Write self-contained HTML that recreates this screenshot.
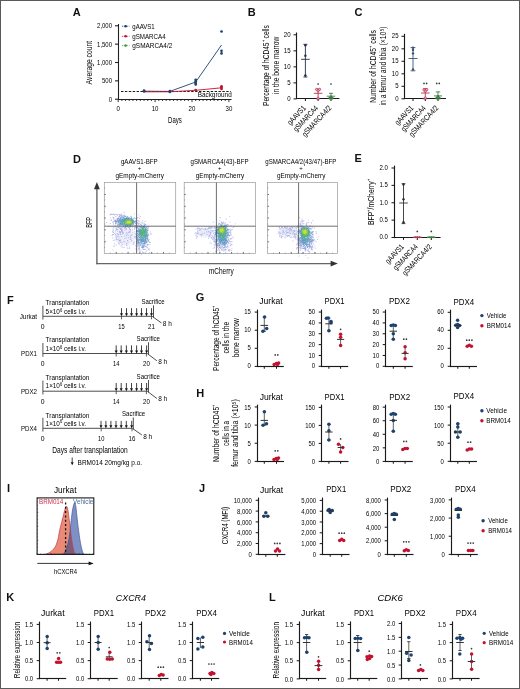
<!DOCTYPE html><html><head><meta charset="utf-8"><style>html,body{margin:0;padding:0;background:#fff;}svg{display:block;will-change:transform;}text{font-family:"Liberation Sans",sans-serif;}</style></head><body>
<svg width="520" height="689" viewBox="0 0 520 689">
<rect x="0" y="0" width="520" height="689" fill="#fff"/>
<text x="72.80" y="15.80" font-size="11" font-weight="bold" fill="#111">A</text>
<line x1="118.50" y1="24.00" x2="118.50" y2="100.00" stroke="#222" stroke-width="1.1"/>
<line x1="118.00" y1="99.50" x2="231.50" y2="99.50" stroke="#222" stroke-width="1.15"/>
<line x1="115.00" y1="25.80" x2="118.50" y2="25.80" stroke="#222" stroke-width="1.1"/>
<text x="112.00" y="28.32" font-size="7.2" text-anchor="end" textLength="14.90" lengthAdjust="spacingAndGlyphs">2,000</text>
<line x1="115.00" y1="44.15" x2="118.50" y2="44.15" stroke="#222" stroke-width="1.1"/>
<text x="112.00" y="46.67" font-size="7.2" text-anchor="end" textLength="14.90" lengthAdjust="spacingAndGlyphs">1,500</text>
<line x1="115.00" y1="62.50" x2="118.50" y2="62.50" stroke="#222" stroke-width="1.1"/>
<text x="112.00" y="65.02" font-size="7.2" text-anchor="end" textLength="14.90" lengthAdjust="spacingAndGlyphs">1,000</text>
<line x1="115.00" y1="80.85" x2="118.50" y2="80.85" stroke="#222" stroke-width="1.1"/>
<text x="112.00" y="83.37" font-size="7.2" text-anchor="end" textLength="10.05" lengthAdjust="spacingAndGlyphs">500</text>
<line x1="115.00" y1="99.20" x2="118.50" y2="99.20" stroke="#222" stroke-width="1.1"/>
<text x="112.00" y="101.72" font-size="7.2" text-anchor="end" textLength="3.35" lengthAdjust="spacingAndGlyphs">0</text>
<line x1="118.20" y1="99.50" x2="118.20" y2="102.10" stroke="#222" stroke-width="0.9"/>
<line x1="121.89" y1="99.50" x2="121.89" y2="101.00" stroke="#222" stroke-width="0.9"/>
<line x1="125.58" y1="99.50" x2="125.58" y2="101.00" stroke="#222" stroke-width="0.9"/>
<line x1="129.27" y1="99.50" x2="129.27" y2="101.00" stroke="#222" stroke-width="0.9"/>
<line x1="132.96" y1="99.50" x2="132.96" y2="101.00" stroke="#222" stroke-width="0.9"/>
<line x1="136.65" y1="99.50" x2="136.65" y2="101.00" stroke="#222" stroke-width="0.9"/>
<line x1="140.34" y1="99.50" x2="140.34" y2="101.00" stroke="#222" stroke-width="0.9"/>
<line x1="144.03" y1="99.50" x2="144.03" y2="101.00" stroke="#222" stroke-width="0.9"/>
<line x1="147.72" y1="99.50" x2="147.72" y2="101.00" stroke="#222" stroke-width="0.9"/>
<line x1="151.41" y1="99.50" x2="151.41" y2="101.00" stroke="#222" stroke-width="0.9"/>
<line x1="155.10" y1="99.50" x2="155.10" y2="102.10" stroke="#222" stroke-width="0.9"/>
<line x1="158.79" y1="99.50" x2="158.79" y2="101.00" stroke="#222" stroke-width="0.9"/>
<line x1="162.48" y1="99.50" x2="162.48" y2="101.00" stroke="#222" stroke-width="0.9"/>
<line x1="166.17" y1="99.50" x2="166.17" y2="101.00" stroke="#222" stroke-width="0.9"/>
<line x1="169.86" y1="99.50" x2="169.86" y2="101.00" stroke="#222" stroke-width="0.9"/>
<line x1="173.55" y1="99.50" x2="173.55" y2="101.00" stroke="#222" stroke-width="0.9"/>
<line x1="177.24" y1="99.50" x2="177.24" y2="101.00" stroke="#222" stroke-width="0.9"/>
<line x1="180.93" y1="99.50" x2="180.93" y2="101.00" stroke="#222" stroke-width="0.9"/>
<line x1="184.62" y1="99.50" x2="184.62" y2="101.00" stroke="#222" stroke-width="0.9"/>
<line x1="188.31" y1="99.50" x2="188.31" y2="101.00" stroke="#222" stroke-width="0.9"/>
<line x1="192.00" y1="99.50" x2="192.00" y2="102.10" stroke="#222" stroke-width="0.9"/>
<line x1="195.69" y1="99.50" x2="195.69" y2="101.00" stroke="#222" stroke-width="0.9"/>
<line x1="199.38" y1="99.50" x2="199.38" y2="101.00" stroke="#222" stroke-width="0.9"/>
<line x1="203.07" y1="99.50" x2="203.07" y2="101.00" stroke="#222" stroke-width="0.9"/>
<line x1="206.76" y1="99.50" x2="206.76" y2="101.00" stroke="#222" stroke-width="0.9"/>
<line x1="210.45" y1="99.50" x2="210.45" y2="101.00" stroke="#222" stroke-width="0.9"/>
<line x1="214.14" y1="99.50" x2="214.14" y2="101.00" stroke="#222" stroke-width="0.9"/>
<line x1="217.83" y1="99.50" x2="217.83" y2="101.00" stroke="#222" stroke-width="0.9"/>
<line x1="221.52" y1="99.50" x2="221.52" y2="101.00" stroke="#222" stroke-width="0.9"/>
<line x1="225.21" y1="99.50" x2="225.21" y2="101.00" stroke="#222" stroke-width="0.9"/>
<line x1="228.90" y1="99.50" x2="228.90" y2="102.10" stroke="#222" stroke-width="0.9"/>
<text x="118.20" y="111.19" font-size="7.2" text-anchor="middle" textLength="3.40" lengthAdjust="spacingAndGlyphs">0</text>
<text x="155.10" y="111.19" font-size="7.2" text-anchor="middle" textLength="6.80" lengthAdjust="spacingAndGlyphs">10</text>
<text x="192.00" y="111.19" font-size="7.2" text-anchor="middle" textLength="6.80" lengthAdjust="spacingAndGlyphs">20</text>
<text x="228.90" y="111.19" font-size="7.2" text-anchor="middle" textLength="6.80" lengthAdjust="spacingAndGlyphs">30</text>
<text x="174.90" y="122.66" font-size="8.2" text-anchor="middle" textLength="13.70" lengthAdjust="spacingAndGlyphs">Days</text>
<text x="91.80" y="62.60" font-size="8.4" text-anchor="middle" textLength="43.60" lengthAdjust="spacingAndGlyphs" transform="rotate(-90 91.80 62.60)">Average count</text>
<line x1="121.00" y1="91.50" x2="231.00" y2="91.50" stroke="#1a1a1a" stroke-width="1.1" stroke-dasharray="2.4,1.5"/>
<text x="214.70" y="96.76" font-size="7.2" text-anchor="middle" textLength="34.00" lengthAdjust="spacingAndGlyphs">Background</text>
<path d="M144.03 91.2 L169.86 91.4 L195.69 82 L221.51999999999998 45" fill="none" stroke="#1c426f" stroke-width="0.9"/>
<path d="M144.03 91.8 L169.86 91.8 L195.69 90.3 L221.51999999999998 87.8" fill="none" stroke="#c3122f" stroke-width="0.9"/>
<circle cx="144.03" cy="90.60" r="1.35" fill="#1c426f"/>
<circle cx="144.03" cy="91.40" r="1.35" fill="#1c426f"/>
<circle cx="169.86" cy="91.00" r="1.35" fill="#1c426f"/>
<circle cx="169.86" cy="92.00" r="1.35" fill="#1c426f"/>
<circle cx="195.69" cy="79.80" r="1.35" fill="#1c426f"/>
<circle cx="195.69" cy="81.40" r="1.35" fill="#1c426f"/>
<circle cx="195.69" cy="83.00" r="1.35" fill="#1c426f"/>
<circle cx="195.69" cy="84.40" r="1.35" fill="#1c426f"/>
<circle cx="221.52" cy="31.50" r="1.35" fill="#1c426f"/>
<circle cx="221.52" cy="50.80" r="1.35" fill="#1c426f"/>
<circle cx="221.52" cy="53.40" r="1.35" fill="#1c426f"/>
<circle cx="195.69" cy="90.10" r="1.35" fill="#c3122f"/>
<circle cx="221.52" cy="86.30" r="1.35" fill="#c3122f"/>
<circle cx="221.52" cy="87.60" r="1.35" fill="#c3122f"/>
<circle cx="221.52" cy="89.00" r="1.35" fill="#c3122f"/>
<line x1="121.90" y1="26.20" x2="129.40" y2="26.20" stroke="#1c426f" stroke-width="0.8" stroke-dasharray="1.4,0.9"/>
<circle cx="125.60" cy="26.20" r="1.3" fill="#1c426f"/>
<text x="132.30" y="28.64" font-size="7.4" textLength="22.30" lengthAdjust="spacingAndGlyphs">gAAVS1</text>
<line x1="121.90" y1="36.30" x2="129.40" y2="36.30" stroke="#c3122f" stroke-width="0.8" stroke-dasharray="1.4,0.9"/>
<circle cx="125.60" cy="36.30" r="1.3" fill="#c3122f"/>
<text x="132.30" y="38.74" font-size="7.4" textLength="33.30" lengthAdjust="spacingAndGlyphs">gSMARCA4</text>
<line x1="121.90" y1="45.60" x2="129.40" y2="45.60" stroke="#4a9a3a" stroke-width="0.8" stroke-dasharray="1.4,0.9"/>
<circle cx="125.60" cy="45.60" r="1.3" fill="#4a9a3a"/>
<text x="132.30" y="48.04" font-size="7.4" textLength="40.00" lengthAdjust="spacingAndGlyphs">gSMARCA4/2</text>
<text x="247.80" y="15.80" font-size="11" font-weight="bold" fill="#111">B</text>
<line x1="296.50" y1="32.50" x2="296.50" y2="99.08" stroke="#1a1a1a" stroke-width="1.15"/>
<line x1="295.93" y1="98.50" x2="339.40" y2="98.50" stroke="#1a1a1a" stroke-width="1.15"/>
<line x1="293.50" y1="98.90" x2="296.50" y2="98.90" stroke="#1a1a1a" stroke-width="1.035"/>
<text x="290.60" y="100.70" font-size="7.2" text-anchor="end" textLength="3.40" lengthAdjust="spacingAndGlyphs">0</text>
<line x1="293.50" y1="82.88" x2="296.50" y2="82.88" stroke="#1a1a1a" stroke-width="1.035"/>
<text x="290.60" y="84.67" font-size="7.2" text-anchor="end" textLength="3.40" lengthAdjust="spacingAndGlyphs">5</text>
<line x1="293.50" y1="66.85" x2="296.50" y2="66.85" stroke="#1a1a1a" stroke-width="1.035"/>
<text x="290.60" y="68.65" font-size="7.2" text-anchor="end" textLength="6.80" lengthAdjust="spacingAndGlyphs">10</text>
<line x1="293.50" y1="50.83" x2="296.50" y2="50.83" stroke="#1a1a1a" stroke-width="1.035"/>
<text x="290.60" y="52.62" font-size="7.2" text-anchor="end" textLength="6.80" lengthAdjust="spacingAndGlyphs">15</text>
<line x1="293.50" y1="34.80" x2="296.50" y2="34.80" stroke="#1a1a1a" stroke-width="1.035"/>
<text x="290.60" y="36.60" font-size="7.2" text-anchor="end" textLength="6.80" lengthAdjust="spacingAndGlyphs">20</text>
<line x1="305.40" y1="98.50" x2="305.40" y2="100.90" stroke="#1a1a1a" stroke-width="1.035"/>
<line x1="318.10" y1="98.50" x2="318.10" y2="100.90" stroke="#1a1a1a" stroke-width="1.035"/>
<line x1="331.00" y1="98.50" x2="331.00" y2="100.90" stroke="#1a1a1a" stroke-width="1.035"/>
<text x="269.00" y="65.60" font-size="9.0" text-anchor="middle" textLength="80.80" lengthAdjust="spacingAndGlyphs" transform="rotate(-90 269.00 65.60)">Percentage of hCD45⁺ cells</text>
<text x="278.90" y="65.30" font-size="9.0" text-anchor="middle" textLength="57.50" lengthAdjust="spacingAndGlyphs" transform="rotate(-90 278.90 65.30)">in the bone marrow</text>
<line x1="305.40" y1="44.30" x2="305.40" y2="77.00" stroke="#232e45" stroke-width="0.9"/>
<line x1="301.10" y1="59.30" x2="309.70" y2="59.30" stroke="#232e45" stroke-width="0.9"/>
<line x1="303.40" y1="44.30" x2="307.40" y2="44.30" stroke="#232e45" stroke-width="0.9"/>
<line x1="303.40" y1="77.00" x2="307.40" y2="77.00" stroke="#232e45" stroke-width="0.9"/>
<circle cx="305.40" cy="45.20" r="1.2" fill="#232e45"/>
<circle cx="305.40" cy="55.80" r="1.2" fill="#232e45"/>
<circle cx="305.40" cy="75.50" r="1.2" fill="#232e45"/>
<line x1="318.10" y1="89.00" x2="318.10" y2="98.90" stroke="#b8344f" stroke-width="0.9"/>
<line x1="313.80" y1="93.30" x2="322.40" y2="93.30" stroke="#b8344f" stroke-width="0.9"/>
<line x1="316.10" y1="89.00" x2="320.10" y2="89.00" stroke="#b8344f" stroke-width="0.9"/>
<line x1="316.10" y1="98.90" x2="320.10" y2="98.90" stroke="#b8344f" stroke-width="0.9"/>
<circle cx="316.6" cy="89.4" r="1.15" fill="#eeb8c4" stroke="#b8344f" stroke-width="0.7"/>
<circle cx="319.6" cy="89.4" r="1.15" fill="#eeb8c4" stroke="#b8344f" stroke-width="0.7"/>
<circle cx="318.1" cy="90.8" r="1.15" fill="#eeb8c4" stroke="#b8344f" stroke-width="0.7"/>
<circle cx="318.1" cy="98.2" r="1.15" fill="#eeb8c4" stroke="#b8344f" stroke-width="0.7"/>
<line x1="331.00" y1="93.30" x2="331.00" y2="98.90" stroke="#3f7d3f" stroke-width="0.9"/>
<line x1="326.80" y1="96.20" x2="335.20" y2="96.20" stroke="#3f7d3f" stroke-width="0.9"/>
<line x1="329.00" y1="93.30" x2="333.00" y2="93.30" stroke="#3f7d3f" stroke-width="0.9"/>
<line x1="329.00" y1="98.90" x2="333.00" y2="98.90" stroke="#3f7d3f" stroke-width="0.9"/>
<circle cx="331.00" cy="96.70" r="1.2" fill="#3f7d3f"/>
<circle cx="329.60" cy="98.00" r="1.2" fill="#3f7d3f"/>
<circle cx="332.40" cy="98.00" r="1.2" fill="#3f7d3f"/>
<circle cx="318.10" cy="84.00" r="0.85" fill="#383838"/>
<circle cx="331.00" cy="84.00" r="0.85" fill="#383838"/>
<text transform="translate(304.40 106.6) rotate(-47)" text-anchor="end" dy="2.7" font-size="7.8" textLength="23.4" lengthAdjust="spacingAndGlyphs">gAAVS1</text>
<text transform="translate(316.60 106.6) rotate(-47)" text-anchor="end" dy="2.7" font-size="7.8" textLength="32.3" lengthAdjust="spacingAndGlyphs">gSMARCA4</text>
<text transform="translate(330.00 106.6) rotate(-47)" text-anchor="end" dy="2.7" font-size="7.8" textLength="39.3" lengthAdjust="spacingAndGlyphs">gSMARCA4/2</text>
<text x="354.40" y="15.80" font-size="11" font-weight="bold" fill="#111">C</text>
<line x1="404.50" y1="33.80" x2="404.50" y2="99.08" stroke="#1a1a1a" stroke-width="1.15"/>
<line x1="403.93" y1="98.50" x2="446.00" y2="98.50" stroke="#1a1a1a" stroke-width="1.15"/>
<line x1="401.50" y1="98.80" x2="404.50" y2="98.80" stroke="#1a1a1a" stroke-width="1.035"/>
<text x="398.50" y="100.60" font-size="7.2" text-anchor="end" textLength="3.35" lengthAdjust="spacingAndGlyphs">0</text>
<line x1="401.50" y1="86.30" x2="404.50" y2="86.30" stroke="#1a1a1a" stroke-width="1.035"/>
<text x="398.50" y="88.10" font-size="7.2" text-anchor="end" textLength="3.35" lengthAdjust="spacingAndGlyphs">5</text>
<line x1="401.50" y1="73.80" x2="404.50" y2="73.80" stroke="#1a1a1a" stroke-width="1.035"/>
<text x="398.50" y="75.60" font-size="7.2" text-anchor="end" textLength="6.70" lengthAdjust="spacingAndGlyphs">10</text>
<line x1="401.50" y1="61.30" x2="404.50" y2="61.30" stroke="#1a1a1a" stroke-width="1.035"/>
<text x="398.50" y="63.10" font-size="7.2" text-anchor="end" textLength="6.70" lengthAdjust="spacingAndGlyphs">15</text>
<line x1="401.50" y1="48.80" x2="404.50" y2="48.80" stroke="#1a1a1a" stroke-width="1.035"/>
<text x="398.50" y="50.60" font-size="7.2" text-anchor="end" textLength="6.70" lengthAdjust="spacingAndGlyphs">20</text>
<line x1="401.50" y1="36.30" x2="404.50" y2="36.30" stroke="#1a1a1a" stroke-width="1.035"/>
<text x="398.50" y="38.10" font-size="7.2" text-anchor="end" textLength="6.70" lengthAdjust="spacingAndGlyphs">25</text>
<line x1="413.00" y1="98.50" x2="413.00" y2="100.90" stroke="#1a1a1a" stroke-width="1.035"/>
<line x1="425.30" y1="98.50" x2="425.30" y2="100.90" stroke="#1a1a1a" stroke-width="1.035"/>
<line x1="438.00" y1="98.50" x2="438.00" y2="100.90" stroke="#1a1a1a" stroke-width="1.035"/>
<text x="376.00" y="66.45" font-size="9.0" text-anchor="middle" textLength="72.70" lengthAdjust="spacingAndGlyphs" transform="rotate(-90 376.00 66.45)">Number of hCD45⁺ cells</text>
<text x="385.60" y="66.00" font-size="9.0" text-anchor="middle" textLength="79.10" lengthAdjust="spacingAndGlyphs" transform="rotate(-90 385.60 66.00)">in a femur and tibia (×10⁵)</text>
<line x1="413.00" y1="47.60" x2="413.00" y2="70.80" stroke="#3b5578" stroke-width="0.9"/>
<line x1="408.50" y1="58.50" x2="417.50" y2="58.50" stroke="#3b5578" stroke-width="0.9"/>
<line x1="410.60" y1="47.60" x2="415.40" y2="47.60" stroke="#3b5578" stroke-width="0.9"/>
<line x1="410.60" y1="70.80" x2="415.40" y2="70.80" stroke="#3b5578" stroke-width="0.9"/>
<circle cx="413.00" cy="50.00" r="1.2" fill="#3b5578"/>
<circle cx="413.00" cy="53.40" r="1.2" fill="#3b5578"/>
<circle cx="413.00" cy="69.40" r="1.2" fill="#3b5578"/>
<circle cx="413.00" cy="47.80" r="1.2" fill="#3b5578"/>
<line x1="425.30" y1="88.60" x2="425.30" y2="98.80" stroke="#b8344f" stroke-width="0.9"/>
<line x1="421.00" y1="93.00" x2="429.60" y2="93.00" stroke="#b8344f" stroke-width="0.9"/>
<line x1="423.10" y1="88.60" x2="427.50" y2="88.60" stroke="#b8344f" stroke-width="0.9"/>
<line x1="423.10" y1="98.80" x2="427.50" y2="98.80" stroke="#b8344f" stroke-width="0.9"/>
<circle cx="423.9" cy="89.7" r="1.15" fill="#eeb8c4" stroke="#b8344f" stroke-width="0.7"/>
<circle cx="426.7" cy="89.7" r="1.15" fill="#eeb8c4" stroke="#b8344f" stroke-width="0.7"/>
<circle cx="425.3" cy="91.2" r="1.15" fill="#eeb8c4" stroke="#b8344f" stroke-width="0.7"/>
<circle cx="425.3" cy="98.0" r="1.15" fill="#eeb8c4" stroke="#b8344f" stroke-width="0.7"/>
<line x1="438.00" y1="91.90" x2="438.00" y2="98.80" stroke="#3f7d3f" stroke-width="0.9"/>
<line x1="434.00" y1="95.90" x2="442.00" y2="95.90" stroke="#3f7d3f" stroke-width="0.9"/>
<line x1="435.80" y1="91.90" x2="440.20" y2="91.90" stroke="#3f7d3f" stroke-width="0.9"/>
<line x1="435.80" y1="98.80" x2="440.20" y2="98.80" stroke="#3f7d3f" stroke-width="0.9"/>
<circle cx="438.00" cy="96.30" r="1.2" fill="#3f7d3f"/>
<circle cx="436.60" cy="98.00" r="1.2" fill="#3f7d3f"/>
<circle cx="439.40" cy="98.00" r="1.2" fill="#3f7d3f"/>
<circle cx="424.00" cy="83.40" r="0.85" fill="#383838"/>
<circle cx="426.60" cy="83.40" r="0.85" fill="#383838"/>
<circle cx="436.70" cy="83.40" r="0.85" fill="#383838"/>
<circle cx="439.30" cy="83.40" r="0.85" fill="#383838"/>
<text transform="translate(412.00 106.6) rotate(-47)" text-anchor="end" dy="2.7" font-size="7.8" textLength="23.4" lengthAdjust="spacingAndGlyphs">gAAVS1</text>
<text transform="translate(424.30 106.6) rotate(-47)" text-anchor="end" dy="2.7" font-size="7.8" textLength="32.3" lengthAdjust="spacingAndGlyphs">gSMARCA4</text>
<text transform="translate(437.00 106.6) rotate(-47)" text-anchor="end" dy="2.7" font-size="7.8" textLength="39.3" lengthAdjust="spacingAndGlyphs">gSMARCA4/2</text>
<text x="354.60" y="162.40" font-size="11" font-weight="bold" fill="#111">E</text>
<line x1="394.50" y1="165.60" x2="394.50" y2="238.07" stroke="#1a1a1a" stroke-width="1.15"/>
<line x1="393.93" y1="237.50" x2="440.60" y2="237.50" stroke="#1a1a1a" stroke-width="1.15"/>
<line x1="391.50" y1="237.50" x2="394.50" y2="237.50" stroke="#1a1a1a" stroke-width="1.035"/>
<text x="387.80" y="239.30" font-size="7.2" text-anchor="end" textLength="8.40" lengthAdjust="spacingAndGlyphs">0.0</text>
<line x1="391.50" y1="220.12" x2="394.50" y2="220.12" stroke="#1a1a1a" stroke-width="1.035"/>
<text x="387.80" y="221.93" font-size="7.2" text-anchor="end" textLength="8.40" lengthAdjust="spacingAndGlyphs">0.5</text>
<line x1="391.50" y1="202.75" x2="394.50" y2="202.75" stroke="#1a1a1a" stroke-width="1.035"/>
<text x="387.80" y="204.55" font-size="7.2" text-anchor="end" textLength="8.40" lengthAdjust="spacingAndGlyphs">1.0</text>
<line x1="391.50" y1="185.38" x2="394.50" y2="185.38" stroke="#1a1a1a" stroke-width="1.035"/>
<text x="387.80" y="187.18" font-size="7.2" text-anchor="end" textLength="8.40" lengthAdjust="spacingAndGlyphs">1.5</text>
<line x1="391.50" y1="168.00" x2="394.50" y2="168.00" stroke="#1a1a1a" stroke-width="1.035"/>
<text x="387.80" y="169.80" font-size="7.2" text-anchor="end" textLength="8.40" lengthAdjust="spacingAndGlyphs">2.0</text>
<line x1="403.50" y1="237.50" x2="403.50" y2="239.90" stroke="#1a1a1a" stroke-width="1.035"/>
<line x1="417.30" y1="237.50" x2="417.30" y2="239.90" stroke="#1a1a1a" stroke-width="1.035"/>
<line x1="431.30" y1="237.50" x2="431.30" y2="239.90" stroke="#1a1a1a" stroke-width="1.035"/>
<text x="373.80" y="202.00" font-size="8.8" text-anchor="middle" textLength="45.90" lengthAdjust="spacingAndGlyphs" transform="rotate(-90 373.80 202.00)">BFP⁺/mCherry⁺</text>
<line x1="403.50" y1="183.70" x2="403.50" y2="223.60" stroke="#333" stroke-width="0.9"/>
<line x1="399.20" y1="203.00" x2="407.80" y2="203.00" stroke="#333" stroke-width="0.9"/>
<line x1="401.60" y1="183.70" x2="405.40" y2="183.70" stroke="#333" stroke-width="0.9"/>
<line x1="401.60" y1="223.60" x2="405.40" y2="223.60" stroke="#333" stroke-width="0.9"/>
<circle cx="403.50" cy="199.30" r="1.2" fill="#2e2e2e"/>
<circle cx="403.50" cy="222.30" r="1.2" fill="#2e2e2e"/>
<circle cx="403.50" cy="184.50" r="1.2" fill="#2e2e2e"/>
<line x1="413.00" y1="237.30" x2="421.50" y2="237.30" stroke="#b8344f" stroke-width="1.4"/>
<line x1="427.00" y1="237.30" x2="435.50" y2="237.30" stroke="#3f7d3f" stroke-width="1.4"/>
<circle cx="415.50" cy="237.30" r="1.0" fill="#b8344f"/>
<circle cx="417.30" cy="237.30" r="1.0" fill="#b8344f"/>
<circle cx="419.30" cy="237.30" r="1.0" fill="#b8344f"/>
<circle cx="429.50" cy="237.30" r="1.0" fill="#3f7d3f"/>
<circle cx="431.30" cy="237.30" r="1.0" fill="#3f7d3f"/>
<circle cx="433.30" cy="237.30" r="1.0" fill="#3f7d3f"/>
<circle cx="417.30" cy="231.40" r="0.85" fill="#383838"/>
<circle cx="431.30" cy="231.40" r="0.85" fill="#383838"/>
<text transform="translate(402.50 245.3) rotate(-47)" text-anchor="end" dy="2.7" font-size="7.8" textLength="23.4" lengthAdjust="spacingAndGlyphs">gAAVS1</text>
<text transform="translate(416.30 245.3) rotate(-47)" text-anchor="end" dy="2.7" font-size="7.8" textLength="32.3" lengthAdjust="spacingAndGlyphs">gSMARCA4</text>
<text transform="translate(430.30 245.3) rotate(-47)" text-anchor="end" dy="2.7" font-size="7.8" textLength="39.3" lengthAdjust="spacingAndGlyphs">gSMARCA4/2</text>
<text x="72.90" y="162.50" font-size="11" font-weight="bold" fill="#111">D</text>
<defs><filter id="bl" x="-50%" y="-50%" width="200%" height="200%"><feGaussianBlur stdDeviation="1.1"/></filter><filter id="bl2" x="-50%" y="-50%" width="200%" height="200%"><feGaussianBlur stdDeviation="0.6"/></filter><marker id="ah" viewBox="0 0 10 10" refX="9" refY="5" markerWidth="6" markerHeight="6" orient="auto"><path d="M0 0 L10 5 L0 10 z" fill="#111"/></marker></defs>
<line x1="96.90" y1="189.00" x2="96.90" y2="264.30" stroke="#666" stroke-width="1.4"/>
<path d="M96.9 182.0 L94.0 189.2 L99.8 189.2 Z" fill="#333"/>
<line x1="96.20" y1="263.60" x2="331.00" y2="263.60" stroke="#666" stroke-width="1.4"/>
<path d="M337.8 263.6 L330.6 260.8 L330.6 266.4 Z" fill="#333"/>
<text x="91.90" y="222.40" font-size="8.4" text-anchor="middle" textLength="10.90" lengthAdjust="spacingAndGlyphs" transform="rotate(-90 91.90 222.40)">BFP</text>
<text x="221.30" y="273.70" font-size="8.4" text-anchor="middle" textLength="24.80" lengthAdjust="spacingAndGlyphs">mCherry</text>
<text x="139.30" y="163.50" font-size="7.2" text-anchor="middle" textLength="36.80" lengthAdjust="spacingAndGlyphs">gAAVS1-BFP</text>
<text x="139.60" y="170.00" font-size="6.0" text-anchor="middle">+</text>
<text x="139.70" y="178.00" font-size="7.2" text-anchor="middle" textLength="48.50" lengthAdjust="spacingAndGlyphs">gEmpty-mCherry</text>
<rect x="104.3" y="182.6" width="71.39999999999999" height="70.9" fill="none" stroke="#9a9a9a" stroke-width="0.7"/>
<line x1="104.30" y1="194.50" x2="105.90" y2="194.50" stroke="#444" stroke-width="0.7"/>
<line x1="104.30" y1="206.30" x2="105.90" y2="206.30" stroke="#444" stroke-width="0.7"/>
<line x1="104.30" y1="218.00" x2="105.90" y2="218.00" stroke="#444" stroke-width="0.7"/>
<line x1="104.30" y1="229.80" x2="105.90" y2="229.80" stroke="#444" stroke-width="0.7"/>
<line x1="104.30" y1="241.80" x2="105.90" y2="241.80" stroke="#444" stroke-width="0.7"/>
<line x1="104.30" y1="188.00" x2="105.20" y2="188.00" stroke="#666" stroke-width="0.5"/>
<line x1="104.30" y1="200.00" x2="105.20" y2="200.00" stroke="#666" stroke-width="0.5"/>
<line x1="104.30" y1="212.00" x2="105.20" y2="212.00" stroke="#666" stroke-width="0.5"/>
<line x1="104.30" y1="224.00" x2="105.20" y2="224.00" stroke="#666" stroke-width="0.5"/>
<line x1="104.30" y1="235.50" x2="105.20" y2="235.50" stroke="#666" stroke-width="0.5"/>
<line x1="104.30" y1="247.50" x2="105.20" y2="247.50" stroke="#666" stroke-width="0.5"/>
<line x1="116.30" y1="253.50" x2="116.30" y2="251.90" stroke="#444" stroke-width="0.7"/>
<line x1="128.10" y1="253.50" x2="128.10" y2="251.90" stroke="#444" stroke-width="0.7"/>
<line x1="139.90" y1="253.50" x2="139.90" y2="251.90" stroke="#444" stroke-width="0.7"/>
<line x1="151.70" y1="253.50" x2="151.70" y2="251.90" stroke="#444" stroke-width="0.7"/>
<line x1="163.50" y1="253.50" x2="163.50" y2="251.90" stroke="#444" stroke-width="0.7"/>
<line x1="110.30" y1="253.50" x2="110.30" y2="252.60" stroke="#666" stroke-width="0.5"/>
<line x1="116.20" y1="253.50" x2="116.20" y2="252.60" stroke="#666" stroke-width="0.5"/>
<line x1="122.10" y1="253.50" x2="122.10" y2="252.60" stroke="#666" stroke-width="0.5"/>
<line x1="128.00" y1="253.50" x2="128.00" y2="252.60" stroke="#666" stroke-width="0.5"/>
<line x1="133.90" y1="253.50" x2="133.90" y2="252.60" stroke="#666" stroke-width="0.5"/>
<line x1="139.80" y1="253.50" x2="139.80" y2="252.60" stroke="#666" stroke-width="0.5"/>
<line x1="145.70" y1="253.50" x2="145.70" y2="252.60" stroke="#666" stroke-width="0.5"/>
<line x1="151.60" y1="253.50" x2="151.60" y2="252.60" stroke="#666" stroke-width="0.5"/>
<line x1="157.50" y1="253.50" x2="157.50" y2="252.60" stroke="#666" stroke-width="0.5"/>
<line x1="163.40" y1="253.50" x2="163.40" y2="252.60" stroke="#666" stroke-width="0.5"/>
<line x1="169.30" y1="253.50" x2="169.30" y2="252.60" stroke="#666" stroke-width="0.5"/>
<text x="219.50" y="163.50" font-size="7.2" text-anchor="middle" textLength="58.00" lengthAdjust="spacingAndGlyphs">gSMARCA4(43)-BFP</text>
<text x="219.80" y="170.00" font-size="6.0" text-anchor="middle">+</text>
<text x="219.90" y="178.00" font-size="7.2" text-anchor="middle" textLength="48.50" lengthAdjust="spacingAndGlyphs">gEmpty-mCherry</text>
<rect x="184.2" y="182.6" width="71.30000000000001" height="70.9" fill="none" stroke="#9a9a9a" stroke-width="0.7"/>
<line x1="184.20" y1="194.50" x2="185.80" y2="194.50" stroke="#444" stroke-width="0.7"/>
<line x1="184.20" y1="206.30" x2="185.80" y2="206.30" stroke="#444" stroke-width="0.7"/>
<line x1="184.20" y1="218.00" x2="185.80" y2="218.00" stroke="#444" stroke-width="0.7"/>
<line x1="184.20" y1="229.80" x2="185.80" y2="229.80" stroke="#444" stroke-width="0.7"/>
<line x1="184.20" y1="241.80" x2="185.80" y2="241.80" stroke="#444" stroke-width="0.7"/>
<line x1="184.20" y1="188.00" x2="185.10" y2="188.00" stroke="#666" stroke-width="0.5"/>
<line x1="184.20" y1="200.00" x2="185.10" y2="200.00" stroke="#666" stroke-width="0.5"/>
<line x1="184.20" y1="212.00" x2="185.10" y2="212.00" stroke="#666" stroke-width="0.5"/>
<line x1="184.20" y1="224.00" x2="185.10" y2="224.00" stroke="#666" stroke-width="0.5"/>
<line x1="184.20" y1="235.50" x2="185.10" y2="235.50" stroke="#666" stroke-width="0.5"/>
<line x1="184.20" y1="247.50" x2="185.10" y2="247.50" stroke="#666" stroke-width="0.5"/>
<line x1="196.20" y1="253.50" x2="196.20" y2="251.90" stroke="#444" stroke-width="0.7"/>
<line x1="208.00" y1="253.50" x2="208.00" y2="251.90" stroke="#444" stroke-width="0.7"/>
<line x1="219.80" y1="253.50" x2="219.80" y2="251.90" stroke="#444" stroke-width="0.7"/>
<line x1="231.60" y1="253.50" x2="231.60" y2="251.90" stroke="#444" stroke-width="0.7"/>
<line x1="243.40" y1="253.50" x2="243.40" y2="251.90" stroke="#444" stroke-width="0.7"/>
<line x1="190.20" y1="253.50" x2="190.20" y2="252.60" stroke="#666" stroke-width="0.5"/>
<line x1="196.10" y1="253.50" x2="196.10" y2="252.60" stroke="#666" stroke-width="0.5"/>
<line x1="202.00" y1="253.50" x2="202.00" y2="252.60" stroke="#666" stroke-width="0.5"/>
<line x1="207.90" y1="253.50" x2="207.90" y2="252.60" stroke="#666" stroke-width="0.5"/>
<line x1="213.80" y1="253.50" x2="213.80" y2="252.60" stroke="#666" stroke-width="0.5"/>
<line x1="219.70" y1="253.50" x2="219.70" y2="252.60" stroke="#666" stroke-width="0.5"/>
<line x1="225.60" y1="253.50" x2="225.60" y2="252.60" stroke="#666" stroke-width="0.5"/>
<line x1="231.50" y1="253.50" x2="231.50" y2="252.60" stroke="#666" stroke-width="0.5"/>
<line x1="237.40" y1="253.50" x2="237.40" y2="252.60" stroke="#666" stroke-width="0.5"/>
<line x1="243.30" y1="253.50" x2="243.30" y2="252.60" stroke="#666" stroke-width="0.5"/>
<line x1="249.20" y1="253.50" x2="249.20" y2="252.60" stroke="#666" stroke-width="0.5"/>
<text x="300.80" y="163.50" font-size="7.2" text-anchor="middle" textLength="71.00" lengthAdjust="spacingAndGlyphs">gSMARCA4/2(43/47)-BFP</text>
<text x="301.10" y="170.00" font-size="6.0" text-anchor="middle">+</text>
<text x="301.20" y="178.00" font-size="7.2" text-anchor="middle" textLength="48.50" lengthAdjust="spacingAndGlyphs">gEmpty-mCherry</text>
<rect x="267.5" y="182.6" width="70.10000000000002" height="70.9" fill="none" stroke="#9a9a9a" stroke-width="0.7"/>
<line x1="267.50" y1="194.50" x2="269.10" y2="194.50" stroke="#444" stroke-width="0.7"/>
<line x1="267.50" y1="206.30" x2="269.10" y2="206.30" stroke="#444" stroke-width="0.7"/>
<line x1="267.50" y1="218.00" x2="269.10" y2="218.00" stroke="#444" stroke-width="0.7"/>
<line x1="267.50" y1="229.80" x2="269.10" y2="229.80" stroke="#444" stroke-width="0.7"/>
<line x1="267.50" y1="241.80" x2="269.10" y2="241.80" stroke="#444" stroke-width="0.7"/>
<line x1="267.50" y1="188.00" x2="268.40" y2="188.00" stroke="#666" stroke-width="0.5"/>
<line x1="267.50" y1="200.00" x2="268.40" y2="200.00" stroke="#666" stroke-width="0.5"/>
<line x1="267.50" y1="212.00" x2="268.40" y2="212.00" stroke="#666" stroke-width="0.5"/>
<line x1="267.50" y1="224.00" x2="268.40" y2="224.00" stroke="#666" stroke-width="0.5"/>
<line x1="267.50" y1="235.50" x2="268.40" y2="235.50" stroke="#666" stroke-width="0.5"/>
<line x1="267.50" y1="247.50" x2="268.40" y2="247.50" stroke="#666" stroke-width="0.5"/>
<line x1="279.50" y1="253.50" x2="279.50" y2="251.90" stroke="#444" stroke-width="0.7"/>
<line x1="291.30" y1="253.50" x2="291.30" y2="251.90" stroke="#444" stroke-width="0.7"/>
<line x1="303.10" y1="253.50" x2="303.10" y2="251.90" stroke="#444" stroke-width="0.7"/>
<line x1="314.90" y1="253.50" x2="314.90" y2="251.90" stroke="#444" stroke-width="0.7"/>
<line x1="326.70" y1="253.50" x2="326.70" y2="251.90" stroke="#444" stroke-width="0.7"/>
<line x1="273.50" y1="253.50" x2="273.50" y2="252.60" stroke="#666" stroke-width="0.5"/>
<line x1="279.40" y1="253.50" x2="279.40" y2="252.60" stroke="#666" stroke-width="0.5"/>
<line x1="285.30" y1="253.50" x2="285.30" y2="252.60" stroke="#666" stroke-width="0.5"/>
<line x1="291.20" y1="253.50" x2="291.20" y2="252.60" stroke="#666" stroke-width="0.5"/>
<line x1="297.10" y1="253.50" x2="297.10" y2="252.60" stroke="#666" stroke-width="0.5"/>
<line x1="303.00" y1="253.50" x2="303.00" y2="252.60" stroke="#666" stroke-width="0.5"/>
<line x1="308.90" y1="253.50" x2="308.90" y2="252.60" stroke="#666" stroke-width="0.5"/>
<line x1="314.80" y1="253.50" x2="314.80" y2="252.60" stroke="#666" stroke-width="0.5"/>
<line x1="320.70" y1="253.50" x2="320.70" y2="252.60" stroke="#666" stroke-width="0.5"/>
<line x1="326.60" y1="253.50" x2="326.60" y2="252.60" stroke="#666" stroke-width="0.5"/>
<line x1="332.50" y1="253.50" x2="332.50" y2="252.60" stroke="#666" stroke-width="0.5"/>
<ellipse cx="126.5" cy="221.5" rx="9.0" ry="4.0" fill="#8a9ad6" fill-opacity="0.3" filter="url(#bl)"/>
<ellipse cx="142.8" cy="236.0" rx="5.0" ry="8.5" fill="#7c94d0" fill-opacity="0.3" filter="url(#bl)"/>
<ellipse cx="125.0" cy="237.0" rx="10.0" ry="9.0" fill="#b0b8e8" fill-opacity="0.25" filter="url(#bl)"/>
<path d="M137.3 221.9h.9v.9h-.9zM135.1 225.0h.9v.9h-.9zM124.6 227.9h.9v.9h-.9zM135.9 221.4h.9v.9h-.9zM123.9 215.7h.9v.9h-.9zM119.3 227.4h.9v.9h-.9zM128.7 231.7h.9v.9h-.9zM119.3 215.1h.9v.9h-.9zM134.0 213.4h.9v.9h-.9zM137.8 224.0h.9v.9h-.9zM121.2 215.6h.9v.9h-.9zM121.3 215.4h.9v.9h-.9zM123.9 227.7h.9v.9h-.9zM134.1 217.4h.9v.9h-.9zM126.1 228.3h.9v.9h-.9zM124.5 227.7h.9v.9h-.9zM137.4 223.1h.9v.9h-.9zM115.0 225.2h.9v.9h-.9zM138.5 220.6h.9v.9h-.9zM135.8 224.1h.9v.9h-.9zM111.0 220.1h.9v.9h-.9zM138.9 221.0h.9v.9h-.9zM133.8 225.3h.9v.9h-.9zM124.7 229.5h.9v.9h-.9zM134.8 218.0h.9v.9h-.9zM124.2 215.4h.9v.9h-.9zM114.6 213.7h.9v.9h-.9zM124.2 214.4h.9v.9h-.9zM134.3 224.7h.9v.9h-.9zM136.5 217.7h.9v.9h-.9zM135.8 218.6h.9v.9h-.9zM123.5 214.7h.9v.9h-.9zM130.7 215.7h.9v.9h-.9zM123.6 212.0h.9v.9h-.9zM120.5 228.8h.9v.9h-.9zM113.6 217.8h.9v.9h-.9zM123.8 227.4h.9v.9h-.9zM110.6 218.9h.9v.9h-.9zM138.0 223.4h.9v.9h-.9zM121.8 230.2h.9v.9h-.9zM112.6 214.0h.9v.9h-.9zM130.7 216.6h.9v.9h-.9zM109.8 223.0h.9v.9h-.9zM142.4 221.8h.9v.9h-.9zM125.7 215.6h.9v.9h-.9zM122.2 215.6h.9v.9h-.9zM129.1 228.0h.9v.9h-.9zM118.2 227.2h.9v.9h-.9zM135.7 226.8h.9v.9h-.9zM132.8 226.0h.9v.9h-.9zM139.8 216.1h.9v.9h-.9zM121.6 227.4h.9v.9h-.9zM138.2 220.6h.9v.9h-.9zM105.9 222.0h.9v.9h-.9zM130.6 216.1h.9v.9h-.9zM113.0 218.5h.9v.9h-.9zM113.1 223.8h.9v.9h-.9zM122.6 214.8h.9v.9h-.9zM137.4 217.0h.9v.9h-.9zM118.7 216.0h.9v.9h-.9zM115.3 223.7h.9v.9h-.9zM113.1 218.5h.9v.9h-.9zM136.7 222.4h.9v.9h-.9zM139.2 217.8h.9v.9h-.9zM120.9 227.7h.9v.9h-.9zM138.4 214.4h.9v.9h-.9zM128.8 226.9h.9v.9h-.9zM134.0 217.6h.9v.9h-.9zM120.0 214.5h.9v.9h-.9zM138.5 225.7h.9v.9h-.9zM129.4 227.0h.9v.9h-.9zM114.6 225.7h.9v.9h-.9zM113.3 220.9h.9v.9h-.9zM117.7 233.9h.9v.9h-.9zM117.3 236.2h.9v.9h-.9zM124.5 226.7h.9v.9h-.9zM127.1 240.0h.9v.9h-.9zM126.4 245.1h.9v.9h-.9zM116.2 227.7h.9v.9h-.9zM112.0 234.0h.9v.9h-.9zM122.9 232.8h.9v.9h-.9zM118.4 242.6h.9v.9h-.9zM113.4 246.2h.9v.9h-.9zM126.3 235.2h.9v.9h-.9zM132.1 228.9h.9v.9h-.9zM115.4 230.1h.9v.9h-.9zM112.7 230.2h.9v.9h-.9zM127.7 234.8h.9v.9h-.9zM118.4 236.4h.9v.9h-.9zM113.9 243.3h.9v.9h-.9zM116.0 229.1h.9v.9h-.9zM115.7 239.3h.9v.9h-.9zM133.2 242.2h.9v.9h-.9zM113.1 232.1h.9v.9h-.9zM121.0 228.5h.9v.9h-.9zM136.8 226.7h.9v.9h-.9zM124.3 241.4h.9v.9h-.9zM137.2 227.6h.9v.9h-.9zM123.4 240.9h.9v.9h-.9zM112.6 228.9h.9v.9h-.9zM134.7 227.6h.9v.9h-.9zM121.8 229.9h.9v.9h-.9zM122.6 226.9h.9v.9h-.9zM112.4 249.4h.9v.9h-.9zM131.4 240.6h.9v.9h-.9zM117.5 229.1h.9v.9h-.9zM125.9 228.9h.9v.9h-.9zM123.6 247.1h.9v.9h-.9zM121.0 230.6h.9v.9h-.9zM137.1 237.0h.9v.9h-.9zM112.6 231.9h.9v.9h-.9zM128.4 226.8h.9v.9h-.9zM120.5 239.4h.9v.9h-.9zM134.0 236.5h.9v.9h-.9zM134.6 233.2h.9v.9h-.9zM121.8 244.1h.9v.9h-.9zM121.5 242.0h.9v.9h-.9zM117.2 230.8h.9v.9h-.9zM116.3 235.4h.9v.9h-.9zM115.8 228.4h.9v.9h-.9zM117.1 233.4h.9v.9h-.9zM119.6 232.9h.9v.9h-.9zM137.4 238.9h.9v.9h-.9zM134.0 228.4h.9v.9h-.9zM121.5 226.9h.9v.9h-.9zM129.5 231.1h.9v.9h-.9zM118.7 226.6h.9v.9h-.9zM116.3 229.3h.9v.9h-.9zM121.8 246.8h.9v.9h-.9zM130.1 229.4h.9v.9h-.9zM120.9 227.7h.9v.9h-.9zM135.9 231.0h.9v.9h-.9zM131.5 240.3h.9v.9h-.9zM135.1 226.6h.9v.9h-.9zM119.9 231.5h.9v.9h-.9zM113.7 245.4h.9v.9h-.9zM120.0 241.7h.9v.9h-.9zM125.1 226.8h.9v.9h-.9zM121.8 228.9h.9v.9h-.9zM112.6 227.7h.9v.9h-.9zM127.0 226.6h.9v.9h-.9zM119.7 232.4h.9v.9h-.9zM125.7 227.5h.9v.9h-.9zM129.9 229.2h.9v.9h-.9zM130.4 238.6h.9v.9h-.9zM115.4 228.4h.9v.9h-.9zM118.8 239.9h.9v.9h-.9zM122.1 231.6h.9v.9h-.9zM134.1 228.7h.9v.9h-.9zM119.1 230.7h.9v.9h-.9zM117.2 226.7h.9v.9h-.9zM112.2 237.5h.9v.9h-.9zM126.3 242.9h.9v.9h-.9zM136.9 229.9h.9v.9h-.9zM129.0 246.6h.9v.9h-.9zM117.2 239.2h.9v.9h-.9zM128.9 247.9h.9v.9h-.9zM134.1 228.8h.9v.9h-.9zM128.0 227.0h.9v.9h-.9zM122.7 231.7h.9v.9h-.9zM113.1 231.5h.9v.9h-.9zM120.1 234.1h.9v.9h-.9zM118.8 227.8h.9v.9h-.9zM122.0 233.5h.9v.9h-.9zM115.9 238.5h.9v.9h-.9zM117.8 227.1h.9v.9h-.9zM120.4 232.3h.9v.9h-.9zM115.5 236.2h.9v.9h-.9zM129.8 235.5h.9v.9h-.9zM129.8 226.6h.9v.9h-.9zM121.7 231.1h.9v.9h-.9zM113.2 232.0h.9v.9h-.9zM113.0 234.0h.9v.9h-.9zM126.8 233.4h.9v.9h-.9zM120.0 229.1h.9v.9h-.9zM112.2 230.8h.9v.9h-.9zM134.7 235.8h.9v.9h-.9zM118.4 238.6h.9v.9h-.9zM116.4 233.4h.9v.9h-.9zM127.5 247.9h.9v.9h-.9zM121.0 236.1h.9v.9h-.9zM136.1 241.7h.9v.9h-.9zM127.9 237.3h.9v.9h-.9zM122.2 232.2h.9v.9h-.9zM118.7 243.6h.9v.9h-.9zM134.4 231.5h.9v.9h-.9zM135.2 226.7h.9v.9h-.9zM115.1 234.3h.9v.9h-.9zM119.6 231.0h.9v.9h-.9zM137.0 227.7h.9v.9h-.9zM116.6 228.7h.9v.9h-.9zM129.2 228.8h.9v.9h-.9zM111.6 235.2h.9v.9h-.9zM121.8 228.9h.9v.9h-.9zM124.4 238.1h.9v.9h-.9zM125.8 237.4h.9v.9h-.9zM126.1 243.7h.9v.9h-.9zM136.7 230.5h.9v.9h-.9zM120.6 245.5h.9v.9h-.9zM119.7 240.0h.9v.9h-.9zM129.6 239.2h.9v.9h-.9zM136.6 243.4h.9v.9h-.9zM115.7 237.3h.9v.9h-.9zM124.3 235.7h.9v.9h-.9zM121.2 229.6h.9v.9h-.9zM131.0 235.0h.9v.9h-.9zM117.7 229.0h.9v.9h-.9zM120.0 228.0h.9v.9h-.9zM124.9 227.4h.9v.9h-.9zM113.2 226.9h.9v.9h-.9zM114.2 239.7h.9v.9h-.9zM114.5 233.0h.9v.9h-.9zM131.6 233.7h.9v.9h-.9zM115.8 244.8h.9v.9h-.9zM134.2 226.8h.9v.9h-.9zM118.2 234.3h.9v.9h-.9zM132.3 231.7h.9v.9h-.9zM130.2 229.1h.9v.9h-.9zM130.2 230.4h.9v.9h-.9zM120.2 241.4h.9v.9h-.9zM133.5 243.6h.9v.9h-.9zM126.3 232.3h.9v.9h-.9zM129.9 237.3h.9v.9h-.9zM133.2 242.7h.9v.9h-.9zM114.8 231.4h.9v.9h-.9zM129.0 228.8h.9v.9h-.9zM116.4 226.6h.9v.9h-.9zM126.8 247.4h.9v.9h-.9zM136.8 227.5h.9v.9h-.9zM129.4 232.3h.9v.9h-.9zM128.0 231.8h.9v.9h-.9zM135.8 249.1h.9v.9h-.9zM112.8 239.9h.9v.9h-.9zM114.6 226.7h.9v.9h-.9zM119.0 240.5h.9v.9h-.9zM137.4 227.3h.9v.9h-.9zM120.1 226.6h.9v.9h-.9zM125.7 233.7h.9v.9h-.9zM121.3 230.1h.9v.9h-.9zM132.4 243.9h.9v.9h-.9zM118.9 231.7h.9v.9h-.9zM127.6 241.5h.9v.9h-.9zM137.1 231.6h.9v.9h-.9zM117.9 217.3h.9v.9h-.9zM119.2 214.0h.9v.9h-.9zM111.7 213.8h.9v.9h-.9zM120.8 214.6h.9v.9h-.9zM115.4 213.9h.9v.9h-.9zM113.4 213.6h.9v.9h-.9zM116.3 214.0h.9v.9h-.9zM117.1 214.8h.9v.9h-.9zM112.3 216.7h.9v.9h-.9zM113.9 214.7h.9v.9h-.9zM110.2 213.7h.9v.9h-.9zM120.3 215.1h.9v.9h-.9zM110.5 214.2h.9v.9h-.9zM115.4 223.5h.9v.9h-.9zM112.0 221.5h.9v.9h-.9zM115.4 216.0h.9v.9h-.9zM119.2 215.8h.9v.9h-.9zM110.2 217.4h.9v.9h-.9zM117.4 218.2h.9v.9h-.9zM112.9 222.6h.9v.9h-.9zM119.9 223.5h.9v.9h-.9zM114.9 221.0h.9v.9h-.9zM118.2 214.2h.9v.9h-.9zM109.9 214.1h.9v.9h-.9zM111.0 213.7h.9v.9h-.9zM113.9 219.9h.9v.9h-.9zM113.3 217.0h.9v.9h-.9zM109.7 214.4h.9v.9h-.9zM121.1 213.6h.9v.9h-.9zM115.9 220.7h.9v.9h-.9z" fill="#7d86d2" fill-opacity="0.6"/>
<path d="M135.4 221.5h.9v.9h-.9zM130.8 225.9h.9v.9h-.9zM135.2 223.0h.9v.9h-.9zM134.4 222.4h.9v.9h-.9zM134.1 221.8h.9v.9h-.9zM130.7 218.4h.9v.9h-.9zM131.1 217.9h.9v.9h-.9zM130.0 225.5h.9v.9h-.9zM126.3 225.3h.9v.9h-.9zM131.9 218.9h.9v.9h-.9zM134.4 220.9h.9v.9h-.9zM120.0 218.3h.9v.9h-.9zM129.3 217.8h.9v.9h-.9zM125.2 226.0h.9v.9h-.9zM117.3 223.8h.9v.9h-.9zM114.8 221.0h.9v.9h-.9zM115.7 221.1h.9v.9h-.9zM117.9 220.0h.9v.9h-.9zM115.0 222.4h.9v.9h-.9zM121.5 224.1h.9v.9h-.9zM132.7 217.8h.9v.9h-.9zM119.0 219.1h.9v.9h-.9zM135.0 220.6h.9v.9h-.9zM124.2 215.9h.9v.9h-.9zM121.2 216.3h.9v.9h-.9zM121.0 224.0h.9v.9h-.9zM119.3 217.9h.9v.9h-.9zM120.5 217.9h.9v.9h-.9zM121.6 216.3h.9v.9h-.9zM117.4 217.9h.9v.9h-.9zM118.0 220.0h.9v.9h-.9zM116.5 218.2h.9v.9h-.9zM116.8 220.5h.9v.9h-.9zM120.4 218.0h.9v.9h-.9zM122.6 225.8h.9v.9h-.9zM129.9 225.3h.9v.9h-.9zM118.6 222.6h.9v.9h-.9zM123.4 217.8h.9v.9h-.9zM135.1 220.4h.9v.9h-.9zM120.0 218.8h.9v.9h-.9zM116.5 222.7h.9v.9h-.9zM125.8 217.5h.9v.9h-.9zM126.3 217.0h.9v.9h-.9zM121.6 217.6h.9v.9h-.9zM117.7 218.8h.9v.9h-.9zM116.8 219.8h.9v.9h-.9zM119.9 223.6h.9v.9h-.9zM127.5 217.2h.9v.9h-.9zM121.2 224.5h.9v.9h-.9zM118.4 219.8h.9v.9h-.9zM126.5 225.5h.9v.9h-.9zM123.2 216.6h.9v.9h-.9zM118.7 224.9h.9v.9h-.9zM122.6 217.4h.9v.9h-.9zM126.7 217.6h.9v.9h-.9zM128.4 217.8h.9v.9h-.9zM128.9 225.7h.9v.9h-.9zM117.3 220.1h.9v.9h-.9zM114.8 219.6h.9v.9h-.9zM126.4 226.2h.9v.9h-.9zM114.8 220.5h.9v.9h-.9zM117.4 221.3h.9v.9h-.9zM122.9 216.5h.9v.9h-.9zM128.5 217.2h.9v.9h-.9zM130.9 216.8h.9v.9h-.9zM115.5 220.4h.9v.9h-.9zM125.4 225.9h.9v.9h-.9zM129.1 225.6h.9v.9h-.9zM121.8 224.7h.9v.9h-.9zM117.7 220.5h.9v.9h-.9zM117.4 225.0h.9v.9h-.9zM122.7 217.2h.9v.9h-.9zM123.8 224.8h.9v.9h-.9zM130.4 225.3h.9v.9h-.9zM135.3 221.2h.9v.9h-.9zM118.1 221.6h.9v.9h-.9zM117.7 220.2h.9v.9h-.9zM130.6 225.9h.9v.9h-.9zM115.6 222.1h.9v.9h-.9zM118.9 224.7h.9v.9h-.9zM128.6 217.3h.9v.9h-.9zM118.6 219.8h.9v.9h-.9zM119.4 223.8h.9v.9h-.9zM117.9 223.9h.9v.9h-.9zM120.6 216.9h.9v.9h-.9zM128.6 217.7h.9v.9h-.9zM116.2 220.8h.9v.9h-.9zM117.2 223.9h.9v.9h-.9zM134.7 220.6h.9v.9h-.9zM120.3 217.7h.9v.9h-.9zM119.9 224.8h.9v.9h-.9zM114.3 220.8h.9v.9h-.9zM128.2 217.5h.9v.9h-.9zM129.9 225.4h.9v.9h-.9zM120.4 224.0h.9v.9h-.9zM116.6 219.0h.9v.9h-.9zM120.4 223.7h.9v.9h-.9zM117.4 220.1h.9v.9h-.9zM127.8 217.4h.9v.9h-.9zM132.3 225.0h.9v.9h-.9zM125.0 225.1h.9v.9h-.9zM120.0 216.8h.9v.9h-.9zM118.8 223.9h.9v.9h-.9zM118.2 217.9h.9v.9h-.9zM125.0 216.1h.9v.9h-.9zM117.6 220.6h.9v.9h-.9zM123.7 217.1h.9v.9h-.9zM126.2 226.0h.9v.9h-.9zM132.9 224.2h.9v.9h-.9zM133.0 217.8h.9v.9h-.9zM122.1 224.4h.9v.9h-.9zM119.3 216.6h.9v.9h-.9zM118.6 224.3h.9v.9h-.9zM132.3 219.2h.9v.9h-.9zM123.2 225.4h.9v.9h-.9zM117.9 222.5h.9v.9h-.9zM124.5 226.6h.9v.9h-.9zM123.2 224.9h.9v.9h-.9zM115.2 222.3h.9v.9h-.9zM116.7 219.7h.9v.9h-.9zM119.1 224.5h.9v.9h-.9zM126.0 217.6h.9v.9h-.9zM121.7 217.8h.9v.9h-.9zM115.3 223.0h.9v.9h-.9zM126.9 216.0h.9v.9h-.9z" fill="#5a7fc8" fill-opacity="0.7"/>
<path d="M132.7 223.6h.9v.9h-.9zM133.6 221.1h.9v.9h-.9zM133.0 221.3h.9v.9h-.9zM130.3 224.5h.9v.9h-.9zM133.4 221.4h.9v.9h-.9zM126.9 225.3h.9v.9h-.9zM132.8 220.2h.9v.9h-.9zM128.3 217.9h.9v.9h-.9zM129.0 224.6h.9v.9h-.9zM128.5 225.1h.9v.9h-.9zM130.6 224.4h.9v.9h-.9zM125.2 224.7h.9v.9h-.9zM126.7 217.8h.9v.9h-.9zM128.3 218.3h.9v.9h-.9zM130.3 218.3h.9v.9h-.9zM133.0 219.9h.9v.9h-.9zM132.5 223.4h.9v.9h-.9zM124.3 219.4h.9v.9h-.9zM123.6 223.2h.9v.9h-.9zM131.4 219.1h.9v.9h-.9zM127.2 217.9h.9v.9h-.9zM126.8 224.9h.9v.9h-.9zM127.1 224.8h.9v.9h-.9zM132.5 220.8h.9v.9h-.9zM124.7 219.3h.9v.9h-.9zM132.1 219.9h.9v.9h-.9zM127.9 218.9h.9v.9h-.9zM126.4 224.5h.9v.9h-.9zM127.7 224.6h.9v.9h-.9zM130.1 225.2h.9v.9h-.9zM131.0 218.6h.9v.9h-.9zM132.1 223.6h.9v.9h-.9zM127.5 218.4h.9v.9h-.9zM121.6 220.4h.9v.9h-.9zM118.4 220.8h.9v.9h-.9zM124.2 218.1h.9v.9h-.9zM120.5 218.9h.9v.9h-.9zM126.9 218.3h.9v.9h-.9zM125.1 218.1h.9v.9h-.9zM121.9 218.8h.9v.9h-.9zM118.9 220.5h.9v.9h-.9zM132.9 221.1h.9v.9h-.9zM124.3 224.2h.9v.9h-.9zM122.7 222.1h.9v.9h-.9zM132.8 221.0h.9v.9h-.9zM123.0 220.5h.9v.9h-.9zM121.4 223.0h.9v.9h-.9zM122.3 220.3h.9v.9h-.9zM121.6 220.9h.9v.9h-.9zM120.2 221.8h.9v.9h-.9zM119.3 219.6h.9v.9h-.9zM124.1 218.9h.9v.9h-.9zM121.6 223.0h.9v.9h-.9zM124.6 219.2h.9v.9h-.9zM123.7 224.3h.9v.9h-.9zM122.6 220.2h.9v.9h-.9zM122.4 220.8h.9v.9h-.9zM132.0 223.5h.9v.9h-.9zM125.0 219.1h.9v.9h-.9zM120.6 222.2h.9v.9h-.9zM126.6 218.5h.9v.9h-.9zM119.5 222.4h.9v.9h-.9zM122.6 218.8h.9v.9h-.9zM122.6 222.3h.9v.9h-.9zM126.2 218.7h.9v.9h-.9zM122.1 223.9h.9v.9h-.9zM124.6 224.0h.9v.9h-.9zM120.9 223.3h.9v.9h-.9zM120.0 223.0h.9v.9h-.9zM127.1 224.8h.9v.9h-.9zM132.8 220.2h.9v.9h-.9zM130.5 225.1h.9v.9h-.9zM122.0 219.3h.9v.9h-.9zM120.4 222.8h.9v.9h-.9zM133.0 220.3h.9v.9h-.9zM132.6 220.0h.9v.9h-.9zM126.5 218.2h.9v.9h-.9zM121.7 222.0h.9v.9h-.9zM122.1 222.4h.9v.9h-.9zM125.1 219.3h.9v.9h-.9zM121.1 220.0h.9v.9h-.9zM127.3 218.0h.9v.9h-.9zM120.5 221.4h.9v.9h-.9zM126.4 218.3h.9v.9h-.9zM122.2 219.3h.9v.9h-.9zM122.6 223.2h.9v.9h-.9zM129.3 218.5h.9v.9h-.9zM132.0 220.0h.9v.9h-.9zM126.0 218.1h.9v.9h-.9zM122.7 223.5h.9v.9h-.9zM123.5 219.0h.9v.9h-.9zM121.0 219.5h.9v.9h-.9zM123.0 223.7h.9v.9h-.9zM123.9 218.5h.9v.9h-.9zM131.6 219.8h.9v.9h-.9zM123.7 218.5h.9v.9h-.9zM122.7 221.8h.9v.9h-.9zM120.6 222.9h.9v.9h-.9zM130.5 219.0h.9v.9h-.9zM130.3 224.8h.9v.9h-.9zM121.9 219.7h.9v.9h-.9zM120.3 220.3h.9v.9h-.9zM122.3 220.8h.9v.9h-.9zM121.8 219.0h.9v.9h-.9zM121.3 220.4h.9v.9h-.9zM120.0 220.9h.9v.9h-.9zM119.8 220.0h.9v.9h-.9zM123.0 219.7h.9v.9h-.9zM132.1 220.1h.9v.9h-.9zM118.7 221.7h.9v.9h-.9zM119.3 222.9h.9v.9h-.9zM124.6 218.6h.9v.9h-.9zM122.7 220.5h.9v.9h-.9zM118.7 221.1h.9v.9h-.9zM133.0 222.6h.9v.9h-.9zM120.3 220.8h.9v.9h-.9zM122.5 224.0h.9v.9h-.9zM120.2 222.8h.9v.9h-.9zM120.7 221.5h.9v.9h-.9zM127.4 218.8h.9v.9h-.9zM121.0 221.5h.9v.9h-.9zM127.0 225.2h.9v.9h-.9zM123.8 218.6h.9v.9h-.9zM123.8 219.6h.9v.9h-.9zM122.3 221.6h.9v.9h-.9zM123.6 219.2h.9v.9h-.9zM130.3 218.5h.9v.9h-.9zM120.7 219.7h.9v.9h-.9zM124.7 218.9h.9v.9h-.9zM120.9 221.2h.9v.9h-.9zM121.2 219.8h.9v.9h-.9z" fill="#3f93b0" fill-opacity="0.8"/>
<path d="M131.3 221.1h.9v.9h-.9zM130.0 223.8h.9v.9h-.9zM125.6 219.8h.9v.9h-.9zM126.7 220.0h.9v.9h-.9zM131.6 222.3h.9v.9h-.9zM124.1 223.1h.9v.9h-.9zM124.9 222.0h.9v.9h-.9zM130.9 219.7h.9v.9h-.9zM131.2 220.9h.9v.9h-.9zM132.0 223.0h.9v.9h-.9zM131.3 223.7h.9v.9h-.9zM130.8 223.1h.9v.9h-.9zM131.0 220.0h.9v.9h-.9zM131.7 223.2h.9v.9h-.9zM128.9 224.3h.9v.9h-.9zM131.6 221.5h.9v.9h-.9zM124.1 220.4h.9v.9h-.9zM131.4 220.4h.9v.9h-.9zM124.0 220.7h.9v.9h-.9zM132.5 221.6h.9v.9h-.9zM127.5 219.8h.9v.9h-.9zM132.4 222.3h.9v.9h-.9zM124.6 222.3h.9v.9h-.9zM131.7 222.9h.9v.9h-.9zM128.4 219.3h.9v.9h-.9zM126.4 224.0h.9v.9h-.9zM124.8 223.4h.9v.9h-.9zM131.0 220.3h.9v.9h-.9zM132.0 223.1h.9v.9h-.9zM128.4 219.7h.9v.9h-.9zM124.1 223.1h.9v.9h-.9zM132.2 222.4h.9v.9h-.9zM127.5 224.4h.9v.9h-.9zM131.9 220.6h.9v.9h-.9zM127.0 224.2h.9v.9h-.9zM129.6 223.7h.9v.9h-.9zM130.7 223.5h.9v.9h-.9zM131.6 221.7h.9v.9h-.9zM127.9 219.8h.9v.9h-.9zM126.2 220.1h.9v.9h-.9zM131.7 222.1h.9v.9h-.9zM125.5 220.1h.9v.9h-.9zM125.1 223.8h.9v.9h-.9zM130.7 223.3h.9v.9h-.9zM126.3 223.5h.9v.9h-.9zM131.5 221.3h.9v.9h-.9zM126.1 219.8h.9v.9h-.9zM124.3 221.3h.9v.9h-.9zM131.2 222.9h.9v.9h-.9zM124.5 221.0h.9v.9h-.9zM124.6 221.7h.9v.9h-.9zM130.9 219.8h.9v.9h-.9zM131.6 221.3h.9v.9h-.9zM129.3 224.0h.9v.9h-.9zM130.6 220.1h.9v.9h-.9zM131.9 221.5h.9v.9h-.9zM131.8 221.6h.9v.9h-.9zM125.0 223.7h.9v.9h-.9zM128.4 223.9h.9v.9h-.9zM130.7 223.2h.9v.9h-.9zM130.0 224.2h.9v.9h-.9zM126.5 223.8h.9v.9h-.9zM131.0 223.4h.9v.9h-.9zM129.8 224.3h.9v.9h-.9zM127.2 219.4h.9v.9h-.9zM128.7 219.6h.9v.9h-.9zM124.4 222.5h.9v.9h-.9zM125.3 219.6h.9v.9h-.9zM123.8 220.9h.9v.9h-.9zM127.2 224.1h.9v.9h-.9zM123.5 221.1h.9v.9h-.9zM124.2 220.0h.9v.9h-.9zM131.9 220.4h.9v.9h-.9zM125.4 220.0h.9v.9h-.9zM128.1 224.0h.9v.9h-.9zM127.9 224.2h.9v.9h-.9zM130.3 220.1h.9v.9h-.9zM124.3 221.6h.9v.9h-.9zM124.6 222.0h.9v.9h-.9zM124.5 220.2h.9v.9h-.9zM125.9 223.8h.9v.9h-.9zM124.9 220.0h.9v.9h-.9zM123.9 222.8h.9v.9h-.9zM129.9 219.5h.9v.9h-.9zM128.0 219.5h.9v.9h-.9zM131.5 221.7h.9v.9h-.9zM125.3 220.1h.9v.9h-.9zM131.6 223.3h.9v.9h-.9zM129.7 219.6h.9v.9h-.9zM126.3 224.2h.9v.9h-.9zM130.8 224.0h.9v.9h-.9zM129.1 219.7h.9v.9h-.9zM124.0 219.8h.9v.9h-.9zM127.6 219.2h.9v.9h-.9zM126.4 219.3h.9v.9h-.9zM125.8 219.2h.9v.9h-.9zM124.4 223.2h.9v.9h-.9zM125.7 220.0h.9v.9h-.9zM127.1 223.9h.9v.9h-.9zM129.9 219.6h.9v.9h-.9zM123.7 221.4h.9v.9h-.9zM131.5 220.9h.9v.9h-.9zM126.4 219.5h.9v.9h-.9zM124.9 220.6h.9v.9h-.9zM126.6 224.4h.9v.9h-.9zM123.5 220.5h.9v.9h-.9zM123.7 222.1h.9v.9h-.9zM124.7 222.3h.9v.9h-.9zM129.7 223.8h.9v.9h-.9zM124.7 221.1h.9v.9h-.9zM124.7 223.7h.9v.9h-.9zM123.6 222.1h.9v.9h-.9zM123.0 220.7h.9v.9h-.9zM125.4 223.7h.9v.9h-.9zM125.2 223.7h.9v.9h-.9zM122.8 221.0h.9v.9h-.9zM125.2 219.4h.9v.9h-.9z" fill="#45a86e" fill-opacity="0.85"/>
<path d="M125.6 222.6h.9v.9h-.9zM125.3 221.8h.9v.9h-.9zM130.6 222.8h.9v.9h-.9zM129.5 223.1h.9v.9h-.9zM125.1 221.7h.9v.9h-.9zM126.7 222.3h.9v.9h-.9zM128.0 223.1h.9v.9h-.9zM129.0 220.2h.9v.9h-.9zM130.2 220.6h.9v.9h-.9zM130.5 222.0h.9v.9h-.9zM131.3 221.7h.9v.9h-.9zM129.1 220.6h.9v.9h-.9zM130.7 222.7h.9v.9h-.9zM130.2 222.8h.9v.9h-.9zM126.1 221.3h.9v.9h-.9zM129.2 223.3h.9v.9h-.9zM129.4 223.6h.9v.9h-.9zM129.2 223.2h.9v.9h-.9zM129.1 220.4h.9v.9h-.9zM126.8 223.3h.9v.9h-.9zM129.4 222.8h.9v.9h-.9zM128.8 223.1h.9v.9h-.9zM127.0 221.1h.9v.9h-.9zM130.5 222.5h.9v.9h-.9zM130.3 221.4h.9v.9h-.9zM130.8 222.1h.9v.9h-.9zM129.9 223.4h.9v.9h-.9zM126.9 220.8h.9v.9h-.9zM125.7 220.8h.9v.9h-.9zM128.4 220.3h.9v.9h-.9zM127.8 220.1h.9v.9h-.9zM129.2 222.9h.9v.9h-.9zM130.6 220.8h.9v.9h-.9zM126.8 221.2h.9v.9h-.9zM128.5 223.0h.9v.9h-.9zM126.8 222.4h.9v.9h-.9zM129.4 223.7h.9v.9h-.9zM126.6 220.5h.9v.9h-.9zM130.1 222.1h.9v.9h-.9zM129.7 220.9h.9v.9h-.9zM126.8 220.6h.9v.9h-.9zM128.4 223.5h.9v.9h-.9zM127.7 220.0h.9v.9h-.9zM130.2 220.7h.9v.9h-.9zM129.7 222.7h.9v.9h-.9zM126.7 220.4h.9v.9h-.9zM127.8 223.5h.9v.9h-.9zM125.8 221.5h.9v.9h-.9zM126.0 221.2h.9v.9h-.9zM126.1 221.5h.9v.9h-.9zM126.5 222.2h.9v.9h-.9zM129.4 223.1h.9v.9h-.9zM127.9 220.6h.9v.9h-.9zM128.7 223.1h.9v.9h-.9zM126.0 221.6h.9v.9h-.9zM126.8 223.2h.9v.9h-.9zM126.9 220.1h.9v.9h-.9zM127.4 220.9h.9v.9h-.9zM125.4 222.2h.9v.9h-.9zM125.8 221.7h.9v.9h-.9zM126.1 223.0h.9v.9h-.9zM126.9 220.6h.9v.9h-.9zM125.7 222.8h.9v.9h-.9zM130.0 221.3h.9v.9h-.9zM125.8 221.1h.9v.9h-.9zM128.8 220.8h.9v.9h-.9zM125.1 222.1h.9v.9h-.9zM126.5 221.4h.9v.9h-.9zM126.6 221.8h.9v.9h-.9zM130.5 222.4h.9v.9h-.9zM126.2 223.1h.9v.9h-.9zM126.4 223.4h.9v.9h-.9zM131.1 221.4h.9v.9h-.9zM126.4 222.6h.9v.9h-.9zM126.7 220.5h.9v.9h-.9zM129.1 223.0h.9v.9h-.9zM130.2 221.4h.9v.9h-.9zM126.2 222.2h.9v.9h-.9zM126.2 222.4h.9v.9h-.9zM129.0 223.0h.9v.9h-.9zM128.1 223.5h.9v.9h-.9zM129.0 223.5h.9v.9h-.9zM127.6 220.0h.9v.9h-.9zM126.3 223.1h.9v.9h-.9zM126.1 221.1h.9v.9h-.9zM128.0 220.6h.9v.9h-.9z" fill="#8cc63c" fill-opacity="0.9"/>
<path d="M128.5 221.5h.9v.9h-.9zM129.0 222.2h.9v.9h-.9zM127.9 221.8h.9v.9h-.9zM128.5 222.6h.9v.9h-.9zM129.5 222.3h.9v.9h-.9zM129.2 220.9h.9v.9h-.9zM128.5 222.6h.9v.9h-.9zM127.7 222.3h.9v.9h-.9zM127.2 221.0h.9v.9h-.9zM127.9 222.2h.9v.9h-.9zM127.5 221.6h.9v.9h-.9zM129.2 222.3h.9v.9h-.9zM126.9 222.1h.9v.9h-.9zM128.7 222.2h.9v.9h-.9zM129.3 222.1h.9v.9h-.9zM129.3 221.6h.9v.9h-.9zM128.2 222.1h.9v.9h-.9zM129.3 222.4h.9v.9h-.9zM128.1 220.9h.9v.9h-.9zM127.1 222.1h.9v.9h-.9zM128.4 220.9h.9v.9h-.9zM129.7 221.5h.9v.9h-.9zM127.7 221.0h.9v.9h-.9zM128.1 222.0h.9v.9h-.9zM129.1 221.4h.9v.9h-.9zM129.2 221.0h.9v.9h-.9zM129.8 221.7h.9v.9h-.9zM127.2 221.4h.9v.9h-.9zM128.3 221.7h.9v.9h-.9zM128.4 221.4h.9v.9h-.9zM130.0 221.5h.9v.9h-.9zM128.9 221.6h.9v.9h-.9zM127.2 221.8h.9v.9h-.9zM128.4 221.4h.9v.9h-.9zM128.2 221.8h.9v.9h-.9zM127.2 221.8h.9v.9h-.9zM126.7 221.7h.9v.9h-.9zM128.8 222.4h.9v.9h-.9zM129.2 222.1h.9v.9h-.9zM127.3 221.5h.9v.9h-.9zM128.5 222.3h.9v.9h-.9zM128.9 222.3h.9v.9h-.9zM128.1 222.3h.9v.9h-.9zM129.7 221.5h.9v.9h-.9zM128.3 222.3h.9v.9h-.9zM128.1 221.5h.9v.9h-.9zM127.2 221.6h.9v.9h-.9zM128.6 222.4h.9v.9h-.9z" fill="#c8e03a" fill-opacity="1.0"/>
<path d="M140.7 221.8h.9v.9h-.9zM147.6 226.6h.9v.9h-.9zM148.4 226.0h.9v.9h-.9zM141.7 223.2h.9v.9h-.9zM137.8 225.4h.9v.9h-.9zM145.4 224.2h.9v.9h-.9zM135.1 233.8h.9v.9h-.9zM149.8 231.5h.9v.9h-.9zM131.9 226.9h.9v.9h-.9zM147.4 245.2h.9v.9h-.9zM139.2 248.6h.9v.9h-.9zM137.6 245.1h.9v.9h-.9zM145.3 248.8h.9v.9h-.9zM139.0 247.7h.9v.9h-.9zM138.4 222.7h.9v.9h-.9zM135.6 247.8h.9v.9h-.9zM136.0 241.5h.9v.9h-.9zM149.8 233.6h.9v.9h-.9zM135.2 225.3h.9v.9h-.9zM134.9 237.7h.9v.9h-.9zM150.1 242.2h.9v.9h-.9zM149.1 242.1h.9v.9h-.9zM137.1 226.4h.9v.9h-.9zM142.0 248.6h.9v.9h-.9zM137.3 220.1h.9v.9h-.9zM138.7 223.0h.9v.9h-.9zM149.7 244.2h.9v.9h-.9zM135.2 245.3h.9v.9h-.9zM142.4 220.2h.9v.9h-.9zM143.8 223.2h.9v.9h-.9zM137.8 248.7h.9v.9h-.9zM134.2 241.6h.9v.9h-.9zM144.6 221.0h.9v.9h-.9zM135.0 237.3h.9v.9h-.9zM150.9 233.5h.9v.9h-.9zM141.1 254.3h.9v.9h-.9zM148.6 247.9h.9v.9h-.9zM137.1 225.3h.9v.9h-.9zM139.9 239.6h.9v.9h-.9zM144.9 246.2h.9v.9h-.9zM139.5 251.0h.9v.9h-.9zM144.8 240.6h.9v.9h-.9zM148.8 249.6h.9v.9h-.9zM140.6 249.9h.9v.9h-.9zM138.2 242.0h.9v.9h-.9zM142.0 251.6h.9v.9h-.9zM140.4 242.4h.9v.9h-.9zM139.2 249.0h.9v.9h-.9zM138.9 249.5h.9v.9h-.9zM141.0 244.5h.9v.9h-.9zM147.9 241.1h.9v.9h-.9zM143.4 245.9h.9v.9h-.9zM144.1 242.6h.9v.9h-.9zM144.9 241.6h.9v.9h-.9zM138.6 239.6h.9v.9h-.9zM144.4 244.9h.9v.9h-.9zM146.9 240.2h.9v.9h-.9zM145.3 243.2h.9v.9h-.9zM143.4 249.2h.9v.9h-.9zM143.3 243.0h.9v.9h-.9zM144.9 240.2h.9v.9h-.9zM147.9 244.1h.9v.9h-.9zM137.1 243.6h.9v.9h-.9zM148.8 252.1h.9v.9h-.9zM142.1 241.1h.9v.9h-.9zM148.7 241.3h.9v.9h-.9zM136.8 240.9h.9v.9h-.9zM142.7 246.5h.9v.9h-.9zM137.4 241.8h.9v.9h-.9zM146.0 241.9h.9v.9h-.9zM138.8 247.1h.9v.9h-.9zM142.2 246.8h.9v.9h-.9zM142.8 248.9h.9v.9h-.9zM143.2 252.0h.9v.9h-.9zM147.1 247.3h.9v.9h-.9zM142.9 245.4h.9v.9h-.9zM141.4 239.8h.9v.9h-.9zM148.1 248.8h.9v.9h-.9zM146.5 249.7h.9v.9h-.9zM143.7 252.4h.9v.9h-.9zM142.7 252.2h.9v.9h-.9zM137.6 242.3h.9v.9h-.9zM144.0 249.0h.9v.9h-.9zM143.3 248.5h.9v.9h-.9zM141.4 246.5h.9v.9h-.9zM146.9 245.3h.9v.9h-.9zM136.8 246.2h.9v.9h-.9zM136.6 241.5h.9v.9h-.9zM138.0 248.0h.9v.9h-.9zM138.7 247.2h.9v.9h-.9zM137.5 240.6h.9v.9h-.9zM145.6 251.0h.9v.9h-.9zM137.5 245.5h.9v.9h-.9zM141.7 245.6h.9v.9h-.9zM137.6 239.6h.9v.9h-.9zM137.6 250.4h.9v.9h-.9zM142.9 245.5h.9v.9h-.9zM138.3 246.7h.9v.9h-.9z" fill="#7d86d2" fill-opacity="0.6"/>
<path d="M147.8 229.8h.9v.9h-.9zM147.2 228.1h.9v.9h-.9zM135.8 236.0h.9v.9h-.9zM144.8 226.5h.9v.9h-.9zM139.8 224.2h.9v.9h-.9zM139.2 226.4h.9v.9h-.9zM136.9 235.3h.9v.9h-.9zM141.1 225.1h.9v.9h-.9zM143.0 225.8h.9v.9h-.9zM145.8 227.7h.9v.9h-.9zM139.8 225.9h.9v.9h-.9zM147.4 235.8h.9v.9h-.9zM137.1 232.9h.9v.9h-.9zM143.6 225.7h.9v.9h-.9zM144.0 225.6h.9v.9h-.9zM147.2 228.2h.9v.9h-.9zM147.2 234.2h.9v.9h-.9zM145.8 246.5h.9v.9h-.9zM144.9 224.3h.9v.9h-.9zM143.6 223.8h.9v.9h-.9zM139.5 243.2h.9v.9h-.9zM146.7 236.5h.9v.9h-.9zM144.2 243.3h.9v.9h-.9zM138.4 240.2h.9v.9h-.9zM147.3 238.0h.9v.9h-.9zM138.0 240.5h.9v.9h-.9zM148.5 239.0h.9v.9h-.9zM137.1 231.0h.9v.9h-.9zM141.7 225.6h.9v.9h-.9zM138.0 244.7h.9v.9h-.9zM138.7 242.0h.9v.9h-.9zM146.5 226.2h.9v.9h-.9zM137.0 236.7h.9v.9h-.9zM143.4 245.5h.9v.9h-.9zM139.8 244.0h.9v.9h-.9zM138.6 239.0h.9v.9h-.9zM138.4 238.5h.9v.9h-.9zM143.3 247.0h.9v.9h-.9zM147.2 237.6h.9v.9h-.9zM145.7 240.2h.9v.9h-.9zM145.4 245.8h.9v.9h-.9zM137.7 228.4h.9v.9h-.9zM137.6 242.2h.9v.9h-.9zM143.9 245.5h.9v.9h-.9zM142.6 244.7h.9v.9h-.9zM136.8 231.4h.9v.9h-.9zM137.4 235.4h.9v.9h-.9zM138.6 244.8h.9v.9h-.9zM148.1 234.3h.9v.9h-.9zM137.7 243.5h.9v.9h-.9zM146.2 242.3h.9v.9h-.9zM137.7 240.7h.9v.9h-.9zM143.6 243.2h.9v.9h-.9zM137.0 230.2h.9v.9h-.9zM141.7 247.2h.9v.9h-.9zM144.1 224.8h.9v.9h-.9zM147.3 229.6h.9v.9h-.9zM147.2 234.9h.9v.9h-.9zM137.8 240.3h.9v.9h-.9zM136.8 239.4h.9v.9h-.9zM147.0 239.1h.9v.9h-.9zM145.5 241.2h.9v.9h-.9zM138.1 242.6h.9v.9h-.9zM140.4 225.7h.9v.9h-.9zM140.4 225.5h.9v.9h-.9zM138.1 228.4h.9v.9h-.9zM141.3 246.9h.9v.9h-.9zM146.2 227.1h.9v.9h-.9zM137.6 243.0h.9v.9h-.9zM137.3 238.8h.9v.9h-.9zM147.8 227.5h.9v.9h-.9zM147.0 241.4h.9v.9h-.9zM144.5 243.1h.9v.9h-.9zM146.8 244.0h.9v.9h-.9zM137.1 240.2h.9v.9h-.9zM139.8 242.5h.9v.9h-.9zM145.5 241.5h.9v.9h-.9zM136.6 238.3h.9v.9h-.9zM136.8 234.4h.9v.9h-.9zM141.9 245.5h.9v.9h-.9zM137.2 234.4h.9v.9h-.9zM148.2 234.6h.9v.9h-.9zM137.8 241.0h.9v.9h-.9zM136.2 230.0h.9v.9h-.9zM139.3 245.8h.9v.9h-.9zM143.2 246.7h.9v.9h-.9zM144.5 243.7h.9v.9h-.9zM144.1 243.9h.9v.9h-.9zM139.6 244.0h.9v.9h-.9zM143.5 243.5h.9v.9h-.9zM138.7 242.5h.9v.9h-.9zM136.6 233.3h.9v.9h-.9zM139.8 242.0h.9v.9h-.9zM138.4 241.8h.9v.9h-.9zM146.9 229.4h.9v.9h-.9zM138.2 241.1h.9v.9h-.9zM148.0 240.1h.9v.9h-.9zM138.5 244.6h.9v.9h-.9zM138.5 225.3h.9v.9h-.9zM142.0 247.0h.9v.9h-.9zM145.1 242.4h.9v.9h-.9zM146.1 240.9h.9v.9h-.9zM137.4 237.8h.9v.9h-.9zM146.5 237.7h.9v.9h-.9zM140.2 245.2h.9v.9h-.9zM140.5 223.8h.9v.9h-.9zM136.4 235.0h.9v.9h-.9zM136.5 238.2h.9v.9h-.9zM142.3 243.5h.9v.9h-.9zM137.9 227.8h.9v.9h-.9zM142.5 245.4h.9v.9h-.9zM137.5 237.8h.9v.9h-.9zM144.5 242.9h.9v.9h-.9z" fill="#5a7fc8" fill-opacity="0.7"/>
<path d="M140.4 228.5h.9v.9h-.9zM143.5 227.7h.9v.9h-.9zM146.6 231.0h.9v.9h-.9zM144.9 228.1h.9v.9h-.9zM145.1 235.6h.9v.9h-.9zM146.6 235.9h.9v.9h-.9zM139.2 232.2h.9v.9h-.9zM142.5 226.0h.9v.9h-.9zM138.7 228.7h.9v.9h-.9zM139.3 231.1h.9v.9h-.9zM138.2 229.5h.9v.9h-.9zM138.9 229.6h.9v.9h-.9zM138.9 236.6h.9v.9h-.9zM146.7 233.3h.9v.9h-.9zM140.8 226.9h.9v.9h-.9zM145.7 230.1h.9v.9h-.9zM144.6 228.7h.9v.9h-.9zM146.6 233.3h.9v.9h-.9zM142.8 227.6h.9v.9h-.9zM142.3 227.6h.9v.9h-.9zM142.3 238.6h.9v.9h-.9zM138.2 230.3h.9v.9h-.9zM144.9 228.3h.9v.9h-.9zM139.3 232.8h.9v.9h-.9zM145.8 231.6h.9v.9h-.9zM145.7 235.7h.9v.9h-.9zM139.4 234.3h.9v.9h-.9zM145.2 231.2h.9v.9h-.9zM146.4 233.0h.9v.9h-.9zM139.1 231.0h.9v.9h-.9zM139.9 228.9h.9v.9h-.9zM139.1 230.4h.9v.9h-.9zM146.7 233.2h.9v.9h-.9zM138.9 239.7h.9v.9h-.9zM146.6 233.5h.9v.9h-.9zM142.5 227.8h.9v.9h-.9zM140.6 228.5h.9v.9h-.9zM144.1 226.7h.9v.9h-.9zM138.2 231.3h.9v.9h-.9zM139.3 227.4h.9v.9h-.9zM141.1 226.7h.9v.9h-.9zM142.5 237.7h.9v.9h-.9zM139.6 233.8h.9v.9h-.9zM140.3 237.9h.9v.9h-.9zM142.2 227.7h.9v.9h-.9zM142.2 236.8h.9v.9h-.9zM144.6 234.8h.9v.9h-.9zM145.1 229.8h.9v.9h-.9zM139.0 232.7h.9v.9h-.9zM144.8 238.1h.9v.9h-.9zM147.0 232.2h.9v.9h-.9zM146.1 229.2h.9v.9h-.9zM145.4 231.5h.9v.9h-.9zM145.8 232.1h.9v.9h-.9zM145.6 231.2h.9v.9h-.9zM145.8 231.5h.9v.9h-.9zM142.3 226.0h.9v.9h-.9zM143.8 227.3h.9v.9h-.9zM140.2 228.7h.9v.9h-.9zM145.3 231.9h.9v.9h-.9zM140.8 227.1h.9v.9h-.9zM145.3 229.5h.9v.9h-.9zM139.0 233.6h.9v.9h-.9zM141.9 227.4h.9v.9h-.9zM146.6 233.7h.9v.9h-.9zM141.6 227.7h.9v.9h-.9zM145.7 235.4h.9v.9h-.9zM137.9 230.3h.9v.9h-.9zM146.2 233.4h.9v.9h-.9zM143.2 226.8h.9v.9h-.9zM145.4 239.6h.9v.9h-.9zM142.9 237.6h.9v.9h-.9zM142.7 239.3h.9v.9h-.9zM146.1 233.3h.9v.9h-.9zM145.6 232.1h.9v.9h-.9zM144.2 239.7h.9v.9h-.9zM143.1 226.6h.9v.9h-.9zM139.4 239.0h.9v.9h-.9zM139.7 236.9h.9v.9h-.9zM138.7 235.0h.9v.9h-.9zM141.9 226.9h.9v.9h-.9zM145.7 236.3h.9v.9h-.9zM142.1 236.9h.9v.9h-.9zM143.1 240.6h.9v.9h-.9zM141.2 236.8h.9v.9h-.9zM138.6 236.6h.9v.9h-.9zM138.1 231.2h.9v.9h-.9zM146.1 229.1h.9v.9h-.9zM140.5 239.8h.9v.9h-.9zM143.6 226.1h.9v.9h-.9zM144.9 239.0h.9v.9h-.9zM142.8 240.6h.9v.9h-.9zM140.8 239.4h.9v.9h-.9zM143.1 238.2h.9v.9h-.9zM145.5 235.2h.9v.9h-.9zM139.2 230.1h.9v.9h-.9zM140.3 240.7h.9v.9h-.9zM142.5 228.0h.9v.9h-.9zM140.0 237.7h.9v.9h-.9zM138.5 232.4h.9v.9h-.9zM140.9 241.3h.9v.9h-.9zM142.6 238.4h.9v.9h-.9zM143.1 239.7h.9v.9h-.9zM142.6 239.4h.9v.9h-.9zM140.7 235.9h.9v.9h-.9zM141.0 235.9h.9v.9h-.9zM144.2 238.9h.9v.9h-.9zM145.2 236.8h.9v.9h-.9zM146.3 238.1h.9v.9h-.9zM146.9 230.1h.9v.9h-.9zM143.9 241.2h.9v.9h-.9zM139.8 229.0h.9v.9h-.9zM145.0 238.2h.9v.9h-.9zM144.9 239.4h.9v.9h-.9zM143.9 226.9h.9v.9h-.9zM144.1 240.7h.9v.9h-.9zM140.0 238.1h.9v.9h-.9zM139.3 234.6h.9v.9h-.9zM141.3 241.6h.9v.9h-.9zM140.3 238.4h.9v.9h-.9zM144.7 237.4h.9v.9h-.9zM140.4 240.0h.9v.9h-.9zM139.8 227.2h.9v.9h-.9zM145.4 236.4h.9v.9h-.9zM144.0 241.8h.9v.9h-.9zM138.1 230.1h.9v.9h-.9zM146.3 235.6h.9v.9h-.9zM141.9 239.6h.9v.9h-.9zM141.0 238.7h.9v.9h-.9zM143.8 236.6h.9v.9h-.9zM141.3 242.8h.9v.9h-.9zM144.7 240.2h.9v.9h-.9zM144.9 236.0h.9v.9h-.9zM144.4 240.7h.9v.9h-.9zM145.3 234.4h.9v.9h-.9zM145.5 236.7h.9v.9h-.9zM143.9 241.3h.9v.9h-.9zM142.5 237.9h.9v.9h-.9zM138.5 233.2h.9v.9h-.9zM145.0 234.3h.9v.9h-.9zM142.3 240.7h.9v.9h-.9zM145.8 228.7h.9v.9h-.9zM141.1 241.2h.9v.9h-.9zM143.8 236.5h.9v.9h-.9zM141.7 239.6h.9v.9h-.9zM139.2 230.2h.9v.9h-.9zM145.9 235.1h.9v.9h-.9zM139.5 234.0h.9v.9h-.9zM143.5 241.2h.9v.9h-.9zM144.2 241.8h.9v.9h-.9zM141.3 240.9h.9v.9h-.9zM143.7 237.3h.9v.9h-.9zM143.1 240.8h.9v.9h-.9zM140.8 240.7h.9v.9h-.9zM144.9 229.0h.9v.9h-.9zM138.2 229.9h.9v.9h-.9zM146.5 235.5h.9v.9h-.9zM139.8 235.6h.9v.9h-.9zM139.4 229.9h.9v.9h-.9zM144.5 239.9h.9v.9h-.9zM144.6 235.7h.9v.9h-.9zM138.0 236.0h.9v.9h-.9zM142.6 242.9h.9v.9h-.9zM145.2 237.0h.9v.9h-.9zM140.7 239.3h.9v.9h-.9zM146.7 233.0h.9v.9h-.9zM145.4 238.6h.9v.9h-.9zM140.2 240.4h.9v.9h-.9zM141.3 237.5h.9v.9h-.9zM142.6 240.4h.9v.9h-.9zM141.4 227.7h.9v.9h-.9zM145.3 230.3h.9v.9h-.9zM144.0 241.8h.9v.9h-.9zM144.3 237.5h.9v.9h-.9zM143.1 239.2h.9v.9h-.9zM141.5 239.1h.9v.9h-.9zM140.9 236.9h.9v.9h-.9zM139.8 235.9h.9v.9h-.9zM141.7 239.1h.9v.9h-.9zM144.7 227.3h.9v.9h-.9zM139.7 237.4h.9v.9h-.9zM144.6 239.1h.9v.9h-.9zM146.0 234.3h.9v.9h-.9zM141.2 240.3h.9v.9h-.9zM139.5 231.2h.9v.9h-.9zM146.3 235.0h.9v.9h-.9zM138.8 236.8h.9v.9h-.9zM142.7 241.3h.9v.9h-.9zM142.9 240.1h.9v.9h-.9zM138.6 231.8h.9v.9h-.9zM144.8 234.4h.9v.9h-.9zM146.9 232.2h.9v.9h-.9zM139.0 237.1h.9v.9h-.9zM140.5 241.3h.9v.9h-.9zM138.1 234.0h.9v.9h-.9zM144.9 237.6h.9v.9h-.9zM145.0 235.9h.9v.9h-.9zM140.3 226.7h.9v.9h-.9zM142.8 240.0h.9v.9h-.9zM139.7 237.1h.9v.9h-.9z" fill="#3f93b0" fill-opacity="0.8"/>
<path d="M144.4 235.0h.9v.9h-.9zM143.3 236.3h.9v.9h-.9zM140.4 231.0h.9v.9h-.9zM144.9 231.1h.9v.9h-.9zM141.5 230.5h.9v.9h-.9zM142.9 229.0h.9v.9h-.9zM142.4 231.9h.9v.9h-.9zM144.6 231.6h.9v.9h-.9zM141.1 231.1h.9v.9h-.9zM144.7 230.2h.9v.9h-.9zM140.7 233.9h.9v.9h-.9zM142.6 231.8h.9v.9h-.9zM143.6 229.4h.9v.9h-.9zM142.7 229.0h.9v.9h-.9zM144.5 233.4h.9v.9h-.9zM143.2 229.3h.9v.9h-.9zM140.3 232.6h.9v.9h-.9zM139.9 231.9h.9v.9h-.9zM144.9 231.0h.9v.9h-.9zM143.5 231.3h.9v.9h-.9zM143.0 235.1h.9v.9h-.9zM143.0 232.7h.9v.9h-.9zM140.3 234.4h.9v.9h-.9zM141.9 232.4h.9v.9h-.9zM142.8 228.2h.9v.9h-.9zM141.0 232.6h.9v.9h-.9zM143.5 229.8h.9v.9h-.9zM142.8 230.2h.9v.9h-.9zM142.2 233.5h.9v.9h-.9zM141.0 231.9h.9v.9h-.9zM144.5 232.2h.9v.9h-.9zM144.1 231.4h.9v.9h-.9zM143.7 229.0h.9v.9h-.9zM140.3 230.5h.9v.9h-.9zM142.4 230.6h.9v.9h-.9zM140.6 229.9h.9v.9h-.9zM143.5 230.2h.9v.9h-.9zM143.3 231.8h.9v.9h-.9zM145.1 231.6h.9v.9h-.9zM141.6 229.8h.9v.9h-.9zM140.1 230.4h.9v.9h-.9zM140.5 231.1h.9v.9h-.9zM143.2 232.7h.9v.9h-.9zM141.6 230.8h.9v.9h-.9zM144.2 235.3h.9v.9h-.9zM142.3 235.7h.9v.9h-.9zM142.1 231.9h.9v.9h-.9zM140.6 232.7h.9v.9h-.9zM144.1 229.6h.9v.9h-.9zM143.5 230.6h.9v.9h-.9zM140.9 235.4h.9v.9h-.9zM144.8 230.6h.9v.9h-.9zM143.2 231.8h.9v.9h-.9zM142.0 230.6h.9v.9h-.9zM139.8 230.7h.9v.9h-.9zM140.8 232.3h.9v.9h-.9zM145.0 232.0h.9v.9h-.9zM142.4 235.7h.9v.9h-.9zM140.5 231.7h.9v.9h-.9zM140.1 233.3h.9v.9h-.9zM144.9 232.8h.9v.9h-.9zM142.6 231.0h.9v.9h-.9zM141.5 233.4h.9v.9h-.9zM141.2 232.1h.9v.9h-.9zM141.4 230.6h.9v.9h-.9zM141.8 229.1h.9v.9h-.9zM140.4 234.7h.9v.9h-.9zM141.5 228.9h.9v.9h-.9zM144.5 230.3h.9v.9h-.9zM143.4 234.9h.9v.9h-.9zM141.9 233.9h.9v.9h-.9zM142.0 232.9h.9v.9h-.9zM140.8 232.6h.9v.9h-.9zM141.8 228.9h.9v.9h-.9zM144.2 232.5h.9v.9h-.9zM141.4 232.2h.9v.9h-.9zM141.5 230.9h.9v.9h-.9zM143.4 233.9h.9v.9h-.9zM140.6 230.4h.9v.9h-.9zM142.7 232.0h.9v.9h-.9zM143.1 228.5h.9v.9h-.9zM142.0 233.8h.9v.9h-.9zM141.3 235.1h.9v.9h-.9zM143.1 230.3h.9v.9h-.9zM145.2 232.5h.9v.9h-.9zM141.6 229.3h.9v.9h-.9zM142.2 232.1h.9v.9h-.9zM143.0 232.2h.9v.9h-.9zM142.5 231.9h.9v.9h-.9zM140.4 234.0h.9v.9h-.9zM141.2 229.7h.9v.9h-.9zM141.3 232.8h.9v.9h-.9zM142.5 235.7h.9v.9h-.9zM141.1 233.7h.9v.9h-.9zM144.1 233.8h.9v.9h-.9zM144.7 232.7h.9v.9h-.9zM143.6 231.3h.9v.9h-.9zM140.8 232.8h.9v.9h-.9zM140.0 229.8h.9v.9h-.9zM144.4 234.8h.9v.9h-.9zM141.1 234.0h.9v.9h-.9zM143.7 232.4h.9v.9h-.9zM141.2 232.0h.9v.9h-.9zM141.2 230.7h.9v.9h-.9zM142.0 235.5h.9v.9h-.9zM141.6 228.6h.9v.9h-.9zM140.5 234.7h.9v.9h-.9zM143.6 235.5h.9v.9h-.9zM141.6 229.3h.9v.9h-.9zM139.7 231.7h.9v.9h-.9zM144.4 232.5h.9v.9h-.9zM141.1 232.8h.9v.9h-.9zM140.2 231.2h.9v.9h-.9zM142.0 229.2h.9v.9h-.9zM141.0 230.1h.9v.9h-.9zM143.4 233.8h.9v.9h-.9zM144.2 233.4h.9v.9h-.9zM140.4 233.1h.9v.9h-.9zM141.1 229.7h.9v.9h-.9zM141.5 230.5h.9v.9h-.9zM140.3 232.9h.9v.9h-.9zM143.0 233.1h.9v.9h-.9zM140.9 234.0h.9v.9h-.9zM142.5 233.8h.9v.9h-.9zM142.0 232.1h.9v.9h-.9zM142.8 232.8h.9v.9h-.9zM142.2 235.1h.9v.9h-.9zM139.7 232.8h.9v.9h-.9zM142.6 232.3h.9v.9h-.9zM141.2 231.7h.9v.9h-.9zM143.6 235.0h.9v.9h-.9zM141.9 231.9h.9v.9h-.9zM142.4 230.3h.9v.9h-.9zM141.1 232.4h.9v.9h-.9zM141.1 230.6h.9v.9h-.9zM144.8 231.1h.9v.9h-.9zM144.6 230.9h.9v.9h-.9zM144.0 230.5h.9v.9h-.9zM140.1 231.4h.9v.9h-.9zM141.9 230.5h.9v.9h-.9zM141.7 232.0h.9v.9h-.9zM143.4 230.5h.9v.9h-.9zM142.9 230.8h.9v.9h-.9zM144.2 234.4h.9v.9h-.9zM142.5 231.7h.9v.9h-.9zM144.4 234.8h.9v.9h-.9zM142.4 233.2h.9v.9h-.9zM143.5 230.8h.9v.9h-.9zM142.2 234.6h.9v.9h-.9zM142.0 228.8h.9v.9h-.9zM143.6 232.7h.9v.9h-.9zM140.0 234.2h.9v.9h-.9zM141.6 235.2h.9v.9h-.9zM142.2 231.4h.9v.9h-.9zM142.0 233.4h.9v.9h-.9zM140.7 234.5h.9v.9h-.9zM144.3 231.7h.9v.9h-.9zM143.2 231.2h.9v.9h-.9zM144.0 234.9h.9v.9h-.9z" fill="#45a86e" fill-opacity="0.85"/>
<ellipse cx="222.5" cy="235.0" rx="6.0" ry="8.5" fill="#7c94d0" fill-opacity="0.3" filter="url(#bl)"/>
<ellipse cx="205.0" cy="233.0" rx="8.0" ry="4.0" fill="#b0b8e8" fill-opacity="0.3" filter="url(#bl)"/>
<path d="M229.8 228.5h.9v.9h-.9zM225.9 224.3h.9v.9h-.9zM214.2 226.6h.9v.9h-.9zM227.9 224.6h.9v.9h-.9zM230.4 242.4h.9v.9h-.9zM227.0 224.0h.9v.9h-.9zM212.8 221.8h.9v.9h-.9zM218.3 223.8h.9v.9h-.9zM225.5 246.5h.9v.9h-.9zM229.4 221.7h.9v.9h-.9zM209.9 232.0h.9v.9h-.9zM218.0 249.3h.9v.9h-.9zM213.5 241.0h.9v.9h-.9zM230.4 232.2h.9v.9h-.9zM213.2 237.4h.9v.9h-.9zM230.1 234.4h.9v.9h-.9zM216.2 252.6h.9v.9h-.9zM225.4 251.4h.9v.9h-.9zM230.5 243.7h.9v.9h-.9zM222.2 248.4h.9v.9h-.9zM230.2 231.3h.9v.9h-.9zM229.7 238.7h.9v.9h-.9zM214.4 240.7h.9v.9h-.9zM213.3 241.0h.9v.9h-.9zM216.7 249.8h.9v.9h-.9zM221.2 249.1h.9v.9h-.9zM221.6 222.2h.9v.9h-.9zM210.9 242.9h.9v.9h-.9zM213.5 244.4h.9v.9h-.9zM235.1 223.4h.9v.9h-.9zM219.1 222.8h.9v.9h-.9zM223.4 250.5h.9v.9h-.9zM228.4 246.7h.9v.9h-.9zM219.7 217.4h.9v.9h-.9zM219.2 220.2h.9v.9h-.9zM230.5 225.2h.9v.9h-.9zM215.2 251.2h.9v.9h-.9zM232.8 227.0h.9v.9h-.9zM231.6 237.5h.9v.9h-.9zM230.2 245.1h.9v.9h-.9zM225.0 248.6h.9v.9h-.9zM230.4 240.9h.9v.9h-.9zM231.6 241.3h.9v.9h-.9zM223.5 222.9h.9v.9h-.9zM230.2 233.2h.9v.9h-.9zM232.7 236.6h.9v.9h-.9zM225.6 218.5h.9v.9h-.9zM218.8 247.1h.9v.9h-.9zM214.7 244.1h.9v.9h-.9zM227.3 244.8h.9v.9h-.9zM219.5 216.9h.9v.9h-.9zM212.7 227.6h.9v.9h-.9zM220.0 248.2h.9v.9h-.9zM227.2 246.3h.9v.9h-.9zM227.9 250.0h.9v.9h-.9zM223.8 249.2h.9v.9h-.9zM228.4 243.1h.9v.9h-.9zM213.6 232.0h.9v.9h-.9zM219.1 249.7h.9v.9h-.9zM215.5 242.3h.9v.9h-.9zM222.7 221.5h.9v.9h-.9zM230.8 238.3h.9v.9h-.9zM218.3 222.7h.9v.9h-.9zM229.7 229.9h.9v.9h-.9zM225.2 222.5h.9v.9h-.9zM212.7 239.3h.9v.9h-.9zM213.3 247.8h.9v.9h-.9zM214.5 244.9h.9v.9h-.9zM231.0 234.5h.9v.9h-.9zM217.4 247.2h.9v.9h-.9zM214.0 235.6h.9v.9h-.9zM229.3 216.2h.9v.9h-.9zM217.1 245.0h.9v.9h-.9zM221.6 222.0h.9v.9h-.9zM217.6 245.8h.9v.9h-.9zM209.6 242.3h.9v.9h-.9zM230.3 241.0h.9v.9h-.9zM231.3 249.9h.9v.9h-.9zM214.2 239.4h.9v.9h-.9zM213.1 237.6h.9v.9h-.9zM230.2 238.6h.9v.9h-.9zM223.3 253.3h.9v.9h-.9zM230.8 229.4h.9v.9h-.9zM213.7 235.8h.9v.9h-.9zM217.3 245.5h.9v.9h-.9zM222.8 247.8h.9v.9h-.9zM230.2 232.7h.9v.9h-.9zM225.8 249.3h.9v.9h-.9zM213.0 230.7h.9v.9h-.9zM220.9 247.7h.9v.9h-.9zM229.9 238.1h.9v.9h-.9zM215.8 245.1h.9v.9h-.9zM228.7 250.5h.9v.9h-.9zM233.5 226.2h.9v.9h-.9zM220.9 222.6h.9v.9h-.9zM227.5 225.7h.9v.9h-.9zM214.8 243.2h.9v.9h-.9zM231.8 229.0h.9v.9h-.9zM220.9 221.6h.9v.9h-.9zM216.7 245.1h.9v.9h-.9zM230.6 229.9h.9v.9h-.9zM214.3 240.7h.9v.9h-.9zM223.4 222.2h.9v.9h-.9zM209.7 228.1h.9v.9h-.9zM215.0 229.6h.9v.9h-.9zM208.6 230.9h.9v.9h-.9zM209.7 232.8h.9v.9h-.9zM211.2 227.3h.9v.9h-.9zM214.3 237.4h.9v.9h-.9zM208.9 227.6h.9v.9h-.9zM212.0 227.3h.9v.9h-.9zM216.2 230.0h.9v.9h-.9zM208.2 227.5h.9v.9h-.9zM209.5 228.0h.9v.9h-.9zM213.0 237.1h.9v.9h-.9zM211.1 231.5h.9v.9h-.9zM216.2 230.8h.9v.9h-.9zM211.0 237.0h.9v.9h-.9zM213.7 229.7h.9v.9h-.9zM214.9 227.9h.9v.9h-.9zM208.5 227.8h.9v.9h-.9zM210.5 236.7h.9v.9h-.9zM209.8 226.7h.9v.9h-.9zM208.5 235.7h.9v.9h-.9zM212.1 238.5h.9v.9h-.9zM210.6 227.1h.9v.9h-.9zM209.2 234.8h.9v.9h-.9zM212.1 236.4h.9v.9h-.9zM216.1 230.7h.9v.9h-.9zM208.4 236.6h.9v.9h-.9zM215.5 231.9h.9v.9h-.9zM212.3 235.3h.9v.9h-.9zM210.8 226.6h.9v.9h-.9zM216.2 230.4h.9v.9h-.9zM210.6 237.2h.9v.9h-.9zM215.7 230.0h.9v.9h-.9zM214.2 239.5h.9v.9h-.9zM212.2 230.9h.9v.9h-.9zM216.0 227.1h.9v.9h-.9zM213.9 227.6h.9v.9h-.9zM210.5 235.3h.9v.9h-.9zM208.2 237.9h.9v.9h-.9zM214.0 238.1h.9v.9h-.9zM215.2 232.2h.9v.9h-.9zM211.2 226.9h.9v.9h-.9zM215.8 235.3h.9v.9h-.9zM210.4 228.3h.9v.9h-.9zM216.2 228.8h.9v.9h-.9zM209.1 227.8h.9v.9h-.9zM213.9 235.8h.9v.9h-.9zM210.0 233.6h.9v.9h-.9zM212.9 233.3h.9v.9h-.9zM209.0 235.3h.9v.9h-.9zM208.5 226.9h.9v.9h-.9zM213.0 237.6h.9v.9h-.9zM213.8 236.7h.9v.9h-.9zM215.2 233.4h.9v.9h-.9zM215.9 239.0h.9v.9h-.9zM215.1 227.2h.9v.9h-.9zM210.1 230.2h.9v.9h-.9zM212.5 230.4h.9v.9h-.9zM215.6 232.9h.9v.9h-.9zM215.9 239.3h.9v.9h-.9zM207.9 228.3h.9v.9h-.9zM216.4 226.9h.9v.9h-.9zM211.0 227.3h.9v.9h-.9zM213.5 230.3h.9v.9h-.9zM215.4 238.9h.9v.9h-.9zM215.5 228.6h.9v.9h-.9zM213.3 239.4h.9v.9h-.9zM211.4 230.0h.9v.9h-.9zM216.5 231.9h.9v.9h-.9zM207.7 231.7h.9v.9h-.9zM208.7 226.6h.9v.9h-.9zM215.5 234.8h.9v.9h-.9zM211.2 238.2h.9v.9h-.9zM209.5 226.7h.9v.9h-.9zM208.1 230.7h.9v.9h-.9zM209.9 233.3h.9v.9h-.9zM216.3 230.5h.9v.9h-.9zM215.1 227.0h.9v.9h-.9zM214.1 227.6h.9v.9h-.9zM215.3 231.5h.9v.9h-.9zM199.2 229.8h.9v.9h-.9zM197.5 233.5h.9v.9h-.9zM200.9 228.0h.9v.9h-.9zM198.2 229.7h.9v.9h-.9zM198.2 228.1h.9v.9h-.9zM201.7 233.4h.9v.9h-.9zM194.6 233.0h.9v.9h-.9zM197.1 230.8h.9v.9h-.9zM205.1 229.0h.9v.9h-.9zM205.5 227.8h.9v.9h-.9zM198.5 227.6h.9v.9h-.9zM196.6 233.1h.9v.9h-.9zM206.6 234.1h.9v.9h-.9zM197.4 232.0h.9v.9h-.9zM202.8 228.8h.9v.9h-.9zM195.4 235.4h.9v.9h-.9zM206.6 229.3h.9v.9h-.9zM195.9 234.5h.9v.9h-.9zM197.1 227.6h.9v.9h-.9zM207.4 228.3h.9v.9h-.9zM197.7 232.7h.9v.9h-.9zM203.9 232.5h.9v.9h-.9zM196.7 236.0h.9v.9h-.9zM199.3 228.3h.9v.9h-.9zM204.8 228.5h.9v.9h-.9zM200.1 228.7h.9v.9h-.9zM200.7 234.0h.9v.9h-.9zM196.2 237.5h.9v.9h-.9zM201.1 235.3h.9v.9h-.9zM200.4 229.6h.9v.9h-.9zM201.9 227.7h.9v.9h-.9zM197.1 227.9h.9v.9h-.9zM196.9 228.7h.9v.9h-.9zM196.8 236.3h.9v.9h-.9zM195.2 228.7h.9v.9h-.9zM195.4 231.9h.9v.9h-.9zM206.1 231.4h.9v.9h-.9zM199.6 234.3h.9v.9h-.9zM202.3 233.4h.9v.9h-.9zM204.0 228.7h.9v.9h-.9zM214.8 241.3h.9v.9h-.9zM217.3 247.0h.9v.9h-.9zM228.7 239.7h.9v.9h-.9zM224.0 244.0h.9v.9h-.9zM221.6 240.8h.9v.9h-.9zM231.4 247.9h.9v.9h-.9zM227.4 248.4h.9v.9h-.9zM230.2 249.5h.9v.9h-.9zM227.6 245.9h.9v.9h-.9zM214.1 241.5h.9v.9h-.9zM219.5 247.6h.9v.9h-.9zM214.1 246.8h.9v.9h-.9zM221.1 239.9h.9v.9h-.9zM220.3 241.0h.9v.9h-.9zM225.6 240.9h.9v.9h-.9zM217.9 248.1h.9v.9h-.9zM220.7 247.5h.9v.9h-.9zM216.0 242.1h.9v.9h-.9zM216.7 240.8h.9v.9h-.9zM222.6 249.2h.9v.9h-.9zM222.6 249.2h.9v.9h-.9zM219.6 239.7h.9v.9h-.9zM228.6 241.2h.9v.9h-.9zM218.8 246.0h.9v.9h-.9zM231.5 243.9h.9v.9h-.9zM222.8 240.7h.9v.9h-.9zM214.7 241.9h.9v.9h-.9zM217.4 244.0h.9v.9h-.9zM215.9 240.9h.9v.9h-.9zM218.5 239.6h.9v.9h-.9zM227.9 241.9h.9v.9h-.9zM226.3 246.8h.9v.9h-.9zM226.5 243.8h.9v.9h-.9zM217.1 245.0h.9v.9h-.9zM219.6 241.0h.9v.9h-.9zM228.5 249.4h.9v.9h-.9zM228.9 249.8h.9v.9h-.9zM224.5 248.6h.9v.9h-.9zM224.8 249.6h.9v.9h-.9zM217.1 240.3h.9v.9h-.9zM215.2 242.3h.9v.9h-.9zM231.3 244.4h.9v.9h-.9zM218.7 245.4h.9v.9h-.9zM219.3 244.9h.9v.9h-.9zM226.7 246.6h.9v.9h-.9zM224.1 242.4h.9v.9h-.9zM216.8 239.8h.9v.9h-.9zM215.4 241.8h.9v.9h-.9zM228.8 249.1h.9v.9h-.9zM217.1 246.8h.9v.9h-.9zM220.2 242.0h.9v.9h-.9zM229.8 244.7h.9v.9h-.9zM223.5 250.0h.9v.9h-.9zM218.8 241.3h.9v.9h-.9zM215.6 241.2h.9v.9h-.9zM226.4 239.7h.9v.9h-.9zM222.6 240.2h.9v.9h-.9zM222.7 239.7h.9v.9h-.9zM225.4 243.2h.9v.9h-.9zM229.1 240.8h.9v.9h-.9zM216.2 244.6h.9v.9h-.9zM219.2 250.6h.9v.9h-.9zM225.2 249.0h.9v.9h-.9zM224.4 246.3h.9v.9h-.9zM218.1 243.7h.9v.9h-.9zM217.4 245.8h.9v.9h-.9zM221.6 250.1h.9v.9h-.9zM224.3 246.8h.9v.9h-.9zM215.5 251.3h.9v.9h-.9zM227.4 240.9h.9v.9h-.9z" fill="#7d86d2" fill-opacity="0.6"/>
<path d="M226.9 228.9h.9v.9h-.9zM220.2 223.7h.9v.9h-.9zM215.2 230.2h.9v.9h-.9zM215.2 230.0h.9v.9h-.9zM221.1 224.5h.9v.9h-.9zM215.0 231.8h.9v.9h-.9zM226.5 226.6h.9v.9h-.9zM216.8 226.9h.9v.9h-.9zM225.4 226.4h.9v.9h-.9zM216.5 225.6h.9v.9h-.9zM216.5 226.0h.9v.9h-.9zM216.3 233.0h.9v.9h-.9zM228.1 229.7h.9v.9h-.9zM215.0 231.9h.9v.9h-.9zM221.7 243.6h.9v.9h-.9zM226.3 225.0h.9v.9h-.9zM216.7 234.4h.9v.9h-.9zM224.2 225.3h.9v.9h-.9zM214.9 233.8h.9v.9h-.9zM227.1 233.9h.9v.9h-.9zM216.1 231.3h.9v.9h-.9zM222.1 223.4h.9v.9h-.9zM229.4 235.4h.9v.9h-.9zM224.7 243.7h.9v.9h-.9zM227.3 230.7h.9v.9h-.9zM219.5 243.3h.9v.9h-.9zM221.2 243.7h.9v.9h-.9zM220.0 246.6h.9v.9h-.9zM221.5 245.9h.9v.9h-.9zM226.6 242.0h.9v.9h-.9zM224.8 243.2h.9v.9h-.9zM221.7 246.7h.9v.9h-.9zM218.5 223.8h.9v.9h-.9zM216.0 238.9h.9v.9h-.9zM221.8 223.4h.9v.9h-.9zM226.0 242.2h.9v.9h-.9zM224.7 225.8h.9v.9h-.9zM228.4 234.6h.9v.9h-.9zM227.8 233.7h.9v.9h-.9zM224.2 242.4h.9v.9h-.9zM221.3 224.5h.9v.9h-.9zM228.3 234.5h.9v.9h-.9zM228.8 231.4h.9v.9h-.9zM218.8 244.6h.9v.9h-.9zM215.4 233.8h.9v.9h-.9zM224.4 243.8h.9v.9h-.9zM224.6 242.9h.9v.9h-.9zM223.0 244.2h.9v.9h-.9zM224.8 244.4h.9v.9h-.9zM215.7 235.8h.9v.9h-.9zM216.4 238.2h.9v.9h-.9zM216.1 238.1h.9v.9h-.9zM214.9 239.4h.9v.9h-.9zM227.0 241.5h.9v.9h-.9zM216.1 232.0h.9v.9h-.9zM216.2 235.5h.9v.9h-.9zM216.0 234.7h.9v.9h-.9zM225.4 246.3h.9v.9h-.9zM218.2 241.5h.9v.9h-.9zM226.1 243.3h.9v.9h-.9zM223.1 246.9h.9v.9h-.9zM221.9 224.4h.9v.9h-.9zM227.3 229.3h.9v.9h-.9zM225.0 244.3h.9v.9h-.9zM215.9 230.5h.9v.9h-.9zM216.1 235.3h.9v.9h-.9zM224.5 225.6h.9v.9h-.9zM219.4 246.9h.9v.9h-.9zM219.2 242.0h.9v.9h-.9zM226.2 242.4h.9v.9h-.9zM226.7 240.1h.9v.9h-.9zM222.9 243.8h.9v.9h-.9zM216.6 238.6h.9v.9h-.9zM216.7 239.8h.9v.9h-.9zM222.8 243.8h.9v.9h-.9zM226.7 228.0h.9v.9h-.9zM215.5 230.5h.9v.9h-.9zM226.3 239.7h.9v.9h-.9zM217.2 239.4h.9v.9h-.9zM218.6 243.4h.9v.9h-.9zM215.3 234.1h.9v.9h-.9zM214.5 233.7h.9v.9h-.9zM216.6 227.1h.9v.9h-.9zM218.7 245.4h.9v.9h-.9zM216.4 240.9h.9v.9h-.9zM216.9 227.1h.9v.9h-.9zM215.5 240.4h.9v.9h-.9zM216.3 231.8h.9v.9h-.9zM220.4 244.8h.9v.9h-.9zM227.3 234.0h.9v.9h-.9zM220.4 224.4h.9v.9h-.9zM223.2 243.3h.9v.9h-.9zM226.0 242.0h.9v.9h-.9zM215.7 236.8h.9v.9h-.9zM224.3 243.4h.9v.9h-.9zM228.5 235.4h.9v.9h-.9zM219.6 244.1h.9v.9h-.9zM214.2 234.4h.9v.9h-.9zM216.0 227.2h.9v.9h-.9zM227.7 232.9h.9v.9h-.9zM225.4 242.3h.9v.9h-.9zM216.1 240.8h.9v.9h-.9zM224.2 242.6h.9v.9h-.9zM220.0 243.1h.9v.9h-.9zM225.9 242.5h.9v.9h-.9zM226.1 226.9h.9v.9h-.9zM216.0 235.0h.9v.9h-.9zM227.3 235.3h.9v.9h-.9zM223.8 223.7h.9v.9h-.9zM227.6 228.9h.9v.9h-.9zM221.8 246.1h.9v.9h-.9zM216.7 242.9h.9v.9h-.9zM224.6 245.0h.9v.9h-.9zM229.2 235.0h.9v.9h-.9zM215.4 239.4h.9v.9h-.9zM217.5 245.1h.9v.9h-.9zM227.8 238.7h.9v.9h-.9zM218.9 245.2h.9v.9h-.9zM227.9 239.6h.9v.9h-.9zM215.2 233.9h.9v.9h-.9zM227.6 229.8h.9v.9h-.9zM223.3 244.5h.9v.9h-.9zM221.6 244.5h.9v.9h-.9zM227.0 231.9h.9v.9h-.9zM221.7 246.9h.9v.9h-.9zM228.3 235.1h.9v.9h-.9zM219.0 243.4h.9v.9h-.9zM228.6 229.2h.9v.9h-.9zM225.2 225.3h.9v.9h-.9zM225.6 242.1h.9v.9h-.9zM223.8 245.0h.9v.9h-.9zM224.1 245.4h.9v.9h-.9zM216.0 239.3h.9v.9h-.9zM223.4 243.7h.9v.9h-.9zM223.7 243.1h.9v.9h-.9zM225.0 224.5h.9v.9h-.9zM224.2 224.9h.9v.9h-.9zM223.2 244.8h.9v.9h-.9zM224.1 247.2h.9v.9h-.9zM218.0 243.0h.9v.9h-.9zM227.6 232.3h.9v.9h-.9zM222.2 223.0h.9v.9h-.9zM217.1 243.0h.9v.9h-.9zM224.1 243.6h.9v.9h-.9zM228.6 232.1h.9v.9h-.9zM218.3 241.5h.9v.9h-.9zM215.3 232.9h.9v.9h-.9zM223.9 243.4h.9v.9h-.9zM215.1 233.6h.9v.9h-.9zM216.9 226.9h.9v.9h-.9zM227.0 240.9h.9v.9h-.9zM227.5 237.3h.9v.9h-.9zM222.7 244.4h.9v.9h-.9zM228.2 242.4h.9v.9h-.9zM225.4 242.1h.9v.9h-.9zM217.2 243.6h.9v.9h-.9z" fill="#5a7fc8" fill-opacity="0.7"/>
<path d="M225.3 230.8h.9v.9h-.9zM226.1 231.2h.9v.9h-.9zM219.8 226.3h.9v.9h-.9zM225.5 230.1h.9v.9h-.9zM217.5 229.0h.9v.9h-.9zM219.6 226.3h.9v.9h-.9zM224.7 227.1h.9v.9h-.9zM217.0 228.5h.9v.9h-.9zM217.4 229.3h.9v.9h-.9zM217.5 226.7h.9v.9h-.9zM223.9 226.1h.9v.9h-.9zM219.5 226.5h.9v.9h-.9zM217.4 232.2h.9v.9h-.9zM225.5 230.7h.9v.9h-.9zM224.3 226.4h.9v.9h-.9zM224.2 226.2h.9v.9h-.9zM218.0 227.0h.9v.9h-.9zM225.0 228.5h.9v.9h-.9zM225.2 229.0h.9v.9h-.9zM218.3 227.4h.9v.9h-.9zM217.3 229.7h.9v.9h-.9zM223.0 226.1h.9v.9h-.9zM224.9 228.3h.9v.9h-.9zM220.3 225.8h.9v.9h-.9zM224.4 226.9h.9v.9h-.9zM218.5 240.7h.9v.9h-.9zM223.9 239.3h.9v.9h-.9zM226.7 232.2h.9v.9h-.9zM220.2 238.7h.9v.9h-.9zM226.9 236.6h.9v.9h-.9zM219.4 240.6h.9v.9h-.9zM217.0 233.0h.9v.9h-.9zM222.9 242.1h.9v.9h-.9zM221.7 238.2h.9v.9h-.9zM224.3 235.0h.9v.9h-.9zM222.8 242.1h.9v.9h-.9zM226.1 239.8h.9v.9h-.9zM218.8 238.5h.9v.9h-.9zM217.3 232.3h.9v.9h-.9zM225.0 232.5h.9v.9h-.9zM218.6 226.9h.9v.9h-.9zM222.7 238.7h.9v.9h-.9zM224.1 241.7h.9v.9h-.9zM224.7 226.7h.9v.9h-.9zM221.5 237.5h.9v.9h-.9zM222.9 239.9h.9v.9h-.9zM223.8 236.7h.9v.9h-.9zM226.6 232.3h.9v.9h-.9zM223.1 225.5h.9v.9h-.9zM224.4 242.0h.9v.9h-.9zM219.7 236.8h.9v.9h-.9zM223.3 241.9h.9v.9h-.9zM218.2 238.2h.9v.9h-.9zM219.6 234.5h.9v.9h-.9zM223.5 239.7h.9v.9h-.9zM217.0 229.2h.9v.9h-.9zM226.9 234.5h.9v.9h-.9zM221.9 238.2h.9v.9h-.9zM223.8 240.0h.9v.9h-.9zM224.0 238.6h.9v.9h-.9zM222.7 237.7h.9v.9h-.9zM221.2 239.8h.9v.9h-.9zM224.3 237.7h.9v.9h-.9zM223.0 237.7h.9v.9h-.9zM224.7 238.8h.9v.9h-.9zM225.7 232.3h.9v.9h-.9zM220.7 240.6h.9v.9h-.9zM219.2 239.1h.9v.9h-.9zM223.1 237.4h.9v.9h-.9zM218.2 237.0h.9v.9h-.9zM220.6 241.1h.9v.9h-.9zM225.5 239.8h.9v.9h-.9zM221.9 237.8h.9v.9h-.9zM222.3 238.6h.9v.9h-.9zM224.5 237.9h.9v.9h-.9zM223.5 237.0h.9v.9h-.9zM219.8 236.0h.9v.9h-.9zM219.6 237.4h.9v.9h-.9zM224.7 241.3h.9v.9h-.9zM223.2 237.1h.9v.9h-.9zM224.3 241.4h.9v.9h-.9zM220.6 236.8h.9v.9h-.9zM225.4 228.7h.9v.9h-.9zM218.0 233.6h.9v.9h-.9zM222.5 243.0h.9v.9h-.9zM224.2 237.2h.9v.9h-.9zM225.3 230.9h.9v.9h-.9zM218.2 239.2h.9v.9h-.9zM217.8 227.8h.9v.9h-.9zM225.5 229.6h.9v.9h-.9zM219.8 234.6h.9v.9h-.9zM225.0 240.0h.9v.9h-.9zM220.1 238.2h.9v.9h-.9zM222.9 240.3h.9v.9h-.9zM224.6 233.5h.9v.9h-.9zM217.4 236.1h.9v.9h-.9zM218.1 232.4h.9v.9h-.9zM225.0 240.0h.9v.9h-.9zM222.6 240.6h.9v.9h-.9zM219.9 235.9h.9v.9h-.9zM225.6 233.6h.9v.9h-.9zM225.2 235.6h.9v.9h-.9zM221.2 239.0h.9v.9h-.9zM225.6 231.1h.9v.9h-.9zM217.1 230.6h.9v.9h-.9zM225.4 228.2h.9v.9h-.9zM225.7 239.9h.9v.9h-.9zM222.6 225.8h.9v.9h-.9zM224.7 239.2h.9v.9h-.9zM219.2 238.9h.9v.9h-.9zM221.5 242.9h.9v.9h-.9zM220.1 241.6h.9v.9h-.9zM225.5 228.5h.9v.9h-.9zM222.0 238.9h.9v.9h-.9zM225.5 240.4h.9v.9h-.9zM218.5 236.9h.9v.9h-.9zM226.6 230.0h.9v.9h-.9zM219.5 236.4h.9v.9h-.9zM220.6 237.1h.9v.9h-.9zM225.3 230.9h.9v.9h-.9zM225.2 234.4h.9v.9h-.9zM219.6 239.2h.9v.9h-.9zM222.4 238.6h.9v.9h-.9zM217.0 230.1h.9v.9h-.9zM225.3 241.2h.9v.9h-.9zM222.5 240.3h.9v.9h-.9zM224.1 234.6h.9v.9h-.9zM218.9 238.9h.9v.9h-.9zM225.3 227.1h.9v.9h-.9zM218.2 235.2h.9v.9h-.9zM218.4 235.3h.9v.9h-.9zM225.4 232.2h.9v.9h-.9zM224.6 227.8h.9v.9h-.9zM219.1 234.8h.9v.9h-.9zM216.7 230.9h.9v.9h-.9zM218.9 235.3h.9v.9h-.9zM217.6 235.5h.9v.9h-.9zM225.6 232.2h.9v.9h-.9zM218.5 233.3h.9v.9h-.9zM221.5 238.2h.9v.9h-.9zM220.2 239.6h.9v.9h-.9zM217.5 232.9h.9v.9h-.9zM225.7 234.8h.9v.9h-.9zM224.6 236.1h.9v.9h-.9zM225.7 238.4h.9v.9h-.9zM225.4 237.4h.9v.9h-.9zM219.2 240.5h.9v.9h-.9zM223.7 238.9h.9v.9h-.9zM224.5 233.1h.9v.9h-.9zM222.1 237.7h.9v.9h-.9zM225.7 240.6h.9v.9h-.9zM218.9 235.1h.9v.9h-.9zM219.9 242.3h.9v.9h-.9zM221.9 238.6h.9v.9h-.9zM218.9 237.3h.9v.9h-.9zM220.2 237.8h.9v.9h-.9zM223.6 237.5h.9v.9h-.9zM224.4 226.0h.9v.9h-.9zM222.8 239.2h.9v.9h-.9zM224.5 234.5h.9v.9h-.9zM218.8 239.7h.9v.9h-.9zM223.7 238.2h.9v.9h-.9zM219.6 239.5h.9v.9h-.9zM219.0 237.2h.9v.9h-.9zM222.5 226.0h.9v.9h-.9zM224.5 235.6h.9v.9h-.9zM220.0 235.3h.9v.9h-.9zM220.8 240.4h.9v.9h-.9zM225.3 238.0h.9v.9h-.9zM217.5 235.0h.9v.9h-.9zM224.0 235.7h.9v.9h-.9zM218.1 235.8h.9v.9h-.9zM218.1 227.5h.9v.9h-.9zM226.8 232.5h.9v.9h-.9zM224.8 233.6h.9v.9h-.9zM223.0 237.0h.9v.9h-.9zM217.6 237.3h.9v.9h-.9zM225.8 235.5h.9v.9h-.9zM223.6 235.9h.9v.9h-.9zM218.2 234.2h.9v.9h-.9zM221.9 239.4h.9v.9h-.9zM220.9 225.1h.9v.9h-.9zM220.5 238.0h.9v.9h-.9zM224.8 232.8h.9v.9h-.9zM218.5 236.7h.9v.9h-.9zM224.7 239.0h.9v.9h-.9zM217.5 229.5h.9v.9h-.9zM217.8 237.2h.9v.9h-.9zM225.5 237.0h.9v.9h-.9zM219.7 235.9h.9v.9h-.9zM225.5 237.9h.9v.9h-.9zM216.5 231.9h.9v.9h-.9zM221.3 241.9h.9v.9h-.9zM224.7 239.1h.9v.9h-.9zM219.6 235.0h.9v.9h-.9zM223.6 236.3h.9v.9h-.9zM220.0 225.6h.9v.9h-.9zM218.7 238.7h.9v.9h-.9zM222.1 238.1h.9v.9h-.9zM224.8 233.0h.9v.9h-.9zM226.1 232.9h.9v.9h-.9zM218.7 226.5h.9v.9h-.9zM221.6 240.8h.9v.9h-.9zM218.5 237.9h.9v.9h-.9zM224.7 235.1h.9v.9h-.9zM225.9 232.9h.9v.9h-.9zM219.4 234.1h.9v.9h-.9zM222.0 242.4h.9v.9h-.9zM219.1 233.6h.9v.9h-.9zM217.9 233.3h.9v.9h-.9zM222.3 242.3h.9v.9h-.9zM220.7 241.0h.9v.9h-.9zM225.2 239.0h.9v.9h-.9zM220.6 239.5h.9v.9h-.9zM223.5 236.5h.9v.9h-.9zM220.0 238.9h.9v.9h-.9zM225.9 236.5h.9v.9h-.9zM223.5 242.3h.9v.9h-.9zM225.3 239.1h.9v.9h-.9zM223.2 240.4h.9v.9h-.9zM224.2 240.8h.9v.9h-.9zM218.2 227.2h.9v.9h-.9zM218.7 236.1h.9v.9h-.9zM219.9 237.4h.9v.9h-.9zM221.3 237.7h.9v.9h-.9zM222.3 242.0h.9v.9h-.9z" fill="#3f93b0" fill-opacity="0.8"/>
<path d="M217.7 229.9h.9v.9h-.9zM220.5 233.3h.9v.9h-.9zM220.0 226.6h.9v.9h-.9zM217.9 228.2h.9v.9h-.9zM223.9 233.4h.9v.9h-.9zM224.4 230.9h.9v.9h-.9zM223.2 232.9h.9v.9h-.9zM218.9 227.9h.9v.9h-.9zM224.7 228.9h.9v.9h-.9zM222.2 226.9h.9v.9h-.9zM218.5 230.5h.9v.9h-.9zM218.0 231.8h.9v.9h-.9zM222.8 232.4h.9v.9h-.9zM219.2 231.9h.9v.9h-.9zM223.8 233.7h.9v.9h-.9zM224.4 230.1h.9v.9h-.9zM219.3 232.8h.9v.9h-.9zM222.8 226.6h.9v.9h-.9zM217.8 229.8h.9v.9h-.9zM220.7 234.7h.9v.9h-.9zM219.9 233.7h.9v.9h-.9zM220.1 234.5h.9v.9h-.9zM224.5 232.7h.9v.9h-.9zM218.0 228.2h.9v.9h-.9zM221.9 226.5h.9v.9h-.9zM220.9 226.5h.9v.9h-.9zM224.9 229.7h.9v.9h-.9zM224.5 228.0h.9v.9h-.9zM217.9 228.6h.9v.9h-.9zM219.5 232.3h.9v.9h-.9zM219.7 232.5h.9v.9h-.9zM221.4 226.1h.9v.9h-.9zM222.1 234.2h.9v.9h-.9zM224.2 228.9h.9v.9h-.9zM224.1 228.2h.9v.9h-.9zM223.6 231.6h.9v.9h-.9zM223.0 226.8h.9v.9h-.9zM224.0 228.9h.9v.9h-.9zM218.7 232.1h.9v.9h-.9zM222.3 233.7h.9v.9h-.9zM223.1 232.3h.9v.9h-.9zM223.3 227.1h.9v.9h-.9zM224.1 231.4h.9v.9h-.9zM218.6 228.8h.9v.9h-.9zM217.7 228.8h.9v.9h-.9zM222.0 226.9h.9v.9h-.9zM219.4 227.5h.9v.9h-.9zM218.7 230.7h.9v.9h-.9zM223.6 228.2h.9v.9h-.9zM223.4 226.7h.9v.9h-.9zM224.6 228.4h.9v.9h-.9zM223.9 231.5h.9v.9h-.9zM221.9 234.3h.9v.9h-.9zM219.5 234.1h.9v.9h-.9zM219.0 227.4h.9v.9h-.9zM218.7 231.3h.9v.9h-.9zM224.3 231.5h.9v.9h-.9zM218.1 228.5h.9v.9h-.9zM218.5 229.3h.9v.9h-.9zM219.4 232.1h.9v.9h-.9zM218.8 230.9h.9v.9h-.9zM221.1 233.4h.9v.9h-.9zM224.7 229.1h.9v.9h-.9zM220.2 233.5h.9v.9h-.9zM218.9 227.0h.9v.9h-.9zM218.8 228.0h.9v.9h-.9zM220.7 226.8h.9v.9h-.9zM219.4 226.8h.9v.9h-.9zM224.4 232.2h.9v.9h-.9zM223.7 233.8h.9v.9h-.9zM220.1 232.8h.9v.9h-.9zM224.4 230.4h.9v.9h-.9zM222.8 234.7h.9v.9h-.9zM223.5 227.9h.9v.9h-.9zM222.9 236.9h.9v.9h-.9zM220.3 233.4h.9v.9h-.9zM222.5 236.7h.9v.9h-.9zM224.6 231.5h.9v.9h-.9zM223.4 234.7h.9v.9h-.9zM223.6 234.9h.9v.9h-.9zM220.7 232.6h.9v.9h-.9zM224.0 233.1h.9v.9h-.9zM219.8 234.3h.9v.9h-.9zM224.0 233.6h.9v.9h-.9zM222.5 235.1h.9v.9h-.9zM224.8 228.7h.9v.9h-.9zM222.9 234.8h.9v.9h-.9zM221.7 235.6h.9v.9h-.9zM222.5 236.0h.9v.9h-.9zM220.0 226.6h.9v.9h-.9zM221.4 232.9h.9v.9h-.9zM223.9 233.1h.9v.9h-.9zM221.9 233.6h.9v.9h-.9zM224.6 231.5h.9v.9h-.9zM222.5 235.5h.9v.9h-.9zM223.4 227.8h.9v.9h-.9zM220.7 235.9h.9v.9h-.9zM222.8 234.1h.9v.9h-.9zM223.5 235.3h.9v.9h-.9zM223.0 227.1h.9v.9h-.9zM218.2 229.3h.9v.9h-.9zM221.9 234.9h.9v.9h-.9zM221.3 234.4h.9v.9h-.9zM222.6 226.5h.9v.9h-.9zM220.3 234.8h.9v.9h-.9zM224.5 228.9h.9v.9h-.9zM221.3 233.6h.9v.9h-.9zM222.8 233.0h.9v.9h-.9zM218.2 231.1h.9v.9h-.9zM221.3 232.8h.9v.9h-.9zM220.2 233.9h.9v.9h-.9zM223.3 233.0h.9v.9h-.9zM219.3 227.2h.9v.9h-.9zM224.6 232.4h.9v.9h-.9zM221.6 234.9h.9v.9h-.9zM221.8 226.8h.9v.9h-.9zM218.7 232.9h.9v.9h-.9zM218.2 230.4h.9v.9h-.9zM219.7 234.1h.9v.9h-.9zM224.9 230.3h.9v.9h-.9zM222.2 236.4h.9v.9h-.9zM221.1 233.0h.9v.9h-.9zM222.1 234.2h.9v.9h-.9zM222.4 235.5h.9v.9h-.9zM221.5 234.2h.9v.9h-.9zM221.2 235.9h.9v.9h-.9zM221.4 235.2h.9v.9h-.9zM220.7 234.7h.9v.9h-.9zM220.1 233.2h.9v.9h-.9zM220.1 233.9h.9v.9h-.9zM222.9 235.4h.9v.9h-.9zM223.6 233.9h.9v.9h-.9zM218.2 231.3h.9v.9h-.9zM219.7 234.2h.9v.9h-.9zM221.6 234.9h.9v.9h-.9zM223.8 231.1h.9v.9h-.9zM223.2 233.6h.9v.9h-.9zM222.5 233.3h.9v.9h-.9zM220.5 233.6h.9v.9h-.9zM222.8 233.9h.9v.9h-.9zM222.8 232.9h.9v.9h-.9zM219.0 226.9h.9v.9h-.9zM224.6 231.5h.9v.9h-.9zM221.8 236.1h.9v.9h-.9zM218.2 229.7h.9v.9h-.9zM222.5 233.5h.9v.9h-.9zM222.9 236.0h.9v.9h-.9zM220.0 234.3h.9v.9h-.9zM223.1 235.6h.9v.9h-.9zM221.7 235.0h.9v.9h-.9zM224.7 231.1h.9v.9h-.9zM220.1 232.8h.9v.9h-.9zM224.2 231.3h.9v.9h-.9zM223.2 232.4h.9v.9h-.9zM221.4 233.9h.9v.9h-.9zM221.3 233.8h.9v.9h-.9zM221.6 237.2h.9v.9h-.9zM220.9 233.9h.9v.9h-.9zM223.4 233.9h.9v.9h-.9zM223.0 235.0h.9v.9h-.9zM221.2 233.1h.9v.9h-.9zM223.3 234.5h.9v.9h-.9zM224.0 232.0h.9v.9h-.9zM220.8 235.2h.9v.9h-.9zM223.1 235.1h.9v.9h-.9zM222.9 233.7h.9v.9h-.9zM224.4 228.1h.9v.9h-.9zM224.0 229.8h.9v.9h-.9zM223.6 232.3h.9v.9h-.9zM222.8 232.9h.9v.9h-.9z" fill="#45a86e" fill-opacity="0.85"/>
<path d="M220.5 228.3h.9v.9h-.9zM223.5 229.5h.9v.9h-.9zM222.7 231.2h.9v.9h-.9zM219.9 231.3h.9v.9h-.9zM223.1 230.8h.9v.9h-.9zM222.5 230.8h.9v.9h-.9zM220.1 228.4h.9v.9h-.9zM219.1 230.7h.9v.9h-.9zM219.7 231.0h.9v.9h-.9zM219.3 231.3h.9v.9h-.9zM221.6 231.6h.9v.9h-.9zM223.6 231.0h.9v.9h-.9zM223.0 229.8h.9v.9h-.9zM223.7 230.1h.9v.9h-.9zM223.0 229.4h.9v.9h-.9zM221.4 227.4h.9v.9h-.9zM221.5 232.0h.9v.9h-.9zM220.7 227.9h.9v.9h-.9zM219.6 230.1h.9v.9h-.9zM221.3 227.1h.9v.9h-.9zM219.8 231.1h.9v.9h-.9zM219.9 230.9h.9v.9h-.9zM223.3 231.3h.9v.9h-.9zM220.4 227.3h.9v.9h-.9zM221.2 231.6h.9v.9h-.9zM223.2 228.5h.9v.9h-.9zM223.9 229.8h.9v.9h-.9zM220.1 227.6h.9v.9h-.9zM221.3 231.3h.9v.9h-.9zM219.9 230.7h.9v.9h-.9zM221.9 231.6h.9v.9h-.9zM222.6 231.4h.9v.9h-.9zM221.2 231.8h.9v.9h-.9zM221.6 232.1h.9v.9h-.9zM221.3 227.1h.9v.9h-.9zM220.2 227.5h.9v.9h-.9zM220.9 227.4h.9v.9h-.9zM218.9 229.4h.9v.9h-.9zM221.6 232.1h.9v.9h-.9zM221.8 227.6h.9v.9h-.9zM222.8 228.2h.9v.9h-.9zM221.7 227.1h.9v.9h-.9zM219.8 228.2h.9v.9h-.9zM219.2 230.5h.9v.9h-.9zM219.3 230.8h.9v.9h-.9zM221.7 228.1h.9v.9h-.9zM223.2 229.6h.9v.9h-.9zM222.0 231.1h.9v.9h-.9zM219.6 227.7h.9v.9h-.9zM220.7 227.6h.9v.9h-.9zM219.0 230.3h.9v.9h-.9zM223.0 229.4h.9v.9h-.9zM219.5 229.6h.9v.9h-.9zM221.3 227.0h.9v.9h-.9zM219.1 228.8h.9v.9h-.9zM223.2 228.5h.9v.9h-.9zM222.9 229.5h.9v.9h-.9zM219.9 231.2h.9v.9h-.9zM219.6 229.5h.9v.9h-.9zM220.0 230.6h.9v.9h-.9zM223.2 231.3h.9v.9h-.9zM221.1 231.6h.9v.9h-.9zM220.2 228.4h.9v.9h-.9zM219.1 228.3h.9v.9h-.9zM220.3 231.3h.9v.9h-.9zM223.3 229.3h.9v.9h-.9zM222.3 231.3h.9v.9h-.9zM221.7 231.2h.9v.9h-.9zM219.7 230.9h.9v.9h-.9zM223.0 228.6h.9v.9h-.9zM222.4 231.4h.9v.9h-.9zM223.7 228.7h.9v.9h-.9zM223.4 228.5h.9v.9h-.9zM218.9 229.8h.9v.9h-.9zM221.3 232.0h.9v.9h-.9zM220.7 227.3h.9v.9h-.9zM222.4 227.4h.9v.9h-.9zM220.4 230.9h.9v.9h-.9zM219.3 230.1h.9v.9h-.9zM219.7 230.5h.9v.9h-.9zM220.2 231.1h.9v.9h-.9zM219.2 231.3h.9v.9h-.9zM219.5 229.3h.9v.9h-.9zM219.6 227.7h.9v.9h-.9zM220.0 228.4h.9v.9h-.9zM221.5 228.1h.9v.9h-.9zM221.8 232.0h.9v.9h-.9zM221.5 231.6h.9v.9h-.9zM221.7 232.0h.9v.9h-.9zM219.2 229.6h.9v.9h-.9zM222.8 230.7h.9v.9h-.9zM220.9 227.4h.9v.9h-.9zM219.8 231.5h.9v.9h-.9zM222.1 231.5h.9v.9h-.9zM223.2 229.0h.9v.9h-.9zM223.3 231.7h.9v.9h-.9zM221.9 231.2h.9v.9h-.9zM222.9 229.4h.9v.9h-.9zM223.9 229.3h.9v.9h-.9zM219.3 229.9h.9v.9h-.9zM222.9 229.5h.9v.9h-.9zM219.4 231.7h.9v.9h-.9zM220.7 227.8h.9v.9h-.9zM222.0 231.6h.9v.9h-.9zM220.0 232.1h.9v.9h-.9zM222.9 230.7h.9v.9h-.9zM222.1 227.7h.9v.9h-.9zM222.7 230.7h.9v.9h-.9zM223.6 230.0h.9v.9h-.9zM223.8 230.7h.9v.9h-.9zM223.1 231.0h.9v.9h-.9zM222.8 229.0h.9v.9h-.9zM220.8 231.4h.9v.9h-.9zM220.0 231.4h.9v.9h-.9zM220.7 228.0h.9v.9h-.9zM222.0 231.8h.9v.9h-.9zM222.2 231.5h.9v.9h-.9zM223.1 231.0h.9v.9h-.9zM218.9 230.5h.9v.9h-.9z" fill="#8cc63c" fill-opacity="0.9"/>
<path d="M221.4 229.0h.9v.9h-.9zM220.1 229.3h.9v.9h-.9zM220.9 228.7h.9v.9h-.9zM220.7 229.7h.9v.9h-.9zM222.5 230.4h.9v.9h-.9zM221.7 231.1h.9v.9h-.9zM220.1 230.4h.9v.9h-.9zM221.2 229.6h.9v.9h-.9zM220.6 229.3h.9v.9h-.9zM222.3 228.5h.9v.9h-.9zM220.7 231.0h.9v.9h-.9zM220.4 230.0h.9v.9h-.9zM221.8 230.1h.9v.9h-.9zM219.7 229.8h.9v.9h-.9zM221.4 229.3h.9v.9h-.9zM220.7 230.5h.9v.9h-.9zM221.1 230.0h.9v.9h-.9zM221.7 231.0h.9v.9h-.9zM220.7 230.5h.9v.9h-.9zM222.6 229.5h.9v.9h-.9zM220.7 230.7h.9v.9h-.9zM221.8 228.4h.9v.9h-.9zM222.2 229.8h.9v.9h-.9zM221.9 229.7h.9v.9h-.9zM221.7 229.2h.9v.9h-.9zM221.2 230.3h.9v.9h-.9zM220.6 228.7h.9v.9h-.9zM220.6 228.5h.9v.9h-.9zM221.3 230.8h.9v.9h-.9zM221.0 229.8h.9v.9h-.9zM222.3 228.6h.9v.9h-.9zM220.5 229.7h.9v.9h-.9zM222.3 229.7h.9v.9h-.9zM220.7 230.6h.9v.9h-.9zM222.1 230.2h.9v.9h-.9zM222.2 228.6h.9v.9h-.9zM219.9 229.1h.9v.9h-.9zM219.9 229.6h.9v.9h-.9zM222.1 229.5h.9v.9h-.9zM222.2 229.2h.9v.9h-.9zM221.2 229.0h.9v.9h-.9zM221.3 230.4h.9v.9h-.9zM221.9 229.7h.9v.9h-.9zM221.7 229.7h.9v.9h-.9zM220.6 230.8h.9v.9h-.9zM220.8 230.9h.9v.9h-.9z" fill="#c8e03a" fill-opacity="1.0"/>
<ellipse cx="305.0" cy="235.5" rx="6.0" ry="8.5" fill="#7c94d0" fill-opacity="0.3" filter="url(#bl)"/>
<ellipse cx="287.0" cy="232.0" rx="9.0" ry="4.0" fill="#b0b8e8" fill-opacity="0.3" filter="url(#bl)"/>
<path d="M312.8 231.2h.9v.9h-.9zM298.1 244.2h.9v.9h-.9zM312.2 248.7h.9v.9h-.9zM314.5 245.4h.9v.9h-.9zM296.4 243.9h.9v.9h-.9zM312.7 239.3h.9v.9h-.9zM294.2 236.6h.9v.9h-.9zM301.4 220.9h.9v.9h-.9zM303.4 223.2h.9v.9h-.9zM298.9 217.3h.9v.9h-.9zM310.6 246.8h.9v.9h-.9zM300.4 224.6h.9v.9h-.9zM302.8 220.5h.9v.9h-.9zM300.1 247.8h.9v.9h-.9zM305.8 223.8h.9v.9h-.9zM301.1 253.1h.9v.9h-.9zM305.1 249.6h.9v.9h-.9zM315.4 247.7h.9v.9h-.9zM299.5 247.3h.9v.9h-.9zM309.0 225.6h.9v.9h-.9zM315.6 230.9h.9v.9h-.9zM300.1 226.1h.9v.9h-.9zM311.4 246.1h.9v.9h-.9zM300.5 221.3h.9v.9h-.9zM310.0 246.4h.9v.9h-.9zM300.3 246.3h.9v.9h-.9zM307.1 250.2h.9v.9h-.9zM310.8 222.2h.9v.9h-.9zM300.7 247.6h.9v.9h-.9zM299.4 224.4h.9v.9h-.9zM315.6 232.5h.9v.9h-.9zM304.8 250.6h.9v.9h-.9zM296.9 239.1h.9v.9h-.9zM314.1 227.6h.9v.9h-.9zM311.5 226.2h.9v.9h-.9zM312.1 245.3h.9v.9h-.9zM311.7 226.6h.9v.9h-.9zM313.8 239.9h.9v.9h-.9zM307.8 250.5h.9v.9h-.9zM297.3 225.5h.9v.9h-.9zM292.4 240.6h.9v.9h-.9zM298.7 255.6h.9v.9h-.9zM294.9 235.5h.9v.9h-.9zM312.4 219.9h.9v.9h-.9zM301.2 225.2h.9v.9h-.9zM304.5 248.8h.9v.9h-.9zM306.7 222.4h.9v.9h-.9zM300.0 225.9h.9v.9h-.9zM302.6 223.6h.9v.9h-.9zM312.4 227.4h.9v.9h-.9zM315.9 241.4h.9v.9h-.9zM293.4 236.6h.9v.9h-.9zM291.2 236.6h.9v.9h-.9zM311.6 246.8h.9v.9h-.9zM296.8 231.6h.9v.9h-.9zM312.5 241.0h.9v.9h-.9zM311.6 245.5h.9v.9h-.9zM296.1 233.8h.9v.9h-.9zM313.1 240.1h.9v.9h-.9zM296.4 247.8h.9v.9h-.9zM301.9 252.3h.9v.9h-.9zM294.7 236.8h.9v.9h-.9zM314.9 252.0h.9v.9h-.9zM300.6 223.3h.9v.9h-.9zM316.0 233.2h.9v.9h-.9zM307.9 219.7h.9v.9h-.9zM302.5 248.1h.9v.9h-.9zM296.6 238.9h.9v.9h-.9zM305.1 248.8h.9v.9h-.9zM317.7 236.7h.9v.9h-.9zM294.8 238.3h.9v.9h-.9zM293.8 234.0h.9v.9h-.9zM297.0 230.9h.9v.9h-.9zM296.5 226.2h.9v.9h-.9zM298.7 227.3h.9v.9h-.9zM298.6 226.2h.9v.9h-.9zM301.7 225.0h.9v.9h-.9zM305.5 249.2h.9v.9h-.9zM299.7 246.6h.9v.9h-.9zM300.1 225.4h.9v.9h-.9zM306.2 222.8h.9v.9h-.9zM297.0 240.7h.9v.9h-.9zM314.7 240.7h.9v.9h-.9zM308.2 222.0h.9v.9h-.9zM312.8 234.6h.9v.9h-.9zM295.7 236.4h.9v.9h-.9zM297.3 238.3h.9v.9h-.9zM301.5 218.5h.9v.9h-.9zM292.9 230.0h.9v.9h-.9zM313.3 247.4h.9v.9h-.9zM295.4 230.4h.9v.9h-.9zM317.3 239.0h.9v.9h-.9zM311.2 248.9h.9v.9h-.9zM296.5 232.3h.9v.9h-.9zM300.3 224.7h.9v.9h-.9zM302.1 220.5h.9v.9h-.9zM299.8 250.2h.9v.9h-.9zM307.9 248.5h.9v.9h-.9zM303.4 220.3h.9v.9h-.9zM299.6 222.6h.9v.9h-.9zM311.0 222.5h.9v.9h-.9zM312.9 231.1h.9v.9h-.9zM308.6 251.0h.9v.9h-.9zM296.0 248.7h.9v.9h-.9zM301.5 220.2h.9v.9h-.9zM295.7 228.3h.9v.9h-.9zM309.9 225.5h.9v.9h-.9zM305.3 255.2h.9v.9h-.9zM310.8 249.4h.9v.9h-.9zM307.6 257.5h.9v.9h-.9zM297.4 243.0h.9v.9h-.9zM294.8 233.5h.9v.9h-.9zM309.0 247.7h.9v.9h-.9zM311.9 246.6h.9v.9h-.9zM296.5 243.2h.9v.9h-.9zM311.1 247.5h.9v.9h-.9zM302.0 222.3h.9v.9h-.9zM296.5 234.5h.9v.9h-.9zM296.3 233.5h.9v.9h-.9zM296.7 230.7h.9v.9h-.9zM297.6 242.0h.9v.9h-.9zM300.2 223.5h.9v.9h-.9zM313.9 238.9h.9v.9h-.9zM290.1 228.0h.9v.9h-.9zM295.8 233.7h.9v.9h-.9zM289.5 230.2h.9v.9h-.9zM291.4 227.6h.9v.9h-.9zM286.7 226.6h.9v.9h-.9zM278.6 231.4h.9v.9h-.9zM288.1 235.0h.9v.9h-.9zM290.3 233.3h.9v.9h-.9zM291.0 229.0h.9v.9h-.9zM292.1 227.2h.9v.9h-.9zM296.9 231.6h.9v.9h-.9zM286.3 232.4h.9v.9h-.9zM286.4 228.2h.9v.9h-.9zM290.2 237.0h.9v.9h-.9zM289.3 235.6h.9v.9h-.9zM285.4 236.8h.9v.9h-.9zM296.1 233.6h.9v.9h-.9zM279.3 236.0h.9v.9h-.9zM288.8 229.7h.9v.9h-.9zM293.9 231.2h.9v.9h-.9zM294.2 231.0h.9v.9h-.9zM281.0 236.5h.9v.9h-.9zM281.9 230.4h.9v.9h-.9zM282.1 226.7h.9v.9h-.9zM287.5 229.2h.9v.9h-.9zM279.7 234.8h.9v.9h-.9zM288.8 231.4h.9v.9h-.9zM280.6 228.6h.9v.9h-.9zM292.4 231.6h.9v.9h-.9zM285.4 228.5h.9v.9h-.9zM295.6 230.0h.9v.9h-.9zM281.8 232.4h.9v.9h-.9zM290.3 232.9h.9v.9h-.9zM282.9 229.7h.9v.9h-.9zM284.5 226.6h.9v.9h-.9zM287.1 232.0h.9v.9h-.9zM287.5 235.9h.9v.9h-.9zM283.6 232.6h.9v.9h-.9zM293.9 233.2h.9v.9h-.9zM280.7 237.0h.9v.9h-.9zM281.2 226.6h.9v.9h-.9zM289.4 228.1h.9v.9h-.9zM284.3 227.1h.9v.9h-.9zM293.7 226.6h.9v.9h-.9zM284.0 237.4h.9v.9h-.9zM280.1 232.8h.9v.9h-.9zM290.2 228.7h.9v.9h-.9zM290.0 227.2h.9v.9h-.9zM294.2 235.0h.9v.9h-.9zM291.4 226.6h.9v.9h-.9zM284.1 227.1h.9v.9h-.9zM297.1 226.6h.9v.9h-.9zM292.9 236.6h.9v.9h-.9zM296.1 227.6h.9v.9h-.9zM295.1 226.9h.9v.9h-.9zM286.2 233.4h.9v.9h-.9zM286.4 227.6h.9v.9h-.9zM289.8 229.0h.9v.9h-.9zM294.4 234.6h.9v.9h-.9zM279.2 234.6h.9v.9h-.9zM281.8 227.5h.9v.9h-.9zM297.3 236.6h.9v.9h-.9zM289.0 235.6h.9v.9h-.9zM289.4 227.8h.9v.9h-.9zM287.8 232.2h.9v.9h-.9zM279.8 228.4h.9v.9h-.9zM292.8 232.0h.9v.9h-.9zM279.0 227.0h.9v.9h-.9zM297.1 227.0h.9v.9h-.9zM295.2 233.3h.9v.9h-.9zM283.4 227.9h.9v.9h-.9zM285.2 227.0h.9v.9h-.9zM281.3 237.4h.9v.9h-.9zM287.5 234.9h.9v.9h-.9zM293.5 227.5h.9v.9h-.9zM292.5 234.4h.9v.9h-.9zM279.2 228.6h.9v.9h-.9zM285.3 230.9h.9v.9h-.9zM288.7 229.7h.9v.9h-.9zM295.5 237.2h.9v.9h-.9zM287.0 235.6h.9v.9h-.9zM282.3 236.0h.9v.9h-.9zM278.5 233.1h.9v.9h-.9zM289.3 232.6h.9v.9h-.9zM283.5 232.1h.9v.9h-.9zM286.7 227.6h.9v.9h-.9zM286.3 232.3h.9v.9h-.9zM297.3 235.4h.9v.9h-.9zM291.5 229.8h.9v.9h-.9zM291.5 227.6h.9v.9h-.9zM284.9 234.6h.9v.9h-.9zM284.0 226.7h.9v.9h-.9zM278.6 226.6h.9v.9h-.9zM292.0 226.7h.9v.9h-.9zM293.9 229.6h.9v.9h-.9zM287.8 228.8h.9v.9h-.9zM292.5 233.2h.9v.9h-.9zM290.6 230.8h.9v.9h-.9zM282.9 230.8h.9v.9h-.9zM286.4 230.3h.9v.9h-.9zM297.0 230.8h.9v.9h-.9zM293.9 229.9h.9v.9h-.9zM286.1 235.4h.9v.9h-.9zM282.4 233.8h.9v.9h-.9zM292.0 227.7h.9v.9h-.9zM281.1 235.4h.9v.9h-.9zM295.6 229.7h.9v.9h-.9zM281.3 227.4h.9v.9h-.9zM288.8 227.6h.9v.9h-.9zM278.7 232.1h.9v.9h-.9zM311.6 239.7h.9v.9h-.9zM312.4 239.6h.9v.9h-.9zM300.0 240.0h.9v.9h-.9zM304.5 241.3h.9v.9h-.9zM304.8 240.6h.9v.9h-.9zM305.3 246.5h.9v.9h-.9zM302.8 240.5h.9v.9h-.9zM308.6 246.5h.9v.9h-.9zM309.3 251.5h.9v.9h-.9zM302.5 244.7h.9v.9h-.9zM306.5 242.5h.9v.9h-.9zM304.2 242.7h.9v.9h-.9zM303.2 242.7h.9v.9h-.9zM309.9 245.3h.9v.9h-.9zM311.8 249.7h.9v.9h-.9zM301.9 240.8h.9v.9h-.9zM305.5 249.8h.9v.9h-.9zM298.8 242.0h.9v.9h-.9zM304.9 239.8h.9v.9h-.9zM311.3 248.9h.9v.9h-.9zM302.0 247.8h.9v.9h-.9zM300.1 239.9h.9v.9h-.9zM307.4 241.6h.9v.9h-.9zM302.9 248.2h.9v.9h-.9zM309.4 245.4h.9v.9h-.9zM311.3 241.5h.9v.9h-.9zM311.0 248.3h.9v.9h-.9zM306.2 240.9h.9v.9h-.9zM304.3 247.6h.9v.9h-.9zM312.4 241.4h.9v.9h-.9zM307.6 249.8h.9v.9h-.9zM312.5 240.2h.9v.9h-.9zM304.7 240.3h.9v.9h-.9zM309.7 247.5h.9v.9h-.9zM312.5 242.5h.9v.9h-.9zM308.7 239.6h.9v.9h-.9zM300.3 243.1h.9v.9h-.9zM305.7 243.6h.9v.9h-.9zM306.2 244.4h.9v.9h-.9zM307.8 239.6h.9v.9h-.9zM310.1 239.6h.9v.9h-.9zM296.8 244.8h.9v.9h-.9zM296.6 247.0h.9v.9h-.9zM303.0 244.1h.9v.9h-.9zM311.9 245.6h.9v.9h-.9zM309.6 240.5h.9v.9h-.9zM303.7 242.2h.9v.9h-.9zM300.3 242.8h.9v.9h-.9zM302.7 242.1h.9v.9h-.9zM296.9 243.6h.9v.9h-.9zM302.9 240.8h.9v.9h-.9zM311.1 246.1h.9v.9h-.9zM300.5 249.2h.9v.9h-.9zM310.1 239.7h.9v.9h-.9zM297.9 239.7h.9v.9h-.9zM312.1 246.7h.9v.9h-.9zM305.9 245.3h.9v.9h-.9zM313.1 243.7h.9v.9h-.9zM297.2 240.5h.9v.9h-.9zM300.7 245.0h.9v.9h-.9zM301.2 245.4h.9v.9h-.9zM297.4 247.3h.9v.9h-.9zM298.8 240.2h.9v.9h-.9zM309.4 239.6h.9v.9h-.9zM298.3 244.8h.9v.9h-.9zM311.1 239.6h.9v.9h-.9zM298.9 245.0h.9v.9h-.9zM301.6 247.8h.9v.9h-.9zM302.0 241.1h.9v.9h-.9zM307.7 239.6h.9v.9h-.9z" fill="#7d86d2" fill-opacity="0.6"/>
<path d="M303.3 226.0h.9v.9h-.9zM298.0 231.2h.9v.9h-.9zM309.5 226.4h.9v.9h-.9zM301.5 226.6h.9v.9h-.9zM299.0 230.4h.9v.9h-.9zM299.3 232.2h.9v.9h-.9zM301.9 226.8h.9v.9h-.9zM305.9 224.8h.9v.9h-.9zM299.8 229.2h.9v.9h-.9zM299.4 229.5h.9v.9h-.9zM300.4 227.2h.9v.9h-.9zM299.2 231.1h.9v.9h-.9zM298.8 243.3h.9v.9h-.9zM307.1 246.6h.9v.9h-.9zM309.5 245.8h.9v.9h-.9zM310.8 238.1h.9v.9h-.9zM308.7 243.7h.9v.9h-.9zM297.7 234.9h.9v.9h-.9zM311.0 241.4h.9v.9h-.9zM301.4 226.0h.9v.9h-.9zM304.5 246.9h.9v.9h-.9zM304.2 244.5h.9v.9h-.9zM312.4 236.6h.9v.9h-.9zM301.2 243.3h.9v.9h-.9zM307.5 244.1h.9v.9h-.9zM301.4 245.5h.9v.9h-.9zM303.4 248.1h.9v.9h-.9zM307.0 244.6h.9v.9h-.9zM298.8 238.3h.9v.9h-.9zM309.2 242.8h.9v.9h-.9zM307.1 226.3h.9v.9h-.9zM309.0 245.5h.9v.9h-.9zM311.3 240.8h.9v.9h-.9zM303.6 244.6h.9v.9h-.9zM310.2 241.7h.9v.9h-.9zM303.2 246.1h.9v.9h-.9zM301.6 243.3h.9v.9h-.9zM300.7 240.5h.9v.9h-.9zM311.9 231.3h.9v.9h-.9zM300.0 237.1h.9v.9h-.9zM306.5 244.6h.9v.9h-.9zM309.7 241.1h.9v.9h-.9zM307.1 247.1h.9v.9h-.9zM302.5 243.6h.9v.9h-.9zM299.9 240.7h.9v.9h-.9zM299.1 243.3h.9v.9h-.9zM299.4 237.7h.9v.9h-.9zM300.3 244.9h.9v.9h-.9zM298.3 242.0h.9v.9h-.9zM309.4 227.9h.9v.9h-.9zM300.1 237.5h.9v.9h-.9zM305.5 247.9h.9v.9h-.9zM306.4 244.5h.9v.9h-.9zM299.0 239.8h.9v.9h-.9zM297.7 237.6h.9v.9h-.9zM310.1 241.1h.9v.9h-.9zM306.5 244.8h.9v.9h-.9zM299.4 231.3h.9v.9h-.9zM310.5 239.7h.9v.9h-.9zM310.6 231.6h.9v.9h-.9zM298.5 238.6h.9v.9h-.9zM299.9 241.4h.9v.9h-.9zM310.6 229.2h.9v.9h-.9zM301.0 227.7h.9v.9h-.9zM309.4 241.2h.9v.9h-.9zM299.4 231.9h.9v.9h-.9zM307.2 243.5h.9v.9h-.9zM305.1 246.3h.9v.9h-.9zM312.5 238.6h.9v.9h-.9zM308.9 244.2h.9v.9h-.9zM311.2 233.1h.9v.9h-.9zM311.1 236.3h.9v.9h-.9zM306.2 244.6h.9v.9h-.9zM300.5 240.7h.9v.9h-.9zM311.5 236.0h.9v.9h-.9zM301.7 242.0h.9v.9h-.9zM298.5 237.7h.9v.9h-.9zM308.5 243.9h.9v.9h-.9zM301.8 243.6h.9v.9h-.9zM306.3 244.0h.9v.9h-.9zM309.1 242.7h.9v.9h-.9zM300.2 243.6h.9v.9h-.9zM310.4 237.2h.9v.9h-.9zM299.9 237.6h.9v.9h-.9zM304.9 248.5h.9v.9h-.9zM301.0 227.5h.9v.9h-.9zM299.7 244.7h.9v.9h-.9zM303.1 243.6h.9v.9h-.9zM299.1 238.9h.9v.9h-.9zM312.7 237.0h.9v.9h-.9zM310.8 237.4h.9v.9h-.9zM300.5 242.1h.9v.9h-.9zM301.5 244.1h.9v.9h-.9zM298.1 236.4h.9v.9h-.9zM310.5 239.0h.9v.9h-.9zM311.1 243.6h.9v.9h-.9zM303.1 244.6h.9v.9h-.9zM310.5 242.7h.9v.9h-.9zM308.7 244.8h.9v.9h-.9zM301.0 240.9h.9v.9h-.9zM307.8 227.5h.9v.9h-.9zM306.7 247.0h.9v.9h-.9zM304.3 247.7h.9v.9h-.9zM311.3 232.1h.9v.9h-.9zM300.9 241.0h.9v.9h-.9zM306.5 244.8h.9v.9h-.9zM297.8 239.5h.9v.9h-.9zM299.0 240.9h.9v.9h-.9zM307.4 245.7h.9v.9h-.9zM310.3 241.1h.9v.9h-.9zM297.4 237.7h.9v.9h-.9zM298.6 229.4h.9v.9h-.9zM306.1 245.1h.9v.9h-.9zM309.6 244.3h.9v.9h-.9zM303.9 245.5h.9v.9h-.9zM306.8 246.3h.9v.9h-.9zM309.1 242.0h.9v.9h-.9zM312.1 231.6h.9v.9h-.9zM311.2 239.8h.9v.9h-.9zM308.2 245.7h.9v.9h-.9zM300.4 242.1h.9v.9h-.9zM311.9 240.0h.9v.9h-.9zM311.5 241.4h.9v.9h-.9zM301.4 245.4h.9v.9h-.9zM309.4 241.5h.9v.9h-.9zM300.1 239.4h.9v.9h-.9zM300.5 228.1h.9v.9h-.9zM300.1 239.4h.9v.9h-.9zM307.5 243.3h.9v.9h-.9zM297.8 230.3h.9v.9h-.9zM300.7 242.0h.9v.9h-.9zM312.4 232.5h.9v.9h-.9zM309.3 242.1h.9v.9h-.9zM310.6 228.1h.9v.9h-.9zM308.8 244.0h.9v.9h-.9zM306.3 224.5h.9v.9h-.9zM306.7 247.0h.9v.9h-.9zM310.9 243.0h.9v.9h-.9zM312.2 234.0h.9v.9h-.9zM309.3 246.5h.9v.9h-.9zM312.2 239.4h.9v.9h-.9zM303.6 244.5h.9v.9h-.9zM297.9 233.0h.9v.9h-.9zM300.6 245.6h.9v.9h-.9zM307.5 246.2h.9v.9h-.9zM299.8 244.2h.9v.9h-.9zM310.2 227.9h.9v.9h-.9zM308.3 227.0h.9v.9h-.9zM302.7 246.6h.9v.9h-.9zM301.0 241.2h.9v.9h-.9zM308.6 228.3h.9v.9h-.9zM311.5 234.5h.9v.9h-.9zM308.0 244.2h.9v.9h-.9zM303.0 243.8h.9v.9h-.9zM308.7 241.9h.9v.9h-.9zM299.7 237.7h.9v.9h-.9z" fill="#5a7fc8" fill-opacity="0.7"/>
<path d="M302.5 227.1h.9v.9h-.9zM305.9 227.3h.9v.9h-.9zM306.2 227.8h.9v.9h-.9zM308.4 229.8h.9v.9h-.9zM300.3 231.4h.9v.9h-.9zM306.2 227.5h.9v.9h-.9zM300.6 229.8h.9v.9h-.9zM305.9 227.1h.9v.9h-.9zM300.2 233.3h.9v.9h-.9zM307.6 228.4h.9v.9h-.9zM308.5 235.5h.9v.9h-.9zM301.3 228.9h.9v.9h-.9zM301.3 234.2h.9v.9h-.9zM307.7 229.1h.9v.9h-.9zM302.1 235.2h.9v.9h-.9zM301.0 228.2h.9v.9h-.9zM302.5 236.4h.9v.9h-.9zM303.3 226.7h.9v.9h-.9zM308.7 231.0h.9v.9h-.9zM306.3 228.0h.9v.9h-.9zM301.6 235.6h.9v.9h-.9zM308.4 230.9h.9v.9h-.9zM308.7 231.9h.9v.9h-.9zM299.8 230.5h.9v.9h-.9zM307.7 229.2h.9v.9h-.9zM308.6 233.9h.9v.9h-.9zM308.4 229.4h.9v.9h-.9zM300.2 230.8h.9v.9h-.9zM300.6 233.1h.9v.9h-.9zM300.7 229.6h.9v.9h-.9zM302.4 236.5h.9v.9h-.9zM302.3 228.1h.9v.9h-.9zM303.0 227.3h.9v.9h-.9zM300.2 229.8h.9v.9h-.9zM308.6 231.5h.9v.9h-.9zM300.7 233.5h.9v.9h-.9zM300.5 230.2h.9v.9h-.9zM303.7 227.5h.9v.9h-.9zM309.7 233.5h.9v.9h-.9zM306.8 227.7h.9v.9h-.9zM305.2 239.7h.9v.9h-.9zM303.0 237.2h.9v.9h-.9zM302.4 235.9h.9v.9h-.9zM307.0 240.3h.9v.9h-.9zM302.5 236.2h.9v.9h-.9zM303.4 243.2h.9v.9h-.9zM302.2 238.2h.9v.9h-.9zM302.2 237.6h.9v.9h-.9zM307.0 228.3h.9v.9h-.9zM305.3 243.5h.9v.9h-.9zM303.5 237.4h.9v.9h-.9zM308.5 231.5h.9v.9h-.9zM309.0 230.3h.9v.9h-.9zM307.4 235.4h.9v.9h-.9zM299.5 231.6h.9v.9h-.9zM302.6 238.7h.9v.9h-.9zM304.1 237.9h.9v.9h-.9zM303.6 237.7h.9v.9h-.9zM306.9 241.6h.9v.9h-.9zM305.8 226.9h.9v.9h-.9zM302.2 236.1h.9v.9h-.9zM307.8 238.1h.9v.9h-.9zM305.2 239.6h.9v.9h-.9zM309.1 239.2h.9v.9h-.9zM307.3 239.3h.9v.9h-.9zM303.8 240.0h.9v.9h-.9zM302.9 239.1h.9v.9h-.9zM302.9 236.2h.9v.9h-.9zM300.7 237.9h.9v.9h-.9zM301.8 240.2h.9v.9h-.9zM302.8 238.7h.9v.9h-.9zM300.7 230.4h.9v.9h-.9zM301.3 238.9h.9v.9h-.9zM306.3 241.5h.9v.9h-.9zM302.6 240.3h.9v.9h-.9zM304.8 240.7h.9v.9h-.9zM304.3 239.1h.9v.9h-.9zM306.9 240.3h.9v.9h-.9zM304.9 242.0h.9v.9h-.9zM301.2 237.9h.9v.9h-.9zM304.9 240.6h.9v.9h-.9zM305.2 239.0h.9v.9h-.9zM302.8 238.6h.9v.9h-.9zM303.5 237.7h.9v.9h-.9zM301.7 238.3h.9v.9h-.9zM309.4 231.4h.9v.9h-.9zM308.0 229.0h.9v.9h-.9zM308.6 230.8h.9v.9h-.9zM301.9 239.4h.9v.9h-.9zM304.8 240.3h.9v.9h-.9zM309.8 232.7h.9v.9h-.9zM307.5 238.8h.9v.9h-.9zM303.9 243.2h.9v.9h-.9zM309.0 234.5h.9v.9h-.9zM309.0 239.7h.9v.9h-.9zM301.7 234.8h.9v.9h-.9zM309.7 237.5h.9v.9h-.9zM309.3 232.6h.9v.9h-.9zM304.1 241.8h.9v.9h-.9zM308.4 240.3h.9v.9h-.9zM308.9 231.3h.9v.9h-.9zM306.3 238.9h.9v.9h-.9zM308.3 234.9h.9v.9h-.9zM303.3 240.1h.9v.9h-.9zM307.4 238.4h.9v.9h-.9zM301.9 237.5h.9v.9h-.9zM302.9 227.3h.9v.9h-.9zM301.0 228.5h.9v.9h-.9zM308.0 234.8h.9v.9h-.9zM302.5 236.1h.9v.9h-.9zM302.1 240.5h.9v.9h-.9zM300.9 238.1h.9v.9h-.9zM305.6 240.4h.9v.9h-.9zM304.0 239.1h.9v.9h-.9zM299.9 233.3h.9v.9h-.9zM301.1 236.1h.9v.9h-.9zM302.6 239.7h.9v.9h-.9zM303.9 239.9h.9v.9h-.9zM301.3 240.2h.9v.9h-.9zM307.9 237.9h.9v.9h-.9zM305.3 243.6h.9v.9h-.9zM308.3 230.7h.9v.9h-.9zM301.9 228.3h.9v.9h-.9zM304.2 239.7h.9v.9h-.9zM304.0 240.3h.9v.9h-.9zM300.4 235.1h.9v.9h-.9zM301.9 240.5h.9v.9h-.9zM299.9 233.0h.9v.9h-.9zM305.2 238.5h.9v.9h-.9zM309.5 234.7h.9v.9h-.9zM300.8 238.3h.9v.9h-.9zM304.9 238.1h.9v.9h-.9zM308.6 236.0h.9v.9h-.9zM304.0 239.4h.9v.9h-.9zM305.6 240.5h.9v.9h-.9zM300.5 233.6h.9v.9h-.9zM303.3 243.1h.9v.9h-.9zM306.5 238.4h.9v.9h-.9zM308.1 238.1h.9v.9h-.9zM307.7 239.3h.9v.9h-.9zM307.3 235.5h.9v.9h-.9zM308.4 233.5h.9v.9h-.9zM309.5 238.9h.9v.9h-.9zM305.0 244.0h.9v.9h-.9zM305.4 241.8h.9v.9h-.9zM301.7 236.9h.9v.9h-.9zM306.3 238.2h.9v.9h-.9zM305.5 240.1h.9v.9h-.9zM308.4 235.5h.9v.9h-.9zM302.5 236.3h.9v.9h-.9zM307.1 240.5h.9v.9h-.9zM309.8 236.4h.9v.9h-.9zM303.8 239.4h.9v.9h-.9zM304.2 226.8h.9v.9h-.9zM304.7 240.4h.9v.9h-.9zM306.1 242.9h.9v.9h-.9zM299.5 232.5h.9v.9h-.9zM307.8 237.3h.9v.9h-.9zM302.0 241.7h.9v.9h-.9zM306.9 239.9h.9v.9h-.9zM304.2 239.0h.9v.9h-.9zM305.8 241.4h.9v.9h-.9zM300.5 231.6h.9v.9h-.9zM302.8 242.5h.9v.9h-.9zM304.2 242.3h.9v.9h-.9zM308.3 238.3h.9v.9h-.9zM309.5 231.5h.9v.9h-.9zM303.6 240.5h.9v.9h-.9zM308.3 228.5h.9v.9h-.9zM306.3 237.6h.9v.9h-.9zM301.2 229.1h.9v.9h-.9zM301.0 235.8h.9v.9h-.9zM308.3 241.2h.9v.9h-.9zM304.6 242.7h.9v.9h-.9zM308.7 232.1h.9v.9h-.9zM305.5 241.7h.9v.9h-.9zM301.6 239.6h.9v.9h-.9zM302.2 237.0h.9v.9h-.9zM305.3 242.3h.9v.9h-.9zM305.1 238.7h.9v.9h-.9zM306.1 238.2h.9v.9h-.9zM309.3 232.5h.9v.9h-.9zM307.0 237.0h.9v.9h-.9zM301.0 237.2h.9v.9h-.9zM303.2 238.6h.9v.9h-.9zM308.5 236.7h.9v.9h-.9zM304.8 226.8h.9v.9h-.9zM309.3 238.9h.9v.9h-.9zM300.6 237.8h.9v.9h-.9zM307.9 234.6h.9v.9h-.9zM301.4 228.3h.9v.9h-.9zM301.6 240.7h.9v.9h-.9zM301.1 236.1h.9v.9h-.9zM300.9 233.4h.9v.9h-.9zM300.8 235.2h.9v.9h-.9zM309.0 231.9h.9v.9h-.9zM302.6 236.8h.9v.9h-.9zM309.8 235.2h.9v.9h-.9zM303.6 242.9h.9v.9h-.9zM302.5 242.4h.9v.9h-.9zM308.4 234.6h.9v.9h-.9zM302.9 240.8h.9v.9h-.9zM303.7 237.6h.9v.9h-.9zM307.0 227.5h.9v.9h-.9zM309.4 238.8h.9v.9h-.9zM302.2 239.0h.9v.9h-.9zM308.9 240.9h.9v.9h-.9zM302.3 241.9h.9v.9h-.9zM303.0 239.8h.9v.9h-.9zM302.5 242.0h.9v.9h-.9zM302.0 238.2h.9v.9h-.9zM304.9 240.4h.9v.9h-.9zM300.8 237.6h.9v.9h-.9zM305.6 240.4h.9v.9h-.9zM306.1 238.8h.9v.9h-.9zM301.4 235.0h.9v.9h-.9zM302.9 242.3h.9v.9h-.9zM308.2 233.3h.9v.9h-.9zM301.2 236.2h.9v.9h-.9zM301.9 238.5h.9v.9h-.9zM306.5 239.6h.9v.9h-.9zM307.8 239.2h.9v.9h-.9zM308.8 235.4h.9v.9h-.9z" fill="#3f93b0" fill-opacity="0.8"/>
<path d="M304.1 234.4h.9v.9h-.9zM306.1 228.5h.9v.9h-.9zM307.3 234.6h.9v.9h-.9zM304.2 235.3h.9v.9h-.9zM308.0 230.7h.9v.9h-.9zM306.7 233.5h.9v.9h-.9zM307.5 232.5h.9v.9h-.9zM305.7 235.2h.9v.9h-.9zM301.7 233.5h.9v.9h-.9zM301.5 229.6h.9v.9h-.9zM301.9 233.8h.9v.9h-.9zM306.2 233.9h.9v.9h-.9zM307.5 232.4h.9v.9h-.9zM301.5 230.1h.9v.9h-.9zM301.6 230.8h.9v.9h-.9zM304.2 234.4h.9v.9h-.9zM307.8 233.0h.9v.9h-.9zM301.3 231.4h.9v.9h-.9zM307.3 233.9h.9v.9h-.9zM301.9 234.3h.9v.9h-.9zM305.2 234.5h.9v.9h-.9zM301.4 232.1h.9v.9h-.9zM305.5 228.5h.9v.9h-.9zM301.4 232.5h.9v.9h-.9zM303.3 234.7h.9v.9h-.9zM303.9 234.9h.9v.9h-.9zM304.4 235.3h.9v.9h-.9zM306.5 229.3h.9v.9h-.9zM305.2 234.6h.9v.9h-.9zM302.8 229.2h.9v.9h-.9zM301.1 231.3h.9v.9h-.9zM303.6 228.8h.9v.9h-.9zM306.1 228.1h.9v.9h-.9zM303.7 227.8h.9v.9h-.9zM306.9 233.7h.9v.9h-.9zM302.3 228.7h.9v.9h-.9zM305.5 228.7h.9v.9h-.9zM305.8 236.0h.9v.9h-.9zM308.0 231.4h.9v.9h-.9zM307.5 232.1h.9v.9h-.9zM301.5 230.7h.9v.9h-.9zM303.6 234.5h.9v.9h-.9zM307.2 232.9h.9v.9h-.9zM306.9 234.7h.9v.9h-.9zM303.5 228.3h.9v.9h-.9zM301.0 232.7h.9v.9h-.9zM307.8 233.4h.9v.9h-.9zM305.4 228.9h.9v.9h-.9zM307.3 231.1h.9v.9h-.9zM301.8 233.8h.9v.9h-.9zM304.2 228.2h.9v.9h-.9zM305.3 228.2h.9v.9h-.9zM304.7 228.5h.9v.9h-.9zM301.8 229.5h.9v.9h-.9zM304.9 228.7h.9v.9h-.9zM306.7 229.3h.9v.9h-.9zM303.7 235.6h.9v.9h-.9zM304.5 228.2h.9v.9h-.9zM304.0 237.4h.9v.9h-.9zM304.1 227.7h.9v.9h-.9zM301.1 232.9h.9v.9h-.9zM303.6 236.4h.9v.9h-.9zM308.3 231.3h.9v.9h-.9zM304.9 235.4h.9v.9h-.9zM301.8 234.4h.9v.9h-.9zM302.5 233.6h.9v.9h-.9zM303.7 235.7h.9v.9h-.9zM303.7 228.3h.9v.9h-.9zM301.2 233.3h.9v.9h-.9zM306.6 234.6h.9v.9h-.9zM303.6 235.4h.9v.9h-.9zM304.8 235.7h.9v.9h-.9zM305.9 236.1h.9v.9h-.9zM307.0 234.7h.9v.9h-.9zM306.4 236.0h.9v.9h-.9zM304.6 235.8h.9v.9h-.9zM308.3 231.6h.9v.9h-.9zM303.5 236.9h.9v.9h-.9zM306.9 235.5h.9v.9h-.9zM306.3 234.2h.9v.9h-.9zM307.5 231.2h.9v.9h-.9zM308.0 231.1h.9v.9h-.9zM304.2 235.7h.9v.9h-.9zM304.3 237.2h.9v.9h-.9zM305.4 235.5h.9v.9h-.9zM304.3 234.9h.9v.9h-.9zM305.4 236.4h.9v.9h-.9zM304.5 228.0h.9v.9h-.9zM303.8 236.2h.9v.9h-.9zM301.2 229.8h.9v.9h-.9zM301.6 234.4h.9v.9h-.9zM306.7 235.0h.9v.9h-.9zM305.9 235.9h.9v.9h-.9zM301.9 233.5h.9v.9h-.9zM306.4 233.5h.9v.9h-.9zM304.3 234.5h.9v.9h-.9zM302.3 235.0h.9v.9h-.9zM303.0 234.0h.9v.9h-.9zM305.6 235.9h.9v.9h-.9zM306.3 235.9h.9v.9h-.9zM306.6 234.5h.9v.9h-.9zM308.2 231.4h.9v.9h-.9zM302.1 234.1h.9v.9h-.9zM304.4 236.0h.9v.9h-.9zM307.0 235.2h.9v.9h-.9zM302.3 235.3h.9v.9h-.9zM307.2 235.2h.9v.9h-.9zM303.8 236.1h.9v.9h-.9zM301.6 234.3h.9v.9h-.9zM307.3 234.6h.9v.9h-.9zM307.1 229.9h.9v.9h-.9zM301.9 233.7h.9v.9h-.9zM300.9 231.9h.9v.9h-.9zM304.1 235.7h.9v.9h-.9zM302.6 235.6h.9v.9h-.9zM307.9 232.1h.9v.9h-.9zM301.4 233.5h.9v.9h-.9zM308.2 232.6h.9v.9h-.9zM304.3 237.2h.9v.9h-.9zM307.3 235.1h.9v.9h-.9zM304.5 237.7h.9v.9h-.9zM302.8 228.6h.9v.9h-.9zM303.8 235.2h.9v.9h-.9zM304.5 228.3h.9v.9h-.9zM305.5 228.8h.9v.9h-.9zM305.0 228.3h.9v.9h-.9zM303.4 234.1h.9v.9h-.9zM308.0 230.0h.9v.9h-.9zM304.4 234.9h.9v.9h-.9zM304.3 237.1h.9v.9h-.9zM305.3 236.3h.9v.9h-.9zM307.2 232.5h.9v.9h-.9zM307.2 231.1h.9v.9h-.9zM305.9 234.4h.9v.9h-.9zM301.9 232.7h.9v.9h-.9zM303.0 229.0h.9v.9h-.9zM306.9 234.0h.9v.9h-.9zM308.3 231.8h.9v.9h-.9zM302.2 233.9h.9v.9h-.9z" fill="#45a86e" fill-opacity="0.85"/>
<path d="M302.7 230.8h.9v.9h-.9zM303.6 233.3h.9v.9h-.9zM306.3 231.2h.9v.9h-.9zM302.0 230.1h.9v.9h-.9zM302.7 232.8h.9v.9h-.9zM305.2 233.6h.9v.9h-.9zM304.3 233.5h.9v.9h-.9zM302.5 229.7h.9v.9h-.9zM306.2 232.9h.9v.9h-.9zM305.1 233.0h.9v.9h-.9zM306.6 230.4h.9v.9h-.9zM303.4 230.1h.9v.9h-.9zM305.1 234.0h.9v.9h-.9zM303.3 232.6h.9v.9h-.9zM306.9 231.6h.9v.9h-.9zM305.8 232.3h.9v.9h-.9zM304.0 234.0h.9v.9h-.9zM306.7 232.2h.9v.9h-.9zM306.5 231.1h.9v.9h-.9zM303.4 229.4h.9v.9h-.9zM307.1 231.6h.9v.9h-.9zM305.4 229.7h.9v.9h-.9zM302.4 230.0h.9v.9h-.9zM304.4 232.9h.9v.9h-.9zM305.0 233.0h.9v.9h-.9zM306.7 231.6h.9v.9h-.9zM304.6 229.6h.9v.9h-.9zM303.4 232.6h.9v.9h-.9zM305.1 229.7h.9v.9h-.9zM303.6 233.1h.9v.9h-.9zM302.7 232.9h.9v.9h-.9zM307.2 231.8h.9v.9h-.9zM306.2 231.1h.9v.9h-.9zM302.1 231.3h.9v.9h-.9zM306.3 233.1h.9v.9h-.9zM305.9 232.2h.9v.9h-.9zM307.1 231.0h.9v.9h-.9zM306.2 231.4h.9v.9h-.9zM305.9 229.2h.9v.9h-.9zM302.5 231.2h.9v.9h-.9zM302.8 230.7h.9v.9h-.9zM302.4 232.8h.9v.9h-.9zM305.5 233.7h.9v.9h-.9zM302.6 230.1h.9v.9h-.9zM307.0 231.9h.9v.9h-.9zM306.0 230.3h.9v.9h-.9zM304.5 233.8h.9v.9h-.9zM307.0 231.2h.9v.9h-.9zM304.5 229.0h.9v.9h-.9zM302.8 230.1h.9v.9h-.9zM306.0 229.5h.9v.9h-.9zM302.1 230.1h.9v.9h-.9zM306.7 230.1h.9v.9h-.9zM306.4 230.5h.9v.9h-.9zM303.4 229.1h.9v.9h-.9zM306.8 232.2h.9v.9h-.9zM302.0 231.8h.9v.9h-.9zM305.6 232.6h.9v.9h-.9zM306.5 231.9h.9v.9h-.9zM306.0 231.5h.9v.9h-.9zM304.6 229.7h.9v.9h-.9zM303.7 228.8h.9v.9h-.9zM302.8 231.8h.9v.9h-.9zM303.7 233.9h.9v.9h-.9zM306.1 230.7h.9v.9h-.9zM305.0 229.6h.9v.9h-.9zM304.6 233.0h.9v.9h-.9zM302.6 229.6h.9v.9h-.9zM303.0 233.0h.9v.9h-.9zM303.6 233.8h.9v.9h-.9zM302.9 230.6h.9v.9h-.9zM304.5 233.4h.9v.9h-.9zM306.5 231.6h.9v.9h-.9zM304.8 229.4h.9v.9h-.9zM306.5 233.4h.9v.9h-.9zM305.6 229.7h.9v.9h-.9zM303.6 229.8h.9v.9h-.9zM302.6 230.0h.9v.9h-.9zM304.8 234.2h.9v.9h-.9zM303.3 233.5h.9v.9h-.9zM302.7 233.2h.9v.9h-.9zM305.1 233.5h.9v.9h-.9zM304.0 229.4h.9v.9h-.9zM302.9 233.7h.9v.9h-.9zM304.9 229.7h.9v.9h-.9zM304.6 233.3h.9v.9h-.9zM304.5 229.6h.9v.9h-.9zM303.5 233.8h.9v.9h-.9zM304.9 228.9h.9v.9h-.9zM303.2 229.2h.9v.9h-.9zM302.3 230.8h.9v.9h-.9zM302.0 230.4h.9v.9h-.9zM302.5 231.8h.9v.9h-.9zM306.1 230.6h.9v.9h-.9zM305.0 233.8h.9v.9h-.9zM305.8 233.6h.9v.9h-.9zM304.0 233.1h.9v.9h-.9zM305.4 233.0h.9v.9h-.9zM306.3 231.5h.9v.9h-.9zM304.9 233.0h.9v.9h-.9zM304.3 234.1h.9v.9h-.9zM304.1 233.0h.9v.9h-.9zM304.3 234.3h.9v.9h-.9zM305.8 229.5h.9v.9h-.9zM303.9 232.8h.9v.9h-.9zM304.1 234.1h.9v.9h-.9zM306.2 230.2h.9v.9h-.9zM306.4 230.8h.9v.9h-.9zM306.6 231.6h.9v.9h-.9zM306.8 232.2h.9v.9h-.9zM305.3 229.1h.9v.9h-.9zM305.5 233.5h.9v.9h-.9zM305.0 232.8h.9v.9h-.9zM305.4 233.5h.9v.9h-.9zM307.2 231.4h.9v.9h-.9zM306.1 231.0h.9v.9h-.9zM306.8 232.5h.9v.9h-.9zM303.0 229.7h.9v.9h-.9zM305.9 232.5h.9v.9h-.9zM305.8 233.0h.9v.9h-.9zM306.2 231.4h.9v.9h-.9z" fill="#8cc63c" fill-opacity="0.9"/>
<path d="M305.0 232.5h.9v.9h-.9zM305.4 232.3h.9v.9h-.9zM304.2 229.9h.9v.9h-.9zM303.9 232.1h.9v.9h-.9zM302.9 231.5h.9v.9h-.9zM304.5 232.7h.9v.9h-.9zM305.6 231.4h.9v.9h-.9zM305.7 232.1h.9v.9h-.9zM303.8 231.9h.9v.9h-.9zM304.2 230.9h.9v.9h-.9zM303.2 231.5h.9v.9h-.9zM305.1 230.2h.9v.9h-.9zM305.6 231.3h.9v.9h-.9zM303.2 230.7h.9v.9h-.9zM305.3 230.1h.9v.9h-.9zM305.3 230.4h.9v.9h-.9zM304.0 231.9h.9v.9h-.9zM304.9 231.2h.9v.9h-.9zM304.2 230.0h.9v.9h-.9zM304.2 231.1h.9v.9h-.9zM304.8 232.0h.9v.9h-.9zM304.8 230.9h.9v.9h-.9zM305.2 230.1h.9v.9h-.9zM305.1 230.0h.9v.9h-.9zM304.5 231.7h.9v.9h-.9zM303.7 230.6h.9v.9h-.9zM305.8 231.8h.9v.9h-.9zM303.9 232.5h.9v.9h-.9zM305.4 230.9h.9v.9h-.9zM305.3 231.8h.9v.9h-.9zM304.7 232.3h.9v.9h-.9zM305.2 230.0h.9v.9h-.9zM304.0 232.0h.9v.9h-.9zM303.3 231.4h.9v.9h-.9zM304.2 231.2h.9v.9h-.9zM305.1 230.4h.9v.9h-.9zM303.2 231.6h.9v.9h-.9zM304.4 232.3h.9v.9h-.9zM304.7 230.8h.9v.9h-.9zM304.3 230.0h.9v.9h-.9zM303.9 231.7h.9v.9h-.9zM304.8 232.3h.9v.9h-.9zM305.1 230.7h.9v.9h-.9zM303.2 231.3h.9v.9h-.9zM303.2 231.9h.9v.9h-.9zM304.7 231.3h.9v.9h-.9zM304.5 232.0h.9v.9h-.9zM304.7 232.0h.9v.9h-.9zM303.4 231.8h.9v.9h-.9zM303.1 231.2h.9v.9h-.9zM303.1 230.8h.9v.9h-.9zM305.1 230.7h.9v.9h-.9zM303.4 230.5h.9v.9h-.9zM303.6 231.6h.9v.9h-.9zM303.8 231.5h.9v.9h-.9zM304.4 232.8h.9v.9h-.9zM304.9 230.4h.9v.9h-.9zM303.5 230.4h.9v.9h-.9z" fill="#c8e03a" fill-opacity="1.0"/>
<line x1="136.60" y1="182.60" x2="136.60" y2="253.50" stroke="#4a4a4a" stroke-width="0.8"/>
<line x1="104.30" y1="226.20" x2="175.70" y2="226.20" stroke="#4a4a4a" stroke-width="0.8"/>
<line x1="216.40" y1="182.60" x2="216.40" y2="253.50" stroke="#4a4a4a" stroke-width="0.8"/>
<line x1="184.20" y1="226.20" x2="255.50" y2="226.20" stroke="#4a4a4a" stroke-width="0.8"/>
<line x1="298.60" y1="182.60" x2="298.60" y2="253.50" stroke="#4a4a4a" stroke-width="0.8"/>
<line x1="267.50" y1="226.20" x2="337.60" y2="226.20" stroke="#4a4a4a" stroke-width="0.8"/>
<text x="6.90" y="304.20" font-size="11" font-weight="bold" fill="#111">F</text>
<text x="37.00" y="319.19" font-size="7.2" text-anchor="end" textLength="17.30" lengthAdjust="spacingAndGlyphs">Jurkat</text>
<line x1="42.90" y1="305.70" x2="42.90" y2="319.60" stroke="#555" stroke-width="1.0"/>
<line x1="42.90" y1="316.30" x2="152.10" y2="316.30" stroke="#3a3a3a" stroke-width="0.9"/>
<text x="42.70" y="329.06" font-size="7.4" text-anchor="middle" textLength="3.80" lengthAdjust="spacingAndGlyphs">0</text>
<line x1="121.50" y1="316.30" x2="121.50" y2="319.30" stroke="#3a3a3a" stroke-width="0.8"/>
<line x1="151.50" y1="316.30" x2="151.50" y2="319.30" stroke="#3a3a3a" stroke-width="0.8"/>
<text x="121.50" y="329.06" font-size="7.4" text-anchor="middle" textLength="6.40" lengthAdjust="spacingAndGlyphs">15</text>
<text x="151.50" y="329.06" font-size="7.4" text-anchor="middle" textLength="6.80" lengthAdjust="spacingAndGlyphs">21</text>
<line x1="121.50" y1="308.20" x2="121.50" y2="313.70" stroke="#111" stroke-width="0.8"/>
<path d="M120.00 313.30 L123.00 313.30 L121.50 316.30 Z" fill="#111"/>
<line x1="126.50" y1="308.20" x2="126.50" y2="313.70" stroke="#111" stroke-width="0.8"/>
<path d="M125.00 313.30 L128.00 313.30 L126.50 316.30 Z" fill="#111"/>
<line x1="131.50" y1="308.20" x2="131.50" y2="313.70" stroke="#111" stroke-width="0.8"/>
<path d="M130.00 313.30 L133.00 313.30 L131.50 316.30 Z" fill="#111"/>
<line x1="136.60" y1="308.20" x2="136.60" y2="313.70" stroke="#111" stroke-width="0.8"/>
<path d="M135.10 313.30 L138.10 313.30 L136.60 316.30 Z" fill="#111"/>
<line x1="141.50" y1="308.20" x2="141.50" y2="313.70" stroke="#111" stroke-width="0.8"/>
<path d="M140.00 313.30 L143.00 313.30 L141.50 316.30 Z" fill="#111"/>
<line x1="146.50" y1="308.20" x2="146.50" y2="313.70" stroke="#111" stroke-width="0.8"/>
<path d="M145.00 313.30 L148.00 313.30 L146.50 316.30 Z" fill="#111"/>
<line x1="151.50" y1="308.20" x2="151.50" y2="313.70" stroke="#111" stroke-width="0.8"/>
<path d="M150.00 313.30 L153.00 313.30 L151.50 316.30 Z" fill="#111"/>
<line x1="153.50" y1="305.40" x2="153.50" y2="317.50" stroke="#3a3a3a" stroke-width="0.9"/>
<text x="153.00" y="303.88" font-size="7.2" text-anchor="middle" textLength="23.10" lengthAdjust="spacingAndGlyphs">Sacrifice</text>
<line x1="152.10" y1="316.30" x2="161.50" y2="323.00" stroke="#3a3a3a" stroke-width="0.9"/>
<text x="162.80" y="326.18" font-size="7.2" textLength="9.00" lengthAdjust="spacingAndGlyphs">8 h</text>
<text x="45.60" y="305.16" font-size="7.2" textLength="43.80" lengthAdjust="spacingAndGlyphs">Transplantation</text>
<text x="45.6" y="314.10" font-size="7.0" textLength="40.5" lengthAdjust="spacingAndGlyphs">5×10<tspan font-size="4.5" dy="-2.6">6</tspan><tspan dy="2.6"> cells i.v.</tspan></text>
<text x="37.00" y="356.39" font-size="7.2" text-anchor="end" textLength="15.90" lengthAdjust="spacingAndGlyphs">PDX1</text>
<line x1="42.90" y1="342.90" x2="42.90" y2="356.80" stroke="#555" stroke-width="1.0"/>
<line x1="42.90" y1="353.50" x2="147.20" y2="353.50" stroke="#3a3a3a" stroke-width="0.9"/>
<text x="42.70" y="366.26" font-size="7.4" text-anchor="middle" textLength="3.80" lengthAdjust="spacingAndGlyphs">0</text>
<line x1="116.20" y1="353.50" x2="116.20" y2="356.50" stroke="#3a3a3a" stroke-width="0.8"/>
<line x1="146.40" y1="353.50" x2="146.40" y2="356.50" stroke="#3a3a3a" stroke-width="0.8"/>
<text x="116.20" y="366.26" font-size="7.4" text-anchor="middle" textLength="6.40" lengthAdjust="spacingAndGlyphs">14</text>
<text x="146.40" y="366.26" font-size="7.4" text-anchor="middle" textLength="6.80" lengthAdjust="spacingAndGlyphs">20</text>
<line x1="116.20" y1="345.40" x2="116.20" y2="350.90" stroke="#111" stroke-width="0.8"/>
<path d="M114.70 350.50 L117.70 350.50 L116.20 353.50 Z" fill="#111"/>
<line x1="121.20" y1="345.40" x2="121.20" y2="350.90" stroke="#111" stroke-width="0.8"/>
<path d="M119.70 350.50 L122.70 350.50 L121.20 353.50 Z" fill="#111"/>
<line x1="126.40" y1="345.40" x2="126.40" y2="350.90" stroke="#111" stroke-width="0.8"/>
<path d="M124.90 350.50 L127.90 350.50 L126.40 353.50 Z" fill="#111"/>
<line x1="131.50" y1="345.40" x2="131.50" y2="350.90" stroke="#111" stroke-width="0.8"/>
<path d="M130.00 350.50 L133.00 350.50 L131.50 353.50 Z" fill="#111"/>
<line x1="136.60" y1="345.40" x2="136.60" y2="350.90" stroke="#111" stroke-width="0.8"/>
<path d="M135.10 350.50 L138.10 350.50 L136.60 353.50 Z" fill="#111"/>
<line x1="141.50" y1="345.40" x2="141.50" y2="350.90" stroke="#111" stroke-width="0.8"/>
<path d="M140.00 350.50 L143.00 350.50 L141.50 353.50 Z" fill="#111"/>
<line x1="146.60" y1="345.40" x2="146.60" y2="350.90" stroke="#111" stroke-width="0.8"/>
<path d="M145.10 350.50 L148.10 350.50 L146.60 353.50 Z" fill="#111"/>
<line x1="148.50" y1="342.30" x2="148.50" y2="354.70" stroke="#3a3a3a" stroke-width="0.9"/>
<text x="148.30" y="341.28" font-size="7.2" text-anchor="middle" textLength="23.40" lengthAdjust="spacingAndGlyphs">Sacrifice</text>
<line x1="147.20" y1="353.50" x2="156.90" y2="360.80" stroke="#3a3a3a" stroke-width="0.9"/>
<text x="158.20" y="363.88" font-size="7.2" textLength="9.00" lengthAdjust="spacingAndGlyphs">8 h</text>
<text x="45.60" y="342.16" font-size="7.2" textLength="43.80" lengthAdjust="spacingAndGlyphs">Transplantation</text>
<text x="45.6" y="351.20" font-size="7.0" textLength="40.5" lengthAdjust="spacingAndGlyphs">1×10<tspan font-size="4.5" dy="-2.6">6</tspan><tspan dy="2.6"> cells i.v.</tspan></text>
<text x="37.00" y="394.09" font-size="7.2" text-anchor="end" textLength="16.10" lengthAdjust="spacingAndGlyphs">PDX2</text>
<line x1="42.90" y1="380.60" x2="42.90" y2="394.50" stroke="#555" stroke-width="1.0"/>
<line x1="42.90" y1="391.20" x2="147.20" y2="391.20" stroke="#3a3a3a" stroke-width="0.9"/>
<text x="42.70" y="404.06" font-size="7.4" text-anchor="middle" textLength="3.80" lengthAdjust="spacingAndGlyphs">0</text>
<line x1="116.20" y1="391.20" x2="116.20" y2="394.20" stroke="#3a3a3a" stroke-width="0.8"/>
<line x1="146.40" y1="391.20" x2="146.40" y2="394.20" stroke="#3a3a3a" stroke-width="0.8"/>
<text x="116.20" y="404.06" font-size="7.4" text-anchor="middle" textLength="6.40" lengthAdjust="spacingAndGlyphs">14</text>
<text x="146.40" y="404.06" font-size="7.4" text-anchor="middle" textLength="6.80" lengthAdjust="spacingAndGlyphs">20</text>
<line x1="116.20" y1="383.00" x2="116.20" y2="388.60" stroke="#111" stroke-width="0.8"/>
<path d="M114.70 388.20 L117.70 388.20 L116.20 391.20 Z" fill="#111"/>
<line x1="121.20" y1="383.00" x2="121.20" y2="388.60" stroke="#111" stroke-width="0.8"/>
<path d="M119.70 388.20 L122.70 388.20 L121.20 391.20 Z" fill="#111"/>
<line x1="126.40" y1="383.00" x2="126.40" y2="388.60" stroke="#111" stroke-width="0.8"/>
<path d="M124.90 388.20 L127.90 388.20 L126.40 391.20 Z" fill="#111"/>
<line x1="131.50" y1="383.00" x2="131.50" y2="388.60" stroke="#111" stroke-width="0.8"/>
<path d="M130.00 388.20 L133.00 388.20 L131.50 391.20 Z" fill="#111"/>
<line x1="136.60" y1="383.00" x2="136.60" y2="388.60" stroke="#111" stroke-width="0.8"/>
<path d="M135.10 388.20 L138.10 388.20 L136.60 391.20 Z" fill="#111"/>
<line x1="141.50" y1="383.00" x2="141.50" y2="388.60" stroke="#111" stroke-width="0.8"/>
<path d="M140.00 388.20 L143.00 388.20 L141.50 391.20 Z" fill="#111"/>
<line x1="146.60" y1="383.00" x2="146.60" y2="388.60" stroke="#111" stroke-width="0.8"/>
<path d="M145.10 388.20 L148.10 388.20 L146.60 391.20 Z" fill="#111"/>
<line x1="148.50" y1="380.00" x2="148.50" y2="392.40" stroke="#3a3a3a" stroke-width="0.9"/>
<text x="148.30" y="378.58" font-size="7.2" text-anchor="middle" textLength="23.40" lengthAdjust="spacingAndGlyphs">Sacrifice</text>
<line x1="147.20" y1="391.20" x2="156.90" y2="398.50" stroke="#3a3a3a" stroke-width="0.9"/>
<text x="158.20" y="401.28" font-size="7.2" textLength="9.00" lengthAdjust="spacingAndGlyphs">8 h</text>
<text x="45.60" y="379.76" font-size="7.2" textLength="43.80" lengthAdjust="spacingAndGlyphs">Transplantation</text>
<text x="45.6" y="388.20" font-size="7.0" textLength="40.5" lengthAdjust="spacingAndGlyphs">1×10<tspan font-size="4.5" dy="-2.6">6</tspan><tspan dy="2.6"> cells i.v.</tspan></text>
<text x="37.00" y="431.19" font-size="7.2" text-anchor="end" textLength="16.00" lengthAdjust="spacingAndGlyphs">PDX4</text>
<line x1="42.90" y1="417.70" x2="42.90" y2="431.60" stroke="#555" stroke-width="1.0"/>
<line x1="42.90" y1="428.30" x2="132.30" y2="428.30" stroke="#3a3a3a" stroke-width="0.9"/>
<text x="42.70" y="441.26" font-size="7.4" text-anchor="middle" textLength="3.80" lengthAdjust="spacingAndGlyphs">0</text>
<line x1="101.20" y1="428.30" x2="101.20" y2="431.30" stroke="#3a3a3a" stroke-width="0.8"/>
<line x1="132.00" y1="428.30" x2="132.00" y2="431.30" stroke="#3a3a3a" stroke-width="0.8"/>
<text x="101.20" y="441.26" font-size="7.4" text-anchor="middle" textLength="6.40" lengthAdjust="spacingAndGlyphs">10</text>
<text x="132.00" y="441.26" font-size="7.4" text-anchor="middle" textLength="6.80" lengthAdjust="spacingAndGlyphs">16</text>
<line x1="101.00" y1="420.90" x2="101.00" y2="425.70" stroke="#111" stroke-width="0.8"/>
<path d="M99.50 425.30 L102.50 425.30 L101.00 428.30 Z" fill="#111"/>
<line x1="105.90" y1="420.90" x2="105.90" y2="425.70" stroke="#111" stroke-width="0.8"/>
<path d="M104.40 425.30 L107.40 425.30 L105.90 428.30 Z" fill="#111"/>
<line x1="110.90" y1="420.90" x2="110.90" y2="425.70" stroke="#111" stroke-width="0.8"/>
<path d="M109.40 425.30 L112.40 425.30 L110.90 428.30 Z" fill="#111"/>
<line x1="116.00" y1="420.90" x2="116.00" y2="425.70" stroke="#111" stroke-width="0.8"/>
<path d="M114.50 425.30 L117.50 425.30 L116.00 428.30 Z" fill="#111"/>
<line x1="121.20" y1="420.90" x2="121.20" y2="425.70" stroke="#111" stroke-width="0.8"/>
<path d="M119.70 425.30 L122.70 425.30 L121.20 428.30 Z" fill="#111"/>
<line x1="126.30" y1="420.90" x2="126.30" y2="425.70" stroke="#111" stroke-width="0.8"/>
<path d="M124.80 425.30 L127.80 425.30 L126.30 428.30 Z" fill="#111"/>
<line x1="131.70" y1="420.90" x2="131.70" y2="425.70" stroke="#111" stroke-width="0.8"/>
<path d="M130.20 425.30 L133.20 425.30 L131.70 428.30 Z" fill="#111"/>
<line x1="133.30" y1="417.40" x2="133.30" y2="429.50" stroke="#3a3a3a" stroke-width="0.9"/>
<text x="133.60" y="416.08" font-size="7.2" text-anchor="middle" textLength="23.20" lengthAdjust="spacingAndGlyphs">Sacrifice</text>
<line x1="132.30" y1="428.30" x2="141.80" y2="434.90" stroke="#3a3a3a" stroke-width="0.9"/>
<text x="143.20" y="438.98" font-size="7.2" textLength="9.00" lengthAdjust="spacingAndGlyphs">8 h</text>
<text x="45.60" y="417.56" font-size="7.2" textLength="43.80" lengthAdjust="spacingAndGlyphs">Transplantation</text>
<text x="45.6" y="425.50" font-size="7.0" textLength="40.5" lengthAdjust="spacingAndGlyphs">1×10<tspan font-size="4.5" dy="-2.6">6</tspan><tspan dy="2.6"> cells i.v.</tspan></text>
<text x="90.00" y="453.10" font-size="8.7" text-anchor="middle" textLength="75.40" lengthAdjust="spacingAndGlyphs">Days after transplantation</text>
<line x1="72.20" y1="457.50" x2="72.20" y2="462.60" stroke="#111" stroke-width="0.8"/>
<path d="M70.70 462.20 L73.70 462.20 L72.20 465.20 Z" fill="#111"/>
<text x="77.60" y="465.00" font-size="7.0" textLength="64.50" lengthAdjust="spacingAndGlyphs">BRM014 20mg/kg p.o.</text>
<text x="195.80" y="301.30" font-size="11" font-weight="bold" fill="#111">G</text>
<text x="218.50" y="338.25" font-size="9.0" text-anchor="middle" textLength="65.30" lengthAdjust="spacingAndGlyphs" transform="rotate(-90 218.50 338.25)">Percentage of hCD45⁺</text>
<text x="229.10" y="337.60" font-size="9.0" text-anchor="middle" textLength="32.00" lengthAdjust="spacingAndGlyphs" transform="rotate(-90 229.10 337.60)">cells in the</text>
<text x="238.70" y="337.75" font-size="9.0" text-anchor="middle" textLength="38.90" lengthAdjust="spacingAndGlyphs" transform="rotate(-90 238.70 337.75)">bone marrow</text>
<line x1="257.50" y1="309.60" x2="257.50" y2="367.07" stroke="#1a1a1a" stroke-width="1.15"/>
<line x1="256.93" y1="366.50" x2="283.80" y2="366.50" stroke="#1a1a1a" stroke-width="1.15"/>
<line x1="254.70" y1="366.40" x2="257.50" y2="366.40" stroke="#1a1a1a" stroke-width="1.035"/>
<text x="250.80" y="368.49" font-size="7.2" text-anchor="end" textLength="3.30" lengthAdjust="spacingAndGlyphs">0</text>
<line x1="254.70" y1="348.30" x2="257.50" y2="348.30" stroke="#1a1a1a" stroke-width="1.035"/>
<text x="250.80" y="350.39" font-size="7.2" text-anchor="end" textLength="3.30" lengthAdjust="spacingAndGlyphs">5</text>
<line x1="254.70" y1="330.20" x2="257.50" y2="330.20" stroke="#1a1a1a" stroke-width="1.035"/>
<text x="250.80" y="332.29" font-size="7.2" text-anchor="end" textLength="6.60" lengthAdjust="spacingAndGlyphs">10</text>
<line x1="254.70" y1="312.10" x2="257.50" y2="312.10" stroke="#1a1a1a" stroke-width="1.035"/>
<text x="250.80" y="314.19" font-size="7.2" text-anchor="end" textLength="6.60" lengthAdjust="spacingAndGlyphs">15</text>
<line x1="264.30" y1="366.50" x2="264.30" y2="368.80" stroke="#1a1a1a" stroke-width="1.035"/>
<line x1="276.50" y1="366.50" x2="276.50" y2="368.80" stroke="#1a1a1a" stroke-width="1.035"/>
<text x="270.90" y="304.23" font-size="8.7" text-anchor="middle" textLength="23.30" lengthAdjust="spacingAndGlyphs">Jurkat</text>
<line x1="264.30" y1="317.10" x2="264.30" y2="331.20" stroke="#505050" stroke-width="0.9"/>
<line x1="262.70" y1="317.10" x2="265.90" y2="317.10" stroke="#333" stroke-width="0.9"/>
<line x1="262.70" y1="331.20" x2="265.90" y2="331.20" stroke="#333" stroke-width="0.9"/>
<circle cx="264.60" cy="317.10" r="1.75" fill="#1c426f"/>
<circle cx="266.70" cy="328.50" r="1.75" fill="#1c426f"/>
<circle cx="262.90" cy="331.20" r="1.75" fill="#1c426f"/>
<circle cx="274.20" cy="364.40" r="1.75" fill="#c3122f"/>
<circle cx="276.40" cy="363.50" r="1.75" fill="#c3122f"/>
<circle cx="278.60" cy="363.10" r="1.75" fill="#c3122f"/>
<circle cx="277.50" cy="364.60" r="1.75" fill="#c3122f"/>
<line x1="260.45" y1="325.40" x2="268.15" y2="325.40" stroke="#333" stroke-width="1.0"/>
<circle cx="275.20" cy="354.90" r="0.85" fill="#383838"/>
<circle cx="277.80" cy="354.90" r="0.85" fill="#383838"/>
<line x1="321.50" y1="309.60" x2="321.50" y2="367.07" stroke="#1a1a1a" stroke-width="1.15"/>
<line x1="320.93" y1="366.50" x2="348.20" y2="366.50" stroke="#1a1a1a" stroke-width="1.15"/>
<line x1="318.70" y1="366.30" x2="321.50" y2="366.30" stroke="#1a1a1a" stroke-width="1.035"/>
<text x="315.10" y="368.39" font-size="7.2" text-anchor="end" textLength="3.30" lengthAdjust="spacingAndGlyphs">0</text>
<line x1="318.70" y1="355.45" x2="321.50" y2="355.45" stroke="#1a1a1a" stroke-width="1.035"/>
<text x="315.10" y="357.54" font-size="7.2" text-anchor="end" textLength="6.60" lengthAdjust="spacingAndGlyphs">10</text>
<line x1="318.70" y1="344.60" x2="321.50" y2="344.60" stroke="#1a1a1a" stroke-width="1.035"/>
<text x="315.10" y="346.69" font-size="7.2" text-anchor="end" textLength="6.60" lengthAdjust="spacingAndGlyphs">20</text>
<line x1="318.70" y1="333.75" x2="321.50" y2="333.75" stroke="#1a1a1a" stroke-width="1.035"/>
<text x="315.10" y="335.84" font-size="7.2" text-anchor="end" textLength="6.60" lengthAdjust="spacingAndGlyphs">30</text>
<line x1="318.70" y1="322.90" x2="321.50" y2="322.90" stroke="#1a1a1a" stroke-width="1.035"/>
<text x="315.10" y="324.99" font-size="7.2" text-anchor="end" textLength="6.60" lengthAdjust="spacingAndGlyphs">40</text>
<line x1="318.70" y1="312.05" x2="321.50" y2="312.05" stroke="#1a1a1a" stroke-width="1.035"/>
<text x="315.10" y="314.14" font-size="7.2" text-anchor="end" textLength="6.60" lengthAdjust="spacingAndGlyphs">50</text>
<line x1="328.90" y1="366.50" x2="328.90" y2="368.80" stroke="#1a1a1a" stroke-width="1.035"/>
<line x1="340.60" y1="366.50" x2="340.60" y2="368.80" stroke="#1a1a1a" stroke-width="1.035"/>
<text x="334.60" y="304.23" font-size="8.7" text-anchor="middle" textLength="20.00" lengthAdjust="spacingAndGlyphs">PDX1</text>
<line x1="328.90" y1="318.10" x2="328.90" y2="330.80" stroke="#505050" stroke-width="0.9"/>
<line x1="327.30" y1="318.10" x2="330.50" y2="318.10" stroke="#333" stroke-width="0.9"/>
<line x1="327.30" y1="330.80" x2="330.50" y2="330.80" stroke="#333" stroke-width="0.9"/>
<line x1="340.60" y1="334.20" x2="340.60" y2="345.50" stroke="#505050" stroke-width="0.9"/>
<circle cx="326.40" cy="318.20" r="1.75" fill="#1c426f"/>
<circle cx="328.20" cy="318.00" r="1.75" fill="#1c426f"/>
<circle cx="331.00" cy="321.50" r="1.75" fill="#1c426f"/>
<circle cx="331.00" cy="322.80" r="1.75" fill="#1c426f"/>
<circle cx="328.90" cy="330.80" r="1.75" fill="#1c426f"/>
<circle cx="340.60" cy="334.20" r="1.75" fill="#c3122f"/>
<circle cx="340.60" cy="337.20" r="1.75" fill="#c3122f"/>
<circle cx="340.60" cy="345.50" r="1.75" fill="#c3122f"/>
<line x1="325.30" y1="323.80" x2="332.50" y2="323.80" stroke="#333" stroke-width="1.0"/>
<line x1="337.00" y1="339.40" x2="344.20" y2="339.40" stroke="#333" stroke-width="1.0"/>
<circle cx="340.60" cy="329.30" r="0.85" fill="#383838"/>
<line x1="385.50" y1="309.60" x2="385.50" y2="367.07" stroke="#1a1a1a" stroke-width="1.15"/>
<line x1="384.93" y1="366.50" x2="412.80" y2="366.50" stroke="#1a1a1a" stroke-width="1.15"/>
<line x1="382.70" y1="366.30" x2="385.50" y2="366.30" stroke="#1a1a1a" stroke-width="1.035"/>
<text x="379.20" y="368.39" font-size="7.2" text-anchor="end" textLength="3.30" lengthAdjust="spacingAndGlyphs">0</text>
<line x1="382.70" y1="355.45" x2="385.50" y2="355.45" stroke="#1a1a1a" stroke-width="1.035"/>
<text x="379.20" y="357.54" font-size="7.2" text-anchor="end" textLength="6.60" lengthAdjust="spacingAndGlyphs">10</text>
<line x1="382.70" y1="344.60" x2="385.50" y2="344.60" stroke="#1a1a1a" stroke-width="1.035"/>
<text x="379.20" y="346.69" font-size="7.2" text-anchor="end" textLength="6.60" lengthAdjust="spacingAndGlyphs">20</text>
<line x1="382.70" y1="333.75" x2="385.50" y2="333.75" stroke="#1a1a1a" stroke-width="1.035"/>
<text x="379.20" y="335.84" font-size="7.2" text-anchor="end" textLength="6.60" lengthAdjust="spacingAndGlyphs">30</text>
<line x1="382.70" y1="322.90" x2="385.50" y2="322.90" stroke="#1a1a1a" stroke-width="1.035"/>
<text x="379.20" y="324.99" font-size="7.2" text-anchor="end" textLength="6.60" lengthAdjust="spacingAndGlyphs">40</text>
<line x1="382.70" y1="312.05" x2="385.50" y2="312.05" stroke="#1a1a1a" stroke-width="1.035"/>
<text x="379.20" y="314.14" font-size="7.2" text-anchor="end" textLength="6.60" lengthAdjust="spacingAndGlyphs">50</text>
<line x1="393.30" y1="366.50" x2="393.30" y2="368.80" stroke="#1a1a1a" stroke-width="1.035"/>
<line x1="405.10" y1="366.50" x2="405.10" y2="368.80" stroke="#1a1a1a" stroke-width="1.035"/>
<text x="399.40" y="304.23" font-size="8.7" text-anchor="middle" textLength="21.00" lengthAdjust="spacingAndGlyphs">PDX2</text>
<line x1="393.30" y1="325.40" x2="393.30" y2="339.20" stroke="#505050" stroke-width="0.9"/>
<line x1="391.70" y1="325.40" x2="394.90" y2="325.40" stroke="#333" stroke-width="0.9"/>
<line x1="391.70" y1="339.20" x2="394.90" y2="339.20" stroke="#333" stroke-width="0.9"/>
<line x1="405.10" y1="346.80" x2="405.10" y2="358.80" stroke="#505050" stroke-width="0.9"/>
<circle cx="391.20" cy="325.40" r="1.75" fill="#1c426f"/>
<circle cx="393.30" cy="325.00" r="1.75" fill="#1c426f"/>
<circle cx="395.40" cy="325.40" r="1.75" fill="#1c426f"/>
<circle cx="393.30" cy="333.80" r="1.75" fill="#1c426f"/>
<circle cx="393.30" cy="339.20" r="1.75" fill="#1c426f"/>
<circle cx="405.10" cy="346.80" r="1.75" fill="#c3122f"/>
<circle cx="405.10" cy="352.80" r="1.75" fill="#c3122f"/>
<circle cx="405.10" cy="358.80" r="1.75" fill="#c3122f"/>
<line x1="389.60" y1="331.20" x2="397.00" y2="331.20" stroke="#333" stroke-width="1.0"/>
<line x1="401.60" y1="353.40" x2="408.60" y2="353.40" stroke="#333" stroke-width="1.0"/>
<circle cx="403.80" cy="339.20" r="0.85" fill="#383838"/>
<circle cx="406.40" cy="339.20" r="0.85" fill="#383838"/>
<line x1="450.50" y1="309.60" x2="450.50" y2="367.07" stroke="#1a1a1a" stroke-width="1.15"/>
<line x1="449.93" y1="366.50" x2="477.00" y2="366.50" stroke="#1a1a1a" stroke-width="1.15"/>
<line x1="447.70" y1="366.30" x2="450.50" y2="366.30" stroke="#1a1a1a" stroke-width="1.035"/>
<text x="443.80" y="368.39" font-size="7.2" text-anchor="end" textLength="3.30" lengthAdjust="spacingAndGlyphs">0</text>
<line x1="447.70" y1="348.30" x2="450.50" y2="348.30" stroke="#1a1a1a" stroke-width="1.035"/>
<text x="443.80" y="350.39" font-size="7.2" text-anchor="end" textLength="6.60" lengthAdjust="spacingAndGlyphs">20</text>
<line x1="447.70" y1="330.30" x2="450.50" y2="330.30" stroke="#1a1a1a" stroke-width="1.035"/>
<text x="443.80" y="332.39" font-size="7.2" text-anchor="end" textLength="6.60" lengthAdjust="spacingAndGlyphs">40</text>
<line x1="447.70" y1="312.30" x2="450.50" y2="312.30" stroke="#1a1a1a" stroke-width="1.035"/>
<text x="443.80" y="314.39" font-size="7.2" text-anchor="end" textLength="6.60" lengthAdjust="spacingAndGlyphs">60</text>
<line x1="457.80" y1="366.50" x2="457.80" y2="368.80" stroke="#1a1a1a" stroke-width="1.035"/>
<line x1="469.30" y1="366.50" x2="469.30" y2="368.80" stroke="#1a1a1a" stroke-width="1.035"/>
<text x="463.80" y="304.73" font-size="8.7" text-anchor="middle" textLength="20.70" lengthAdjust="spacingAndGlyphs">PDX4</text>
<circle cx="457.60" cy="320.30" r="1.75" fill="#1c426f"/>
<circle cx="455.70" cy="325.30" r="1.75" fill="#1c426f"/>
<circle cx="459.60" cy="325.50" r="1.75" fill="#1c426f"/>
<circle cx="457.60" cy="327.60" r="1.75" fill="#1c426f"/>
<circle cx="457.60" cy="324.50" r="1.75" fill="#1c426f"/>
<circle cx="467.20" cy="346.20" r="1.75" fill="#c3122f"/>
<circle cx="469.30" cy="345.30" r="1.75" fill="#c3122f"/>
<circle cx="471.40" cy="346.20" r="1.75" fill="#c3122f"/>
<line x1="454.10" y1="325.50" x2="461.50" y2="325.50" stroke="#333" stroke-width="1.0"/>
<circle cx="466.70" cy="340.20" r="0.85" fill="#383838"/>
<circle cx="469.30" cy="340.20" r="0.85" fill="#383838"/>
<circle cx="471.90" cy="340.20" r="0.85" fill="#383838"/>
<circle cx="481.90" cy="315.60" r="1.7" fill="#1c426f"/>
<circle cx="481.90" cy="325.80" r="1.7" fill="#c3122f"/>
<text x="486.80" y="318.19" font-size="7.2" textLength="19.70" lengthAdjust="spacingAndGlyphs">Vehicle</text>
<text x="486.80" y="328.39" font-size="7.2" textLength="24.20" lengthAdjust="spacingAndGlyphs">BRM014</text>
<text x="196.30" y="396.50" font-size="11" font-weight="bold" fill="#111">H</text>
<text x="218.50" y="433.25" font-size="9.0" text-anchor="middle" textLength="57.50" lengthAdjust="spacingAndGlyphs" transform="rotate(-90 218.50 433.25)">Number of hCD45⁺</text>
<text x="228.90" y="433.40" font-size="9.0" text-anchor="middle" textLength="25.20" lengthAdjust="spacingAndGlyphs" transform="rotate(-90 228.90 433.40)">cells in a</text>
<text x="238.40" y="433.00" font-size="9.0" text-anchor="middle" textLength="67.70" lengthAdjust="spacingAndGlyphs" transform="rotate(-90 238.40 433.00)">femur and tibia (×10⁵)</text>
<line x1="257.50" y1="404.60" x2="257.50" y2="462.07" stroke="#1a1a1a" stroke-width="1.15"/>
<line x1="256.93" y1="461.50" x2="284.00" y2="461.50" stroke="#1a1a1a" stroke-width="1.15"/>
<line x1="254.70" y1="461.40" x2="257.50" y2="461.40" stroke="#1a1a1a" stroke-width="1.035"/>
<text x="250.90" y="464.06" font-size="7.2" text-anchor="end" textLength="3.30" lengthAdjust="spacingAndGlyphs">0</text>
<line x1="254.70" y1="443.25" x2="257.50" y2="443.25" stroke="#1a1a1a" stroke-width="1.035"/>
<text x="250.90" y="445.91" font-size="7.2" text-anchor="end" textLength="3.30" lengthAdjust="spacingAndGlyphs">5</text>
<line x1="254.70" y1="425.10" x2="257.50" y2="425.10" stroke="#1a1a1a" stroke-width="1.035"/>
<text x="250.90" y="427.76" font-size="7.2" text-anchor="end" textLength="6.60" lengthAdjust="spacingAndGlyphs">10</text>
<line x1="254.70" y1="406.95" x2="257.50" y2="406.95" stroke="#1a1a1a" stroke-width="1.035"/>
<text x="250.90" y="409.61" font-size="7.2" text-anchor="end" textLength="6.60" lengthAdjust="spacingAndGlyphs">15</text>
<line x1="264.30" y1="461.50" x2="264.30" y2="463.80" stroke="#1a1a1a" stroke-width="1.035"/>
<line x1="276.50" y1="461.50" x2="276.50" y2="463.80" stroke="#1a1a1a" stroke-width="1.035"/>
<text x="271.30" y="400.03" font-size="8.7" text-anchor="middle" textLength="23.30" lengthAdjust="spacingAndGlyphs">Jurkat</text>
<line x1="264.30" y1="411.70" x2="264.30" y2="425.20" stroke="#505050" stroke-width="0.9"/>
<line x1="262.70" y1="411.70" x2="265.90" y2="411.70" stroke="#333" stroke-width="0.9"/>
<line x1="262.70" y1="425.20" x2="265.90" y2="425.20" stroke="#333" stroke-width="0.9"/>
<circle cx="264.40" cy="411.70" r="1.75" fill="#1c426f"/>
<circle cx="266.50" cy="423.80" r="1.75" fill="#1c426f"/>
<circle cx="263.00" cy="425.20" r="1.75" fill="#1c426f"/>
<circle cx="274.00" cy="459.40" r="1.75" fill="#c3122f"/>
<circle cx="276.20" cy="458.40" r="1.75" fill="#c3122f"/>
<circle cx="278.50" cy="458.00" r="1.75" fill="#c3122f"/>
<circle cx="277.20" cy="459.50" r="1.75" fill="#c3122f"/>
<line x1="260.60" y1="420.40" x2="268.00" y2="420.40" stroke="#333" stroke-width="1.0"/>
<circle cx="275.20" cy="450.80" r="0.85" fill="#383838"/>
<circle cx="277.80" cy="450.80" r="0.85" fill="#383838"/>
<line x1="321.50" y1="404.60" x2="321.50" y2="462.07" stroke="#1a1a1a" stroke-width="1.15"/>
<line x1="320.93" y1="461.50" x2="348.50" y2="461.50" stroke="#1a1a1a" stroke-width="1.15"/>
<line x1="318.70" y1="461.40" x2="321.50" y2="461.40" stroke="#1a1a1a" stroke-width="1.035"/>
<text x="315.10" y="464.06" font-size="7.2" text-anchor="end" textLength="3.30" lengthAdjust="spacingAndGlyphs">0</text>
<line x1="318.70" y1="443.40" x2="321.50" y2="443.40" stroke="#1a1a1a" stroke-width="1.035"/>
<text x="315.10" y="446.06" font-size="7.2" text-anchor="end" textLength="6.60" lengthAdjust="spacingAndGlyphs">50</text>
<line x1="318.70" y1="425.40" x2="321.50" y2="425.40" stroke="#1a1a1a" stroke-width="1.035"/>
<text x="315.10" y="428.06" font-size="7.2" text-anchor="end" textLength="9.90" lengthAdjust="spacingAndGlyphs">100</text>
<line x1="318.70" y1="407.40" x2="321.50" y2="407.40" stroke="#1a1a1a" stroke-width="1.035"/>
<text x="315.10" y="410.06" font-size="7.2" text-anchor="end" textLength="9.90" lengthAdjust="spacingAndGlyphs">150</text>
<line x1="328.90" y1="461.50" x2="328.90" y2="463.80" stroke="#1a1a1a" stroke-width="1.035"/>
<line x1="340.60" y1="461.50" x2="340.60" y2="463.80" stroke="#1a1a1a" stroke-width="1.035"/>
<text x="334.60" y="399.73" font-size="8.7" text-anchor="middle" textLength="20.00" lengthAdjust="spacingAndGlyphs">PDX1</text>
<line x1="328.90" y1="424.30" x2="328.90" y2="440.00" stroke="#505050" stroke-width="0.9"/>
<line x1="327.30" y1="424.30" x2="330.50" y2="424.30" stroke="#333" stroke-width="0.9"/>
<line x1="327.30" y1="440.00" x2="330.50" y2="440.00" stroke="#333" stroke-width="0.9"/>
<line x1="340.60" y1="444.20" x2="340.60" y2="451.90" stroke="#505050" stroke-width="0.9"/>
<circle cx="328.90" cy="424.30" r="1.75" fill="#1c426f"/>
<circle cx="328.90" cy="430.80" r="1.75" fill="#1c426f"/>
<circle cx="328.90" cy="440.00" r="1.75" fill="#1c426f"/>
<circle cx="338.50" cy="444.20" r="1.75" fill="#c3122f"/>
<circle cx="342.80" cy="447.50" r="1.75" fill="#c3122f"/>
<circle cx="340.60" cy="451.90" r="1.75" fill="#c3122f"/>
<line x1="325.20" y1="432.00" x2="332.60" y2="432.00" stroke="#333" stroke-width="1.0"/>
<line x1="337.70" y1="447.50" x2="343.50" y2="447.50" stroke="#333" stroke-width="1.0"/>
<circle cx="340.60" cy="438.90" r="0.85" fill="#383838"/>
<line x1="385.50" y1="404.60" x2="385.50" y2="462.07" stroke="#1a1a1a" stroke-width="1.15"/>
<line x1="384.93" y1="461.50" x2="412.80" y2="461.50" stroke="#1a1a1a" stroke-width="1.15"/>
<line x1="382.70" y1="461.40" x2="385.50" y2="461.40" stroke="#1a1a1a" stroke-width="1.035"/>
<text x="379.30" y="464.06" font-size="7.2" text-anchor="end" textLength="3.30" lengthAdjust="spacingAndGlyphs">0</text>
<line x1="382.70" y1="447.84" x2="385.50" y2="447.84" stroke="#1a1a1a" stroke-width="1.035"/>
<text x="379.30" y="450.50" font-size="7.2" text-anchor="end" textLength="6.60" lengthAdjust="spacingAndGlyphs">20</text>
<line x1="382.70" y1="434.28" x2="385.50" y2="434.28" stroke="#1a1a1a" stroke-width="1.035"/>
<text x="379.30" y="436.94" font-size="7.2" text-anchor="end" textLength="6.60" lengthAdjust="spacingAndGlyphs">40</text>
<line x1="382.70" y1="420.72" x2="385.50" y2="420.72" stroke="#1a1a1a" stroke-width="1.035"/>
<text x="379.30" y="423.38" font-size="7.2" text-anchor="end" textLength="6.60" lengthAdjust="spacingAndGlyphs">60</text>
<line x1="382.70" y1="407.16" x2="385.50" y2="407.16" stroke="#1a1a1a" stroke-width="1.035"/>
<text x="379.30" y="409.82" font-size="7.2" text-anchor="end" textLength="6.60" lengthAdjust="spacingAndGlyphs">80</text>
<line x1="393.30" y1="461.50" x2="393.30" y2="463.80" stroke="#1a1a1a" stroke-width="1.035"/>
<line x1="405.10" y1="461.50" x2="405.10" y2="463.80" stroke="#1a1a1a" stroke-width="1.035"/>
<text x="399.70" y="399.73" font-size="8.7" text-anchor="middle" textLength="21.00" lengthAdjust="spacingAndGlyphs">PDX2</text>
<line x1="393.30" y1="414.20" x2="393.30" y2="431.20" stroke="#505050" stroke-width="0.9"/>
<line x1="391.70" y1="414.20" x2="394.90" y2="414.20" stroke="#333" stroke-width="0.9"/>
<line x1="391.70" y1="431.20" x2="394.90" y2="431.20" stroke="#333" stroke-width="0.9"/>
<circle cx="391.20" cy="414.20" r="1.75" fill="#1c426f"/>
<circle cx="393.30" cy="413.50" r="1.75" fill="#1c426f"/>
<circle cx="395.40" cy="414.20" r="1.75" fill="#1c426f"/>
<circle cx="393.30" cy="420.40" r="1.75" fill="#1c426f"/>
<circle cx="393.30" cy="431.20" r="1.75" fill="#1c426f"/>
<circle cx="402.80" cy="449.60" r="1.75" fill="#c3122f"/>
<circle cx="405.00" cy="448.60" r="1.75" fill="#c3122f"/>
<circle cx="407.30" cy="448.40" r="1.75" fill="#c3122f"/>
<line x1="389.60" y1="420.40" x2="397.00" y2="420.40" stroke="#333" stroke-width="1.0"/>
<circle cx="403.80" cy="441.40" r="0.85" fill="#383838"/>
<circle cx="406.40" cy="441.40" r="0.85" fill="#383838"/>
<line x1="450.50" y1="404.60" x2="450.50" y2="462.07" stroke="#1a1a1a" stroke-width="1.15"/>
<line x1="449.93" y1="461.50" x2="477.00" y2="461.50" stroke="#1a1a1a" stroke-width="1.15"/>
<line x1="447.70" y1="461.30" x2="450.50" y2="461.30" stroke="#1a1a1a" stroke-width="1.035"/>
<text x="443.80" y="463.96" font-size="7.2" text-anchor="end" textLength="3.30" lengthAdjust="spacingAndGlyphs">0</text>
<line x1="447.70" y1="443.20" x2="450.50" y2="443.20" stroke="#1a1a1a" stroke-width="1.035"/>
<text x="443.80" y="445.86" font-size="7.2" text-anchor="end" textLength="6.60" lengthAdjust="spacingAndGlyphs">50</text>
<line x1="447.70" y1="425.10" x2="450.50" y2="425.10" stroke="#1a1a1a" stroke-width="1.035"/>
<text x="443.80" y="427.76" font-size="7.2" text-anchor="end" textLength="9.90" lengthAdjust="spacingAndGlyphs">100</text>
<line x1="447.70" y1="407.00" x2="450.50" y2="407.00" stroke="#1a1a1a" stroke-width="1.035"/>
<text x="443.80" y="409.66" font-size="7.2" text-anchor="end" textLength="9.90" lengthAdjust="spacingAndGlyphs">150</text>
<line x1="457.80" y1="461.50" x2="457.80" y2="463.80" stroke="#1a1a1a" stroke-width="1.035"/>
<line x1="469.30" y1="461.50" x2="469.30" y2="463.80" stroke="#1a1a1a" stroke-width="1.035"/>
<text x="463.80" y="399.43" font-size="8.7" text-anchor="middle" textLength="20.70" lengthAdjust="spacingAndGlyphs">PDX4</text>
<line x1="457.80" y1="423.80" x2="457.80" y2="437.30" stroke="#505050" stroke-width="0.9"/>
<line x1="456.20" y1="423.80" x2="459.40" y2="423.80" stroke="#333" stroke-width="0.9"/>
<line x1="456.20" y1="437.30" x2="459.40" y2="437.30" stroke="#333" stroke-width="0.9"/>
<circle cx="457.80" cy="423.80" r="1.75" fill="#1c426f"/>
<circle cx="457.80" cy="427.00" r="1.75" fill="#1c426f"/>
<circle cx="455.50" cy="432.00" r="1.75" fill="#1c426f"/>
<circle cx="460.10" cy="432.00" r="1.75" fill="#1c426f"/>
<circle cx="457.80" cy="437.30" r="1.75" fill="#1c426f"/>
<circle cx="467.20" cy="450.00" r="1.75" fill="#c3122f"/>
<circle cx="469.40" cy="449.00" r="1.75" fill="#c3122f"/>
<circle cx="471.60" cy="449.00" r="1.75" fill="#c3122f"/>
<line x1="454.10" y1="432.00" x2="461.50" y2="432.00" stroke="#333" stroke-width="1.0"/>
<circle cx="468.00" cy="442.20" r="0.85" fill="#383838"/>
<circle cx="470.60" cy="442.20" r="0.85" fill="#383838"/>
<circle cx="481.90" cy="410.80" r="1.7" fill="#1c426f"/>
<circle cx="481.90" cy="420.80" r="1.7" fill="#c3122f"/>
<text x="486.30" y="413.39" font-size="7.2" textLength="20.70" lengthAdjust="spacingAndGlyphs">Vehicle</text>
<text x="486.30" y="423.39" font-size="7.2" textLength="24.50" lengthAdjust="spacingAndGlyphs">BRM014</text>
<text x="6.90" y="491.80" font-size="11" font-weight="bold" fill="#111">I</text>
<text x="65.20" y="492.80" font-size="8.9" text-anchor="middle" textLength="22.50" lengthAdjust="spacingAndGlyphs">Jurkat</text>
<defs><clipPath id="redclip"><path d="M45.5 554.2 C48 553.8 50.5 552 52.3 550.4 C54 548.8 55 547.5 55.8 545.8 C57 543 57.5 541 58.1 538.8 C58.8 535.5 59.2 532 59.8 529.6 C60.5 526.5 61 524.5 61.5 522.7 C62.3 519.5 63 517 63.6 514.6 C64.5 511 65.3 507.5 66.2 506.3 C67 506.2 67.5 507.5 67.9 510 C68.4 513 68.7 515.5 69 518 C69.5 522 69.8 524.5 70.2 527.3 C70.8 533 71.3 537.5 71.9 541.2 C72.5 545 73 548 73.7 550.4 C74.3 552.5 74.8 553.7 75.6 554.2 Z"/></clipPath></defs>
<path d="M45.5 554.2 C48 553.8 50.5 552 52.3 550.4 C54 548.8 55 547.5 55.8 545.8 C57 543 57.5 541 58.1 538.8 C58.8 535.5 59.2 532 59.8 529.6 C60.5 526.5 61 524.5 61.5 522.7 C62.3 519.5 63 517 63.6 514.6 C64.5 511 65.3 507.5 66.2 506.3 C67 506.2 67.5 507.5 67.9 510 C68.4 513 68.7 515.5 69 518 C69.5 522 69.8 524.5 70.2 527.3 C70.8 533 71.3 537.5 71.9 541.2 C72.5 545 73 548 73.7 550.4 C74.3 552.5 74.8 553.7 75.6 554.2 Z" fill="#ea8a76"/>
<path d="M62.5 554.2 C64 553.5 65.3 551.5 66.2 549.2 C67.3 546 68.2 542.5 69 538.8 C69.8 534 70.3 529 70.8 523.8 C71.3 519 71.7 515.5 72.2 512.3 C72.7 509 73.2 506.5 73.7 504.8 C74.1 503.4 74.4 502.8 74.8 502.8 C75.3 503 75.6 504.8 76 507.7 C76.4 511 76.7 514.5 77.1 518 C77.6 523 78.2 527.5 78.8 531.9 C79.4 536.5 80 540.5 80.6 543.5 C81.3 547.5 82 550.5 82.9 552.7 C83.3 553.6 83.7 554 84.3 554.2 Z" fill="#7f90c4"/>
<path d="M62.5 554.2 C64 553.5 65.3 551.5 66.2 549.2 C67.3 546 68.2 542.5 69 538.8 C69.8 534 70.3 529 70.8 523.8 C71.3 519 71.7 515.5 72.2 512.3 C72.7 509 73.2 506.5 73.7 504.8 C74.1 503.4 74.4 502.8 74.8 502.8 C75.3 503 75.6 504.8 76 507.7 C76.4 511 76.7 514.5 77.1 518 C77.6 523 78.2 527.5 78.8 531.9 C79.4 536.5 80 540.5 80.6 543.5 C81.3 547.5 82 550.5 82.9 552.7 C83.3 553.6 83.7 554 84.3 554.2 Z" fill="#7e5c78" clip-path="url(#redclip)"/>
<path d="M45.5 554.2 C48 553.8 50.5 552 52.3 550.4 C54 548.8 55 547.5 55.8 545.8 C57 543 57.5 541 58.1 538.8 C58.8 535.5 59.2 532 59.8 529.6 C60.5 526.5 61 524.5 61.5 522.7 C62.3 519.5 63 517 63.6 514.6 C64.5 511 65.3 507.5 66.2 506.3 C67 506.2 67.5 507.5 67.9 510 C68.4 513 68.7 515.5 69 518 C69.5 522 69.8 524.5 70.2 527.3 C70.8 533 71.3 537.5 71.9 541.2 C72.5 545 73 548 73.7 550.4 C74.3 552.5 74.8 553.7 75.6 554.2 Z" fill="none" stroke="#c23848" stroke-width="0.7"/>
<path d="M62.5 554.2 C64 553.5 65.3 551.5 66.2 549.2 C67.3 546 68.2 542.5 69 538.8 C69.8 534 70.3 529 70.8 523.8 C71.3 519 71.7 515.5 72.2 512.3 C72.7 509 73.2 506.5 73.7 504.8 C74.1 503.4 74.4 502.8 74.8 502.8 C75.3 503 75.6 504.8 76 507.7 C76.4 511 76.7 514.5 77.1 518 C77.6 523 78.2 527.5 78.8 531.9 C79.4 536.5 80 540.5 80.6 543.5 C81.3 547.5 82 550.5 82.9 552.7 C83.3 553.6 83.7 554 84.3 554.2 Z" fill="none" stroke="#3f5c9c" stroke-width="0.7"/>
<rect x="37.1" y="497.9" width="56.7" height="56.5" fill="none" stroke="#1a1a1a" stroke-width="1.1"/>
<line x1="37.10" y1="554.40" x2="38.30" y2="554.40" stroke="#222" stroke-width="0.6"/>
<line x1="37.10" y1="550.90" x2="37.90" y2="550.90" stroke="#222" stroke-width="0.6"/>
<line x1="37.10" y1="547.40" x2="37.90" y2="547.40" stroke="#222" stroke-width="0.6"/>
<line x1="37.10" y1="543.90" x2="37.90" y2="543.90" stroke="#222" stroke-width="0.6"/>
<line x1="37.10" y1="540.40" x2="38.30" y2="540.40" stroke="#222" stroke-width="0.6"/>
<line x1="37.10" y1="536.90" x2="37.90" y2="536.90" stroke="#222" stroke-width="0.6"/>
<line x1="37.10" y1="533.40" x2="37.90" y2="533.40" stroke="#222" stroke-width="0.6"/>
<line x1="37.10" y1="529.90" x2="37.90" y2="529.90" stroke="#222" stroke-width="0.6"/>
<line x1="37.10" y1="526.40" x2="38.30" y2="526.40" stroke="#222" stroke-width="0.6"/>
<line x1="37.10" y1="522.90" x2="37.90" y2="522.90" stroke="#222" stroke-width="0.6"/>
<line x1="37.10" y1="519.40" x2="37.90" y2="519.40" stroke="#222" stroke-width="0.6"/>
<line x1="37.10" y1="515.90" x2="37.90" y2="515.90" stroke="#222" stroke-width="0.6"/>
<line x1="37.10" y1="512.40" x2="38.30" y2="512.40" stroke="#222" stroke-width="0.6"/>
<line x1="37.10" y1="508.90" x2="37.90" y2="508.90" stroke="#222" stroke-width="0.6"/>
<line x1="37.10" y1="505.40" x2="37.90" y2="505.40" stroke="#222" stroke-width="0.6"/>
<line x1="37.10" y1="501.90" x2="37.90" y2="501.90" stroke="#222" stroke-width="0.6"/>
<line x1="37.10" y1="498.40" x2="38.30" y2="498.40" stroke="#222" stroke-width="0.6"/>
<line x1="37.10" y1="554.40" x2="37.10" y2="553.20" stroke="#222" stroke-width="0.6"/>
<line x1="40.60" y1="554.40" x2="40.60" y2="553.60" stroke="#222" stroke-width="0.6"/>
<line x1="44.10" y1="554.40" x2="44.10" y2="553.60" stroke="#222" stroke-width="0.6"/>
<line x1="47.60" y1="554.40" x2="47.60" y2="553.60" stroke="#222" stroke-width="0.6"/>
<line x1="51.10" y1="554.40" x2="51.10" y2="553.20" stroke="#222" stroke-width="0.6"/>
<line x1="54.60" y1="554.40" x2="54.60" y2="553.60" stroke="#222" stroke-width="0.6"/>
<line x1="58.10" y1="554.40" x2="58.10" y2="553.60" stroke="#222" stroke-width="0.6"/>
<line x1="61.60" y1="554.40" x2="61.60" y2="553.60" stroke="#222" stroke-width="0.6"/>
<line x1="65.10" y1="554.40" x2="65.10" y2="553.20" stroke="#222" stroke-width="0.6"/>
<line x1="68.60" y1="554.40" x2="68.60" y2="553.60" stroke="#222" stroke-width="0.6"/>
<line x1="72.10" y1="554.40" x2="72.10" y2="553.60" stroke="#222" stroke-width="0.6"/>
<line x1="75.60" y1="554.40" x2="75.60" y2="553.60" stroke="#222" stroke-width="0.6"/>
<line x1="79.10" y1="554.40" x2="79.10" y2="553.20" stroke="#222" stroke-width="0.6"/>
<line x1="82.60" y1="554.40" x2="82.60" y2="553.60" stroke="#222" stroke-width="0.6"/>
<line x1="86.10" y1="554.40" x2="86.10" y2="553.60" stroke="#222" stroke-width="0.6"/>
<line x1="89.60" y1="554.40" x2="89.60" y2="553.60" stroke="#222" stroke-width="0.6"/>
<line x1="93.10" y1="554.40" x2="93.10" y2="553.20" stroke="#222" stroke-width="0.6"/>
<line x1="65.60" y1="502.50" x2="65.60" y2="554.00" stroke="#111" stroke-width="1.3" stroke-dasharray="2,2.3"/>
<text x="39.00" y="504.28" font-size="7.0" textLength="24.30" lengthAdjust="spacingAndGlyphs" fill="#c8304a">BRM014</text>
<text x="73.10" y="504.28" font-size="7.0" textLength="20.20" lengthAdjust="spacingAndGlyphs" fill="#4a6a9a">Vehicle</text>
<line x1="37.30" y1="563.40" x2="89.50" y2="563.40" stroke="#222" stroke-width="0.9"/>
<path d="M93.6 563.4 L88.6 561.5 L88.6 565.3 Z" fill="#111"/>
<text x="65.50" y="573.70" font-size="8.0" text-anchor="middle" textLength="23.20" lengthAdjust="spacingAndGlyphs">hCXCR4</text>
<text x="198.90" y="492.30" font-size="11" font-weight="bold" fill="#111">J</text>
<text x="228.10" y="525.60" font-size="8.6" text-anchor="middle" textLength="37.40" lengthAdjust="spacingAndGlyphs" transform="rotate(-90 228.10 525.60)">CXCR4 (MFI)</text>
<line x1="258.50" y1="497.60" x2="258.50" y2="555.08" stroke="#1a1a1a" stroke-width="1.15"/>
<line x1="257.93" y1="554.50" x2="285.40" y2="554.50" stroke="#1a1a1a" stroke-width="1.15"/>
<line x1="255.70" y1="554.30" x2="258.50" y2="554.30" stroke="#1a1a1a" stroke-width="1.035"/>
<text x="251.80" y="556.96" font-size="7.2" text-anchor="end" textLength="3.30" lengthAdjust="spacingAndGlyphs">0</text>
<line x1="255.70" y1="543.50" x2="258.50" y2="543.50" stroke="#1a1a1a" stroke-width="1.035"/>
<text x="251.80" y="546.16" font-size="7.2" text-anchor="end" textLength="14.80" lengthAdjust="spacingAndGlyphs">2,000</text>
<line x1="255.70" y1="532.70" x2="258.50" y2="532.70" stroke="#1a1a1a" stroke-width="1.035"/>
<text x="251.80" y="535.36" font-size="7.2" text-anchor="end" textLength="14.80" lengthAdjust="spacingAndGlyphs">4,000</text>
<line x1="255.70" y1="521.90" x2="258.50" y2="521.90" stroke="#1a1a1a" stroke-width="1.035"/>
<text x="251.80" y="524.56" font-size="7.2" text-anchor="end" textLength="14.80" lengthAdjust="spacingAndGlyphs">6,000</text>
<line x1="255.70" y1="511.10" x2="258.50" y2="511.10" stroke="#1a1a1a" stroke-width="1.035"/>
<text x="251.80" y="513.76" font-size="7.2" text-anchor="end" textLength="14.80" lengthAdjust="spacingAndGlyphs">8,000</text>
<line x1="255.70" y1="500.30" x2="258.50" y2="500.30" stroke="#1a1a1a" stroke-width="1.035"/>
<text x="251.80" y="502.96" font-size="7.2" text-anchor="end" textLength="18.10" lengthAdjust="spacingAndGlyphs">10,000</text>
<line x1="265.80" y1="554.50" x2="265.80" y2="556.80" stroke="#1a1a1a" stroke-width="1.035"/>
<line x1="277.30" y1="554.50" x2="277.30" y2="556.80" stroke="#1a1a1a" stroke-width="1.035"/>
<text x="271.60" y="492.73" font-size="8.7" text-anchor="middle" textLength="23.30" lengthAdjust="spacingAndGlyphs">Jurkat</text>
<circle cx="265.80" cy="512.70" r="1.75" fill="#1c426f"/>
<circle cx="263.90" cy="516.20" r="1.75" fill="#1c426f"/>
<circle cx="267.70" cy="516.20" r="1.75" fill="#1c426f"/>
<circle cx="275.50" cy="551.00" r="1.75" fill="#c3122f"/>
<circle cx="277.50" cy="549.00" r="1.75" fill="#c3122f"/>
<circle cx="279.50" cy="551.00" r="1.75" fill="#c3122f"/>
<line x1="262.10" y1="516.00" x2="269.50" y2="516.00" stroke="#333" stroke-width="1.0"/>
<circle cx="274.70" cy="543.40" r="0.85" fill="#383838"/>
<circle cx="277.30" cy="543.40" r="0.85" fill="#383838"/>
<circle cx="279.90" cy="543.40" r="0.85" fill="#383838"/>
<line x1="322.50" y1="497.60" x2="322.50" y2="555.08" stroke="#1a1a1a" stroke-width="1.15"/>
<line x1="321.93" y1="554.50" x2="349.50" y2="554.50" stroke="#1a1a1a" stroke-width="1.15"/>
<line x1="319.70" y1="554.40" x2="322.50" y2="554.40" stroke="#1a1a1a" stroke-width="1.035"/>
<text x="316.00" y="557.06" font-size="7.2" text-anchor="end" textLength="3.30" lengthAdjust="spacingAndGlyphs">0</text>
<line x1="319.70" y1="543.60" x2="322.50" y2="543.60" stroke="#1a1a1a" stroke-width="1.035"/>
<text x="316.00" y="546.26" font-size="7.2" text-anchor="end" textLength="14.80" lengthAdjust="spacingAndGlyphs">1,000</text>
<line x1="319.70" y1="532.80" x2="322.50" y2="532.80" stroke="#1a1a1a" stroke-width="1.035"/>
<text x="316.00" y="535.46" font-size="7.2" text-anchor="end" textLength="14.80" lengthAdjust="spacingAndGlyphs">2,000</text>
<line x1="319.70" y1="522.00" x2="322.50" y2="522.00" stroke="#1a1a1a" stroke-width="1.035"/>
<text x="316.00" y="524.66" font-size="7.2" text-anchor="end" textLength="14.80" lengthAdjust="spacingAndGlyphs">3,000</text>
<line x1="319.70" y1="511.20" x2="322.50" y2="511.20" stroke="#1a1a1a" stroke-width="1.035"/>
<text x="316.00" y="513.86" font-size="7.2" text-anchor="end" textLength="14.80" lengthAdjust="spacingAndGlyphs">4,000</text>
<line x1="319.70" y1="500.40" x2="322.50" y2="500.40" stroke="#1a1a1a" stroke-width="1.035"/>
<text x="316.00" y="503.06" font-size="7.2" text-anchor="end" textLength="14.80" lengthAdjust="spacingAndGlyphs">5,000</text>
<line x1="330.20" y1="554.50" x2="330.20" y2="556.80" stroke="#1a1a1a" stroke-width="1.035"/>
<line x1="341.70" y1="554.50" x2="341.70" y2="556.80" stroke="#1a1a1a" stroke-width="1.035"/>
<text x="336.20" y="492.03" font-size="8.7" text-anchor="middle" textLength="20.00" lengthAdjust="spacingAndGlyphs">PDX1</text>
<circle cx="328.20" cy="510.20" r="1.75" fill="#1c426f"/>
<circle cx="330.20" cy="511.00" r="1.75" fill="#1c426f"/>
<circle cx="332.20" cy="510.40" r="1.75" fill="#1c426f"/>
<circle cx="330.20" cy="512.40" r="1.75" fill="#1c426f"/>
<circle cx="329.20" cy="509.50" r="1.75" fill="#1c426f"/>
<circle cx="339.70" cy="540.40" r="1.75" fill="#c3122f"/>
<circle cx="341.70" cy="539.20" r="1.75" fill="#c3122f"/>
<circle cx="343.70" cy="540.40" r="1.75" fill="#c3122f"/>
<line x1="326.50" y1="511.00" x2="333.90" y2="511.00" stroke="#333" stroke-width="1.0"/>
<circle cx="339.10" cy="533.20" r="0.85" fill="#383838"/>
<circle cx="341.70" cy="533.20" r="0.85" fill="#383838"/>
<circle cx="344.30" cy="533.20" r="0.85" fill="#383838"/>
<line x1="387.50" y1="497.60" x2="387.50" y2="555.08" stroke="#1a1a1a" stroke-width="1.15"/>
<line x1="386.93" y1="554.50" x2="413.50" y2="554.50" stroke="#1a1a1a" stroke-width="1.15"/>
<line x1="384.70" y1="554.40" x2="387.50" y2="554.40" stroke="#1a1a1a" stroke-width="1.035"/>
<text x="380.80" y="557.06" font-size="7.2" text-anchor="end" textLength="3.30" lengthAdjust="spacingAndGlyphs">0</text>
<line x1="384.70" y1="540.80" x2="387.50" y2="540.80" stroke="#1a1a1a" stroke-width="1.035"/>
<text x="380.80" y="543.46" font-size="7.2" text-anchor="end" textLength="14.80" lengthAdjust="spacingAndGlyphs">2,000</text>
<line x1="384.70" y1="527.20" x2="387.50" y2="527.20" stroke="#1a1a1a" stroke-width="1.035"/>
<text x="380.80" y="529.86" font-size="7.2" text-anchor="end" textLength="14.80" lengthAdjust="spacingAndGlyphs">4,000</text>
<line x1="384.70" y1="513.60" x2="387.50" y2="513.60" stroke="#1a1a1a" stroke-width="1.035"/>
<text x="380.80" y="516.26" font-size="7.2" text-anchor="end" textLength="14.80" lengthAdjust="spacingAndGlyphs">6,000</text>
<line x1="384.70" y1="500.00" x2="387.50" y2="500.00" stroke="#1a1a1a" stroke-width="1.035"/>
<text x="380.80" y="502.66" font-size="7.2" text-anchor="end" textLength="14.80" lengthAdjust="spacingAndGlyphs">8,000</text>
<line x1="394.30" y1="554.50" x2="394.30" y2="556.80" stroke="#1a1a1a" stroke-width="1.035"/>
<line x1="406.30" y1="554.50" x2="406.30" y2="556.80" stroke="#1a1a1a" stroke-width="1.035"/>
<text x="400.80" y="492.03" font-size="8.7" text-anchor="middle" textLength="21.00" lengthAdjust="spacingAndGlyphs">PDX2</text>
<circle cx="392.30" cy="514.30" r="1.75" fill="#1c426f"/>
<circle cx="394.30" cy="513.50" r="1.75" fill="#1c426f"/>
<circle cx="396.30" cy="514.30" r="1.75" fill="#1c426f"/>
<circle cx="394.30" cy="519.60" r="1.75" fill="#1c426f"/>
<circle cx="404.30" cy="550.80" r="1.75" fill="#c3122f"/>
<circle cx="406.30" cy="549.80" r="1.75" fill="#c3122f"/>
<circle cx="408.30" cy="550.60" r="1.75" fill="#c3122f"/>
<line x1="390.60" y1="515.50" x2="398.00" y2="515.50" stroke="#333" stroke-width="1.0"/>
<circle cx="403.70" cy="541.80" r="0.85" fill="#383838"/>
<circle cx="406.30" cy="541.80" r="0.85" fill="#383838"/>
<circle cx="408.90" cy="541.80" r="0.85" fill="#383838"/>
<line x1="451.50" y1="497.60" x2="451.50" y2="555.08" stroke="#1a1a1a" stroke-width="1.15"/>
<line x1="450.93" y1="554.50" x2="477.80" y2="554.50" stroke="#1a1a1a" stroke-width="1.15"/>
<line x1="448.70" y1="554.40" x2="451.50" y2="554.40" stroke="#1a1a1a" stroke-width="1.035"/>
<text x="444.90" y="557.06" font-size="7.2" text-anchor="end" textLength="3.30" lengthAdjust="spacingAndGlyphs">0</text>
<line x1="448.70" y1="536.23" x2="451.50" y2="536.23" stroke="#1a1a1a" stroke-width="1.035"/>
<text x="444.90" y="538.89" font-size="7.2" text-anchor="end" textLength="14.80" lengthAdjust="spacingAndGlyphs">1,000</text>
<line x1="448.70" y1="518.06" x2="451.50" y2="518.06" stroke="#1a1a1a" stroke-width="1.035"/>
<text x="444.90" y="520.72" font-size="7.2" text-anchor="end" textLength="14.80" lengthAdjust="spacingAndGlyphs">2,000</text>
<line x1="448.70" y1="499.89" x2="451.50" y2="499.89" stroke="#1a1a1a" stroke-width="1.035"/>
<text x="444.90" y="502.55" font-size="7.2" text-anchor="end" textLength="14.80" lengthAdjust="spacingAndGlyphs">3,000</text>
<line x1="458.30" y1="554.50" x2="458.30" y2="556.80" stroke="#1a1a1a" stroke-width="1.035"/>
<line x1="470.60" y1="554.50" x2="470.60" y2="556.80" stroke="#1a1a1a" stroke-width="1.035"/>
<text x="465.30" y="492.03" font-size="8.7" text-anchor="middle" textLength="20.70" lengthAdjust="spacingAndGlyphs">PDX4</text>
<circle cx="456.30" cy="509.20" r="1.75" fill="#1c426f"/>
<circle cx="458.30" cy="508.50" r="1.75" fill="#1c426f"/>
<circle cx="460.30" cy="509.20" r="1.75" fill="#1c426f"/>
<circle cx="458.30" cy="515.00" r="1.75" fill="#1c426f"/>
<circle cx="458.30" cy="517.30" r="1.75" fill="#1c426f"/>
<circle cx="468.40" cy="550.40" r="1.75" fill="#c3122f"/>
<circle cx="470.60" cy="550.40" r="1.75" fill="#c3122f"/>
<circle cx="472.80" cy="550.40" r="1.75" fill="#c3122f"/>
<line x1="454.60" y1="510.50" x2="462.00" y2="510.50" stroke="#333" stroke-width="1.0"/>
<circle cx="468.00" cy="543.10" r="0.85" fill="#383838"/>
<circle cx="470.60" cy="543.10" r="0.85" fill="#383838"/>
<circle cx="473.20" cy="543.10" r="0.85" fill="#383838"/>
<circle cx="483.10" cy="520.80" r="1.7" fill="#1c426f"/>
<circle cx="483.10" cy="530.70" r="1.7" fill="#c3122f"/>
<text x="488.20" y="523.39" font-size="7.2" textLength="19.60" lengthAdjust="spacingAndGlyphs">Vehicle</text>
<text x="488.20" y="533.29" font-size="7.2" textLength="23.80" lengthAdjust="spacingAndGlyphs">BRM014</text>
<text x="6.25" y="601.30" font-size="11" font-weight="bold" fill="#111">K</text>
<text x="115.80" y="601.03" font-size="8.7" textLength="30.20" lengthAdjust="spacingAndGlyphs" font-style="italic">CXCR4</text>
<text x="19.90" y="650.00" font-size="8.8" text-anchor="middle" textLength="56.40" lengthAdjust="spacingAndGlyphs" transform="rotate(-90 19.90 650.00)">Relative expression</text>
<line x1="39.50" y1="621.60" x2="39.50" y2="679.08" stroke="#1a1a1a" stroke-width="1.15"/>
<line x1="38.92" y1="678.50" x2="66.20" y2="678.50" stroke="#1a1a1a" stroke-width="1.15"/>
<line x1="36.70" y1="678.70" x2="39.50" y2="678.70" stroke="#1a1a1a" stroke-width="1.035"/>
<text x="33.10" y="681.36" font-size="7.2" text-anchor="end" textLength="8.20" lengthAdjust="spacingAndGlyphs">0.0</text>
<line x1="36.70" y1="660.60" x2="39.50" y2="660.60" stroke="#1a1a1a" stroke-width="1.035"/>
<text x="33.10" y="663.26" font-size="7.2" text-anchor="end" textLength="8.20" lengthAdjust="spacingAndGlyphs">0.5</text>
<line x1="36.70" y1="642.50" x2="39.50" y2="642.50" stroke="#1a1a1a" stroke-width="1.035"/>
<text x="33.10" y="645.16" font-size="7.2" text-anchor="end" textLength="8.20" lengthAdjust="spacingAndGlyphs">1.0</text>
<line x1="36.70" y1="624.40" x2="39.50" y2="624.40" stroke="#1a1a1a" stroke-width="1.035"/>
<text x="33.10" y="627.06" font-size="7.2" text-anchor="end" textLength="8.20" lengthAdjust="spacingAndGlyphs">1.5</text>
<line x1="47.10" y1="678.50" x2="47.10" y2="680.80" stroke="#1a1a1a" stroke-width="1.035"/>
<line x1="58.50" y1="678.50" x2="58.50" y2="680.80" stroke="#1a1a1a" stroke-width="1.035"/>
<text x="52.80" y="616.43" font-size="8.7" text-anchor="middle" textLength="23.60" lengthAdjust="spacingAndGlyphs">Jurkat</text>
<line x1="47.10" y1="636.40" x2="47.10" y2="648.60" stroke="#505050" stroke-width="0.9"/>
<circle cx="47.20" cy="636.40" r="1.75" fill="#1c426f"/>
<circle cx="47.20" cy="642.70" r="1.75" fill="#1c426f"/>
<circle cx="47.20" cy="648.60" r="1.75" fill="#1c426f"/>
<circle cx="58.60" cy="658.40" r="1.75" fill="#c3122f"/>
<circle cx="56.60" cy="662.30" r="1.75" fill="#c3122f"/>
<circle cx="60.50" cy="662.30" r="1.75" fill="#c3122f"/>
<circle cx="58.60" cy="662.30" r="1.75" fill="#c3122f"/>
<line x1="43.60" y1="642.70" x2="50.60" y2="642.70" stroke="#333" stroke-width="1.0"/>
<circle cx="57.20" cy="652.80" r="0.85" fill="#383838"/>
<circle cx="59.80" cy="652.80" r="0.85" fill="#383838"/>
<line x1="90.50" y1="621.60" x2="90.50" y2="679.08" stroke="#1a1a1a" stroke-width="1.15"/>
<line x1="89.92" y1="678.50" x2="117.70" y2="678.50" stroke="#1a1a1a" stroke-width="1.15"/>
<line x1="87.70" y1="678.70" x2="90.50" y2="678.70" stroke="#1a1a1a" stroke-width="1.035"/>
<text x="84.20" y="681.36" font-size="7.2" text-anchor="end" textLength="8.20" lengthAdjust="spacingAndGlyphs">0.0</text>
<line x1="87.70" y1="660.60" x2="90.50" y2="660.60" stroke="#1a1a1a" stroke-width="1.035"/>
<text x="84.20" y="663.26" font-size="7.2" text-anchor="end" textLength="8.20" lengthAdjust="spacingAndGlyphs">0.5</text>
<line x1="87.70" y1="642.50" x2="90.50" y2="642.50" stroke="#1a1a1a" stroke-width="1.035"/>
<text x="84.20" y="645.16" font-size="7.2" text-anchor="end" textLength="8.20" lengthAdjust="spacingAndGlyphs">1.0</text>
<line x1="87.70" y1="624.40" x2="90.50" y2="624.40" stroke="#1a1a1a" stroke-width="1.035"/>
<text x="84.20" y="627.06" font-size="7.2" text-anchor="end" textLength="8.20" lengthAdjust="spacingAndGlyphs">1.5</text>
<line x1="98.10" y1="678.50" x2="98.10" y2="680.80" stroke="#1a1a1a" stroke-width="1.035"/>
<line x1="109.20" y1="678.50" x2="109.20" y2="680.80" stroke="#1a1a1a" stroke-width="1.035"/>
<text x="103.90" y="616.43" font-size="8.7" text-anchor="middle" textLength="20.30" lengthAdjust="spacingAndGlyphs">PDX1</text>
<line x1="98.10" y1="636.50" x2="98.10" y2="649.20" stroke="#505050" stroke-width="0.9"/>
<line x1="109.20" y1="652.20" x2="109.20" y2="659.00" stroke="#505050" stroke-width="0.9"/>
<circle cx="98.20" cy="636.50" r="1.75" fill="#1c426f"/>
<circle cx="98.20" cy="642.50" r="1.75" fill="#1c426f"/>
<circle cx="98.20" cy="649.20" r="1.75" fill="#1c426f"/>
<circle cx="109.80" cy="652.20" r="1.75" fill="#c3122f"/>
<circle cx="107.30" cy="659.00" r="1.75" fill="#c3122f"/>
<circle cx="109.80" cy="659.30" r="1.75" fill="#c3122f"/>
<circle cx="112.30" cy="659.00" r="1.75" fill="#c3122f"/>
<line x1="94.60" y1="642.50" x2="101.60" y2="642.50" stroke="#333" stroke-width="1.0"/>
<line x1="105.80" y1="656.80" x2="112.60" y2="656.80" stroke="#333" stroke-width="1.0"/>
<circle cx="109.20" cy="647.50" r="0.85" fill="#383838"/>
<line x1="141.50" y1="621.60" x2="141.50" y2="679.08" stroke="#1a1a1a" stroke-width="1.15"/>
<line x1="140.93" y1="678.50" x2="168.50" y2="678.50" stroke="#1a1a1a" stroke-width="1.15"/>
<line x1="138.70" y1="678.70" x2="141.50" y2="678.70" stroke="#1a1a1a" stroke-width="1.035"/>
<text x="135.30" y="681.36" font-size="7.2" text-anchor="end" textLength="8.20" lengthAdjust="spacingAndGlyphs">0.0</text>
<line x1="138.70" y1="660.60" x2="141.50" y2="660.60" stroke="#1a1a1a" stroke-width="1.035"/>
<text x="135.30" y="663.26" font-size="7.2" text-anchor="end" textLength="8.20" lengthAdjust="spacingAndGlyphs">0.5</text>
<line x1="138.70" y1="642.50" x2="141.50" y2="642.50" stroke="#1a1a1a" stroke-width="1.035"/>
<text x="135.30" y="645.16" font-size="7.2" text-anchor="end" textLength="8.20" lengthAdjust="spacingAndGlyphs">1.0</text>
<line x1="138.70" y1="624.40" x2="141.50" y2="624.40" stroke="#1a1a1a" stroke-width="1.035"/>
<text x="135.30" y="627.06" font-size="7.2" text-anchor="end" textLength="8.20" lengthAdjust="spacingAndGlyphs">1.5</text>
<line x1="149.20" y1="678.50" x2="149.20" y2="680.80" stroke="#1a1a1a" stroke-width="1.035"/>
<line x1="160.80" y1="678.50" x2="160.80" y2="680.80" stroke="#1a1a1a" stroke-width="1.035"/>
<text x="155.50" y="616.43" font-size="8.7" text-anchor="middle" textLength="21.00" lengthAdjust="spacingAndGlyphs">PDX2</text>
<line x1="149.20" y1="635.80" x2="149.20" y2="649.60" stroke="#505050" stroke-width="0.9"/>
<circle cx="149.50" cy="635.80" r="1.75" fill="#1c426f"/>
<circle cx="146.90" cy="641.70" r="1.75" fill="#1c426f"/>
<circle cx="151.40" cy="643.40" r="1.75" fill="#1c426f"/>
<circle cx="149.50" cy="649.60" r="1.75" fill="#1c426f"/>
<circle cx="159.30" cy="675.40" r="1.75" fill="#c3122f"/>
<circle cx="161.20" cy="674.60" r="1.75" fill="#c3122f"/>
<circle cx="163.10" cy="675.00" r="1.75" fill="#c3122f"/>
<line x1="145.90" y1="642.50" x2="152.50" y2="642.50" stroke="#333" stroke-width="1.0"/>
<circle cx="158.20" cy="667.20" r="0.85" fill="#383838"/>
<circle cx="160.80" cy="667.20" r="0.85" fill="#383838"/>
<circle cx="163.40" cy="667.20" r="0.85" fill="#383838"/>
<line x1="192.50" y1="621.60" x2="192.50" y2="679.08" stroke="#1a1a1a" stroke-width="1.15"/>
<line x1="191.93" y1="678.50" x2="219.20" y2="678.50" stroke="#1a1a1a" stroke-width="1.15"/>
<line x1="189.70" y1="678.70" x2="192.50" y2="678.70" stroke="#1a1a1a" stroke-width="1.035"/>
<text x="186.30" y="681.36" font-size="7.2" text-anchor="end" textLength="8.20" lengthAdjust="spacingAndGlyphs">0.0</text>
<line x1="189.70" y1="660.60" x2="192.50" y2="660.60" stroke="#1a1a1a" stroke-width="1.035"/>
<text x="186.30" y="663.26" font-size="7.2" text-anchor="end" textLength="8.20" lengthAdjust="spacingAndGlyphs">0.5</text>
<line x1="189.70" y1="642.50" x2="192.50" y2="642.50" stroke="#1a1a1a" stroke-width="1.035"/>
<text x="186.30" y="645.16" font-size="7.2" text-anchor="end" textLength="8.20" lengthAdjust="spacingAndGlyphs">1.0</text>
<line x1="189.70" y1="624.40" x2="192.50" y2="624.40" stroke="#1a1a1a" stroke-width="1.035"/>
<text x="186.30" y="627.06" font-size="7.2" text-anchor="end" textLength="8.20" lengthAdjust="spacingAndGlyphs">1.5</text>
<line x1="200.40" y1="678.50" x2="200.40" y2="680.80" stroke="#1a1a1a" stroke-width="1.035"/>
<line x1="211.50" y1="678.50" x2="211.50" y2="680.80" stroke="#1a1a1a" stroke-width="1.035"/>
<text x="206.60" y="616.43" font-size="8.7" text-anchor="middle" textLength="20.70" lengthAdjust="spacingAndGlyphs">PDX4</text>
<line x1="200.40" y1="637.50" x2="200.40" y2="648.00" stroke="#505050" stroke-width="0.9"/>
<circle cx="197.90" cy="638.50" r="1.75" fill="#1c426f"/>
<circle cx="202.80" cy="637.20" r="1.75" fill="#1c426f"/>
<circle cx="197.90" cy="648.90" r="1.75" fill="#1c426f"/>
<circle cx="202.80" cy="647.00" r="1.75" fill="#1c426f"/>
<circle cx="210.00" cy="673.40" r="1.75" fill="#c3122f"/>
<circle cx="211.90" cy="672.60" r="1.75" fill="#c3122f"/>
<circle cx="213.80" cy="673.40" r="1.75" fill="#c3122f"/>
<circle cx="211.00" cy="674.60" r="1.75" fill="#c3122f"/>
<line x1="196.80" y1="642.50" x2="204.00" y2="642.50" stroke="#333" stroke-width="1.0"/>
<circle cx="208.90" cy="664.00" r="0.85" fill="#383838"/>
<circle cx="211.50" cy="664.00" r="0.85" fill="#383838"/>
<circle cx="214.10" cy="664.00" r="0.85" fill="#383838"/>
<circle cx="224.50" cy="633.40" r="1.6" fill="#1c426f"/>
<circle cx="224.50" cy="642.00" r="1.6" fill="#c3122f"/>
<text x="229.10" y="635.92" font-size="7.0" textLength="20.80" lengthAdjust="spacingAndGlyphs">Vehicle</text>
<text x="229.10" y="644.52" font-size="7.0" textLength="23.70" lengthAdjust="spacingAndGlyphs">BRM014</text>
<text x="269.00" y="601.30" font-size="11" font-weight="bold" fill="#111">L</text>
<text x="377.50" y="600.73" font-size="8.7" textLength="25.40" lengthAdjust="spacingAndGlyphs" font-style="italic">CDK6</text>
<text x="279.20" y="650.20" font-size="8.8" text-anchor="middle" textLength="56.40" lengthAdjust="spacingAndGlyphs" transform="rotate(-90 279.20 650.20)">Relative expression</text>
<line x1="299.50" y1="621.40" x2="299.50" y2="679.08" stroke="#1a1a1a" stroke-width="1.15"/>
<line x1="298.93" y1="678.50" x2="326.20" y2="678.50" stroke="#1a1a1a" stroke-width="1.15"/>
<line x1="296.70" y1="678.90" x2="299.50" y2="678.90" stroke="#1a1a1a" stroke-width="1.035"/>
<text x="293.00" y="681.56" font-size="7.2" text-anchor="end" textLength="8.20" lengthAdjust="spacingAndGlyphs">0.0</text>
<line x1="296.70" y1="660.75" x2="299.50" y2="660.75" stroke="#1a1a1a" stroke-width="1.035"/>
<text x="293.00" y="663.41" font-size="7.2" text-anchor="end" textLength="8.20" lengthAdjust="spacingAndGlyphs">0.5</text>
<line x1="296.70" y1="642.60" x2="299.50" y2="642.60" stroke="#1a1a1a" stroke-width="1.035"/>
<text x="293.00" y="645.26" font-size="7.2" text-anchor="end" textLength="8.20" lengthAdjust="spacingAndGlyphs">1.0</text>
<line x1="296.70" y1="624.45" x2="299.50" y2="624.45" stroke="#1a1a1a" stroke-width="1.035"/>
<text x="293.00" y="627.11" font-size="7.2" text-anchor="end" textLength="8.20" lengthAdjust="spacingAndGlyphs">1.5</text>
<line x1="306.60" y1="678.50" x2="306.60" y2="680.80" stroke="#1a1a1a" stroke-width="1.035"/>
<line x1="318.50" y1="678.50" x2="318.50" y2="680.80" stroke="#1a1a1a" stroke-width="1.035"/>
<text x="312.90" y="616.43" font-size="8.7" text-anchor="middle" textLength="23.60" lengthAdjust="spacingAndGlyphs">Jurkat</text>
<line x1="306.60" y1="634.50" x2="306.60" y2="652.20" stroke="#505050" stroke-width="0.9"/>
<line x1="305.00" y1="634.50" x2="308.20" y2="634.50" stroke="#333" stroke-width="0.9"/>
<line x1="305.00" y1="652.20" x2="308.20" y2="652.20" stroke="#333" stroke-width="0.9"/>
<line x1="318.50" y1="661.30" x2="318.50" y2="669.50" stroke="#505050" stroke-width="0.9"/>
<circle cx="304.50" cy="637.80" r="1.75" fill="#1c426f"/>
<circle cx="306.80" cy="637.60" r="1.75" fill="#1c426f"/>
<circle cx="309.00" cy="637.80" r="1.75" fill="#1c426f"/>
<circle cx="306.80" cy="652.20" r="1.75" fill="#1c426f"/>
<circle cx="318.60" cy="661.30" r="1.75" fill="#c3122f"/>
<circle cx="318.60" cy="665.30" r="1.75" fill="#c3122f"/>
<circle cx="318.60" cy="669.50" r="1.75" fill="#c3122f"/>
<line x1="302.85" y1="642.50" x2="310.35" y2="642.50" stroke="#333" stroke-width="1.0"/>
<line x1="314.60" y1="665.60" x2="322.40" y2="665.60" stroke="#333" stroke-width="1.0"/>
<circle cx="318.50" cy="656.80" r="0.85" fill="#383838"/>
<line x1="350.50" y1="621.40" x2="350.50" y2="679.08" stroke="#1a1a1a" stroke-width="1.15"/>
<line x1="349.93" y1="678.50" x2="377.30" y2="678.50" stroke="#1a1a1a" stroke-width="1.15"/>
<line x1="347.70" y1="678.90" x2="350.50" y2="678.90" stroke="#1a1a1a" stroke-width="1.035"/>
<text x="344.10" y="681.56" font-size="7.2" text-anchor="end" textLength="8.20" lengthAdjust="spacingAndGlyphs">0.0</text>
<line x1="347.70" y1="660.75" x2="350.50" y2="660.75" stroke="#1a1a1a" stroke-width="1.035"/>
<text x="344.10" y="663.41" font-size="7.2" text-anchor="end" textLength="8.20" lengthAdjust="spacingAndGlyphs">0.5</text>
<line x1="347.70" y1="642.60" x2="350.50" y2="642.60" stroke="#1a1a1a" stroke-width="1.035"/>
<text x="344.10" y="645.26" font-size="7.2" text-anchor="end" textLength="8.20" lengthAdjust="spacingAndGlyphs">1.0</text>
<line x1="347.70" y1="624.45" x2="350.50" y2="624.45" stroke="#1a1a1a" stroke-width="1.035"/>
<text x="344.10" y="627.11" font-size="7.2" text-anchor="end" textLength="8.20" lengthAdjust="spacingAndGlyphs">1.5</text>
<line x1="357.70" y1="678.50" x2="357.70" y2="680.80" stroke="#1a1a1a" stroke-width="1.035"/>
<line x1="369.20" y1="678.50" x2="369.20" y2="680.80" stroke="#1a1a1a" stroke-width="1.035"/>
<text x="364.00" y="616.43" font-size="8.7" text-anchor="middle" textLength="20.00" lengthAdjust="spacingAndGlyphs">PDX1</text>
<line x1="357.70" y1="635.50" x2="357.70" y2="650.50" stroke="#505050" stroke-width="0.9"/>
<line x1="356.10" y1="635.50" x2="359.30" y2="635.50" stroke="#333" stroke-width="0.9"/>
<line x1="356.10" y1="650.50" x2="359.30" y2="650.50" stroke="#333" stroke-width="0.9"/>
<circle cx="355.20" cy="638.50" r="1.75" fill="#1c426f"/>
<circle cx="357.80" cy="638.20" r="1.75" fill="#1c426f"/>
<circle cx="360.60" cy="638.50" r="1.75" fill="#1c426f"/>
<circle cx="357.80" cy="650.50" r="1.75" fill="#1c426f"/>
<circle cx="367.00" cy="656.80" r="1.75" fill="#c3122f"/>
<circle cx="369.60" cy="656.10" r="1.75" fill="#c3122f"/>
<circle cx="371.60" cy="656.40" r="1.75" fill="#c3122f"/>
<circle cx="367.30" cy="659.40" r="1.75" fill="#c3122f"/>
<circle cx="369.60" cy="658.60" r="1.75" fill="#c3122f"/>
<line x1="353.60" y1="642.50" x2="361.80" y2="642.50" stroke="#333" stroke-width="1.0"/>
<circle cx="369.20" cy="651.20" r="0.85" fill="#383838"/>
<line x1="401.50" y1="621.40" x2="401.50" y2="679.08" stroke="#1a1a1a" stroke-width="1.15"/>
<line x1="400.93" y1="678.50" x2="428.10" y2="678.50" stroke="#1a1a1a" stroke-width="1.15"/>
<line x1="398.70" y1="678.90" x2="401.50" y2="678.90" stroke="#1a1a1a" stroke-width="1.035"/>
<text x="395.20" y="681.56" font-size="7.2" text-anchor="end" textLength="8.20" lengthAdjust="spacingAndGlyphs">0.0</text>
<line x1="398.70" y1="665.05" x2="401.50" y2="665.05" stroke="#1a1a1a" stroke-width="1.035"/>
<text x="395.20" y="667.71" font-size="7.2" text-anchor="end" textLength="8.20" lengthAdjust="spacingAndGlyphs">0.5</text>
<line x1="398.70" y1="651.20" x2="401.50" y2="651.20" stroke="#1a1a1a" stroke-width="1.035"/>
<text x="395.20" y="653.86" font-size="7.2" text-anchor="end" textLength="8.20" lengthAdjust="spacingAndGlyphs">1.0</text>
<line x1="398.70" y1="637.35" x2="401.50" y2="637.35" stroke="#1a1a1a" stroke-width="1.035"/>
<text x="395.20" y="640.01" font-size="7.2" text-anchor="end" textLength="8.20" lengthAdjust="spacingAndGlyphs">1.5</text>
<line x1="398.70" y1="623.50" x2="401.50" y2="623.50" stroke="#1a1a1a" stroke-width="1.035"/>
<text x="395.20" y="626.16" font-size="7.2" text-anchor="end" textLength="8.20" lengthAdjust="spacingAndGlyphs">2.0</text>
<line x1="408.80" y1="678.50" x2="408.80" y2="680.80" stroke="#1a1a1a" stroke-width="1.035"/>
<line x1="420.40" y1="678.50" x2="420.40" y2="680.80" stroke="#1a1a1a" stroke-width="1.035"/>
<text x="415.00" y="616.43" font-size="8.7" text-anchor="middle" textLength="21.00" lengthAdjust="spacingAndGlyphs">PDX2</text>
<line x1="408.80" y1="641.70" x2="408.80" y2="658.50" stroke="#505050" stroke-width="0.9"/>
<line x1="407.20" y1="641.70" x2="410.40" y2="641.70" stroke="#333" stroke-width="0.9"/>
<line x1="407.20" y1="658.50" x2="410.40" y2="658.50" stroke="#333" stroke-width="0.9"/>
<circle cx="408.80" cy="637.50" r="1.75" fill="#1c426f"/>
<circle cx="406.60" cy="653.20" r="1.75" fill="#1c426f"/>
<circle cx="411.10" cy="655.10" r="1.75" fill="#1c426f"/>
<circle cx="408.80" cy="660.40" r="1.75" fill="#1c426f"/>
<circle cx="418.60" cy="670.60" r="1.75" fill="#c3122f"/>
<circle cx="420.80" cy="669.60" r="1.75" fill="#c3122f"/>
<circle cx="422.80" cy="670.40" r="1.75" fill="#c3122f"/>
<line x1="405.00" y1="651.50" x2="412.60" y2="651.50" stroke="#333" stroke-width="1.0"/>
<circle cx="420.40" cy="664.90" r="0.85" fill="#383838"/>
<line x1="452.50" y1="621.40" x2="452.50" y2="679.08" stroke="#1a1a1a" stroke-width="1.15"/>
<line x1="451.93" y1="678.50" x2="479.60" y2="678.50" stroke="#1a1a1a" stroke-width="1.15"/>
<line x1="449.70" y1="678.90" x2="452.50" y2="678.90" stroke="#1a1a1a" stroke-width="1.035"/>
<text x="446.00" y="681.56" font-size="7.2" text-anchor="end" textLength="8.20" lengthAdjust="spacingAndGlyphs">0.0</text>
<line x1="449.70" y1="660.75" x2="452.50" y2="660.75" stroke="#1a1a1a" stroke-width="1.035"/>
<text x="446.00" y="663.41" font-size="7.2" text-anchor="end" textLength="8.20" lengthAdjust="spacingAndGlyphs">0.5</text>
<line x1="449.70" y1="642.60" x2="452.50" y2="642.60" stroke="#1a1a1a" stroke-width="1.035"/>
<text x="446.00" y="645.26" font-size="7.2" text-anchor="end" textLength="8.20" lengthAdjust="spacingAndGlyphs">1.0</text>
<line x1="449.70" y1="624.45" x2="452.50" y2="624.45" stroke="#1a1a1a" stroke-width="1.035"/>
<text x="446.00" y="627.11" font-size="7.2" text-anchor="end" textLength="8.20" lengthAdjust="spacingAndGlyphs">1.5</text>
<line x1="460.00" y1="678.50" x2="460.00" y2="680.80" stroke="#1a1a1a" stroke-width="1.035"/>
<line x1="471.50" y1="678.50" x2="471.50" y2="680.80" stroke="#1a1a1a" stroke-width="1.035"/>
<text x="466.20" y="616.43" font-size="8.7" text-anchor="middle" textLength="20.70" lengthAdjust="spacingAndGlyphs">PDX4</text>
<line x1="460.00" y1="634.50" x2="460.00" y2="650.50" stroke="#505050" stroke-width="0.9"/>
<line x1="458.40" y1="634.50" x2="461.60" y2="634.50" stroke="#333" stroke-width="0.9"/>
<line x1="458.40" y1="650.50" x2="461.60" y2="650.50" stroke="#333" stroke-width="0.9"/>
<line x1="471.50" y1="654.10" x2="471.50" y2="669.20" stroke="#505050" stroke-width="0.9"/>
<circle cx="457.00" cy="638.20" r="1.75" fill="#1c426f"/>
<circle cx="459.80" cy="637.50" r="1.75" fill="#1c426f"/>
<circle cx="462.60" cy="638.20" r="1.75" fill="#1c426f"/>
<circle cx="461.00" cy="639.20" r="1.75" fill="#1c426f"/>
<circle cx="459.80" cy="654.10" r="1.75" fill="#1c426f"/>
<circle cx="471.60" cy="654.10" r="1.75" fill="#c3122f"/>
<circle cx="471.60" cy="661.50" r="1.75" fill="#c3122f"/>
<circle cx="471.60" cy="669.20" r="1.75" fill="#c3122f"/>
<line x1="456.20" y1="642.50" x2="463.80" y2="642.50" stroke="#333" stroke-width="1.0"/>
<line x1="467.75" y1="661.50" x2="475.25" y2="661.50" stroke="#333" stroke-width="1.0"/>
<circle cx="471.50" cy="648.60" r="0.85" fill="#383838"/>
<circle cx="484.20" cy="633.30" r="1.6" fill="#1c426f"/>
<circle cx="484.20" cy="642.70" r="1.6" fill="#c3122f"/>
<text x="489.00" y="635.82" font-size="7.0" textLength="19.70" lengthAdjust="spacingAndGlyphs">Vehicle</text>
<text x="489.00" y="645.22" font-size="7.0" textLength="24.30" lengthAdjust="spacingAndGlyphs">BRM014</text>
<rect x="0.5" y="0.5" width="519" height="688" fill="none" stroke="#5a5a5a" stroke-width="1"/>
</svg></body></html>
